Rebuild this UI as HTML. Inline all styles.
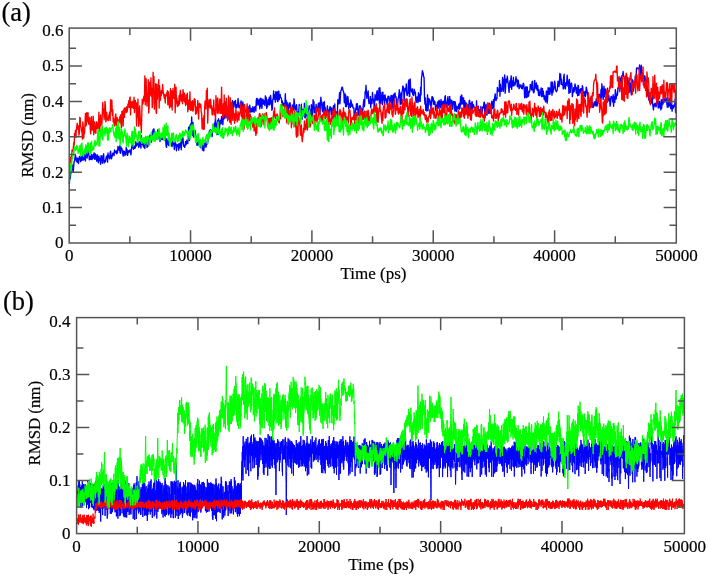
<!DOCTYPE html>
<html><head><meta charset="utf-8"><style>
html,body{margin:0;padding:0;background:#fff;}
svg{display:block;}
#t{position:absolute;left:0;top:0;will-change:transform;}
text{font-family:"Liberation Serif", serif;fill:#000;stroke:#000;stroke-width:0.2px;}
</style></head><body>
<svg id="t" width="708" height="576" viewBox="0 0 708 576">
<defs><filter id="bl" x="-5%" y="-5%" width="110%" height="110%"><feGaussianBlur stdDeviation="0.45"/></filter></defs>
<g fill="none" stroke-linejoin="round" filter="url(#bl)">
<path transform="translate(69.40 0) scale(0.433595 1)" vector-effect="non-scaling-stroke" stroke="#0000ff" stroke-width="1.35" d="M0 184l1-10.5 1 5.1 1-5.1 1-.6 1-.9 1-6.3 1 3.3 1-4.1 1 6.8 1-6.4 1-3.7 1-1 1-3.3 1-2.2 1 2.1 1 3.9 1-2.7 1 3.9 1-4.2 1 .6 1 4.8 1-3.5 1-3.5 1 .5 1 1.6 1 3.1 1-4.8 1 .4 1 3.1 1-5.4 1 1.7 1 3.3 1-1.6 1-1 1 2.1 1-6.6 1 8.1 1-8.3 1-2.1 1 6 1 1.4 1-5.1 1-2.5 1 4.3 1-.2 1 5.4 1-1.9 1-1.5 1 2.8 1-3.1 1-1.9 1 5.3 1-.8 1-2.1 1-2.2 1 3.5 1-5.2 1 6.5 1-.3 1-5.2 1 5.2 1-2.5 1 4.6 1-6.4 1 1.6 1 4.6 1 1.8 1-6.5 1 2.7 1 1.7 1-2.2 1 5.9 1-8.5 1 4 1-4.1 1 7.5 1-3.8 1-1.2 1-4.4 1 9.2 1-1.8 1-.7 1 1.4 1-2.5 1-2.6 1-.6 1-.7 1 6.6 1-9.1 1 2.8 1 .3 1 2.1 1 .7 1-5.9 1-1.8 1 4.4 1 3.3 1-1.7 1-1.6 1-2.3 1 1 1-1.3 1 2.7 1-5.7 1 2.9 1-.9 1 0 1-1.4 1 3.1 1-.5 1-.8 1-6 1 2 1-.6 1 2.7 1-4.8 1 7.1 1 .5 1-6.4 1 1.5 1 .1 1 2.3 1 2.7 1 2.6 1-5.1 1 2.6 1-2.2 1 4.1 1-2.5 1 1.7 1-7.4 1 3.1 1-1.1 1 6.1 1-2 1-2 1-.8 1 1.5 1-1.7 1-.5 1 2.5 1 2.4 1-5.8 1-2.3 1-2.6 1-2.3 1 7 1 .4 1-3.4 1 2.5 1-.1 1-.5 1-5.9 1 2.9 1 1.4 1-3 1 1.6 1-2 1 1.2 1 3.4 1-5.6 1 .3 1 4 1-1.3 1 3.4 1-12.4 1 8.6 1-5 1 3.4 1 3.1 1 1.2 1 0 1-3.7 1 5.2 1-8.4 1-.2 1 4.5 1-5 1 8 1-2 1 1 1-7.2 1-2.4 1 1.1 1 2.5 1-5.5 1 3.7 1-2.2 1 5.7 1-9.6 1 6.6 1-7.1 1-2.4 1 1.1 1-1.9 1 6.3 1 4 1-4.1 1 1.1 1 3 1-4.6 1 1.3 1-.3 1-5.9 1 8.7 1-7.7 1 7.8 1-1.4 1 4.5 1-3.5 1-1.7 1 3.2 1-2.7 1 1.4 1 1.3 1-.7 1 0 1-1.2 1 2.3 1-3.4 1 4.2 1-2.6 1 7.8 1 1.5 1-8.4 1 5.3 1-.9 1-2.9 1 5 1-3.1 1-3.3 1 3.9 1 .4 1 .7 1-4 1 5.9 1 .5 1-5.5 1 1.7 1 2 1-1.3 1 6.1 1-4.4 1-3.5 1 1.3 1 2.7 1 5.2 1-5.9 1-.1 1 1.4 1-1.8 1 5.7 1-6.7 1 4.4 1-2.5 1 .1 1-6.8 1 11.1 1-7.5 1 .6 1-5.2 1 .3 1 6.6 1 1.9 1-.9 1 1.8 1-2.3 1-3.5 1 3.4 1-1.5 1-3.4 1 2.4 1 1.2 1-9.4 1-7.1 1 7.2 1 6.2 1-14.7 1-.9 1-1.1 1 10.2 1-17.1 1 13.1 1 5.1 1-12.6 1 14.6 1-3.4 1-1.9 1 3.2 1-4.3 1 3.9 1 7.4 1-5.5 1 8.6 1-4.1 1 4.2 1-2.1 1-4 1 3.9 1 3.2 1-3.3 1-.5 1 5.4 1-2.7 1-2.9 1 2.7 1 5.2 1-4.7 1 4.4 1 1.1 1-4.6 1-3.9 1-.6 1 3.2 1 2.3 1-2.7 1 0 1-3.9 1 2.1 1-4.3 1-.3 1-4.5 1-3 1 3.1 1-4.1 1-.1 1 5.2 1-4.2 1 6 1-4.1 1-7 1 5.7 1-3 1-4.7 1 8 1-9.1 1-3.9 1 13 1-7.4 1 10.5 1-11.8 1-2.3 1 14 1-15.7 1 5 1 6.3 1-6.8 1-3 1-.1 1 3.6 1-7.4 1 4.9 1-1 1 4.4 1-9.1 1-3.1 1 6.3 1-6 1 2.8 1-.7 1 3.1 1-7.8 1 2.9 1-6.3 1 3 1 9.4 1-8.8 1-1.6 1-1.8 1 6.7 1-3.2 1-8 1 7.8 1-3 1 1.3 1-7.9 1 11.4 1-5.8 1-3.9 1-1 1 .6 1 4.9 1-6.4 1 7.6 1-3.5 1 3.3 1-1.4 1-2.5 1-5.5 1 7 1 2.2 1-1.8 1 1.9 1-4.9 1 .6 1-2.7 1 8.7 1-2.7 1-1.5 1-3.3 1 3.7 1 5.9 1-3 1-2.9 1 6.1 1 .1 1-1 1-.8 1 .5 1-1.4 1 .6 1-3.3 1 5 1-2.5 1 3 1-6.9 1 5.4 1 1.5 1-3.8 1 2.2 1 1.5 1-.4 1-4.7 1 .9 1 4.3 1 .2 1-5.4 1 .7 1-.7 1 4.2 1-10.8 1-1.7 1 6.5 1-6.2 1 1.1 1 3.4 1 1.8 1-5.2 1 8.8 1-10.5 1 8.5 1-8.3 1 1.7 1 8.3 1-5.6 1-3.7 1 1 1 4 1-3.5 1 1.4 1 3.6 1-9.8 1 1.8 1 .1 1 10.7 1-2.5 1 .9 1-6.9 1-.5 1 5.1 1-7.3 1 7.8 1-1.6 1-8 1 4.7 1 1.2 1 8.9 1-1.3 1-9.3 1-.3 1-8.3 1 8.1 1 .1 1-4.6 1 7.5 1-10.5 1 5 1 2.6 1-7.2 1 9.4 1 .2 1-10.4 1-.1 1 8.5 1-2.4 1-2.8 1 3.1 1 .1 1 .5 1 4.8 1-2 1 4 1 .8 1-2.6 1 2.4 1 .9 1-2.3 1-10.4 1 11 1-4.2 1 9.8 1-8 1 2.6 1 .5 1 7.8 1-7.7 1-2.5 1 4.9 1-5 1 4.8 1 1.4 1 2.4 1 7.3 1-13.9 1 3.3 1-2.5 1 4.3 1-11.2 1 3.4 1 4.8 1 3.1 1-1.5 1-2.7 1-1.2 1 8.5 1 5.5 1-5.2 1-1.5 1-.4 1-7.1 1 3.5 1 .4 1 3.6 1-1.4 1-6.4 1 12.7 1 2.1 1-9.7 1 3.4 1-.8 1 2.5 1-11.1 1 14.5 1-8.8 1 8.7 1-5.4 1-2.2 1 1.3 1 5.2 1-7.4 1 1.7 1-.8 1-4.4 1 11.6 1-3.5 1-4.2 1 6.9 1-11.9 1 4.1 1 7.3 1-3.2 1-13.1 1 1.3 1 1.1 1 10.7 1-5.4 1 1.1 1 4.3 1-8.3 1 3.1 1 4.3 1-2.1 1-1.9 1-4.4 1 5.3 1-6 1 9.9 1 1.7 1-12.8 1-4.4 1 4.9 1 3.2 1 4.8 1 1.6 1-9.4 1 .6 1 10.5 1-11.8 1 10.4 1-4.6 1 4.5 1 .2 1 .5 1-.7 1-6.1 1 5.5 1-1.5 1 1.8 1 3.8 1-6.3 1-2.5 1 .8 1 2.4 1 4.6 1-6.5 1 10.7 1-5.1 1-1.9 1-5.9 1 9.6 1 .7 1-12.1 1 14 1 1.7 1-7.7 1 0 1 5.5 1-3.6 1-14.1 1 4.4 1-2.1 1-1.1 1-8.2 1 11 1-7.8 1-5 1-.9 1-2.2 1-.8 1 .9 1 2.6 1 1 1 1.5 1 9.8 1-4.6 1-4.2 1 12.5 1-10.5 1 10.5 1-7.5 1 5.4 1-8 1 2.6 1 9.8 1-3.8 1-.3 1-1.6 1 4.4 1-7.5 1 1.8 1 4.5 1-2.4 1 1 1 3.1 1 .1 1-.2 1 8.1 1-2.1 1 .4 1-4.3 1-1.8 1-4.4 1 6 1-6.1 1 3.8 1 4.7 1 2.9 1-2 1-7.3 1 4.7 1-4.6 1 4.8 1-2.4 1 3 1 1.2 1-3.6 1 1 1-6.4 1-3.9 1 7.1 1-2.1 1-12.8 1 1.7 1-8.2 1 7.1 1 6 1-4.2 1-1.1 1-2.1 1 9.5 1 3.1 1-.3 1-.7 1-6.2 1 11.4 1-7.6 1-1.1 1 4.4 1-11.1 1 6.9 1-.4 1 3.1 1 4.6 1-3.9 1-8.2 1 3.3 1 2.3 1-.1 1-8.4 1-.9 1 9.5 1-1.1 1-3.4 1-7.5 1 16 1-16.6 1 4.9 1 11.2 1-7.7 1 2.6 1-6.1 1 12.2 1-12.6 1 7.9 1-.3 1-3.9 1 9 1-10 1 3.7 1 1.9 1-1.6 1 4.2 1 1.5 1-6.1 1-2.2 1 .2 1 0 1 7.4 1-4.9 1 2.8 1-4.1 1-2.1 1 9.9 1-9.8 1 5.4 1 7.3 1-13.3 1 5.9 1-6.9 1 3.9 1-4.9 1 3.3 1 .1 1 3.3 1 7 1-5.3 1 1 1-3.7 1-1.2 1-3.4 1-4.3 1 7.7 1 7.2 1-6 1-5.8 1 10.9 1-11.7 1-1.8 1-4.3 1 .9 1 4.1 1 9.9 1-8.7 1-4.1 1 2.1 1 .8 1-7.1 1 9.8 1 1.9 1-3.1 1 .9 1-11.8 1-1.6 1 16.5 1-.2 1-17.3 1 11.4 1-1.3 1 2.9 1 0 1-3.2 1 5.9 1 .4 1 .4 1-6.3 1 1.1 1 3.3 1-1.4 1 8.4 1 1.8 1-2.3 1-3.3 1 1.7 1 4.1 1-9.9 1 8.4 1-2 1-4.6 1 6.9 1-14.3 1 7.8 1-16.9 1-2.6 1-4.8 1 1.4 1 1.5 1 3.4 1 .3 1 20.3 1 6.6 1-6.1 1 12.4 1-5.7 1 6.2 1-7.9 1-8.2 1 16 1-6.9 1-5.5 1 2 1-.8 1 5.4 1-3.7 1 9.7 1-4 1-10.1 1-.3 1 4.3 1-3.1 1 6.3 1 .3 1-3.4 1 .8 1 4.5 1 4.1 1 .6 1-6.1 1 3.8 1-6.6 1 5.1 1-6 1 7.1 1-8 1 1.7 1 3.6 1 2.1 1-8.2 1 2.9 1 3.5 1 .3 1-4.7 1 2.2 1-2.5 1 7 1-3.6 1-7.9 1-1 1 7.3 1 4.4 1-4.9 1 3.5 1-6 1-3.3 1 8.4 1-2.8 1 2.9 1-8.8 1 7.1 1-3.8 1 7.5 1-6.8 1 .1 1 1.4 1 7.4 1-4.5 1-3.3 1 .6 1-.5 1 9.5 1-9.1 1 3.5 1 5.3 1 .8 1-5.3 1 2.5 1-1.6 1 1 1-4 1 5.3 1-6.2 1 4.9 1-11.4 1 8 1-9.9 1 .4 1 8.6 1-6.1 1 6 1-5.9 1 11.2 1-4 1-4.4 1 5 1 3.2 1-6.1 1 5.6 1 5.2 1-2 1-4.4 1-2.3 1 5.3 1-9.3 1-.7 1 4.6 1-1.5 1 9.8 1-6.1 1-4.8 1-.5 1 6.9 1-4.3 1 .6 1 1.6 1 1.4 1-.7 1 .3 1 5.3 1 .9 1-12.9 1 13.6 1-5.1 1 4.9 1-8.1 1 4.1 1-.1 1-.4 1 4.9 1-.7 1-7.4 1 3.6 1 3.5 1-1.4 1-5.2 1 1.2 1-.9 1-4.8 1-.3 1 13.2 1-9.7 1 3.1 1-4.7 1 10.4 1 .7 1-8.9 1 3.6 1-6.1 1 9.6 1-1.3 1-8.9 1 10.1 1-4.9 1-1.5 1-1.1 1-4.5 1 1.1 1 6.2 1-3.6 1-5.3 1 8.1 1-8.3 1-2.4 1-3.3 1 5.9 1 .9 1-2.7 1 .8 1-11.2 1 4.2 1-2.4 1 .9 1 .9 1-10.7 1 15.8 1-11.9 1 5.5 1 1.1 1 .4 1-3.3 1-10.5 1 3.8 1 9.9 1-9.9 1-2.5 1-3.8 1 18.3 1-5.1 1-9.2 1 3.4 1-.3 1-5.9 1 4.3 1 2.8 1 4.7 1 4.4 1-8 1-3.6 1 6.4 1-8.1 1-3.3 1 13.5 1-8.4 1 3.2 1 1.7 1-8.5 1 8.6 1-.9 1-2.4 1 2.2 1-4.3 1-3.8 1 5.1 1-2.6 1 7.6 1-3.3 1-3.3 1 2.7 1 5.8 1-.7 1-3.1 1 2 1-2 1 .6 1 2.9 1-1.4 1 1.8 1-4.5 1-1 1 1.4 1 4.6 1 8.6 1-1.5 1-8.8 1-.9 1 10.9 1-2.7 1-7.9 1 9.9 1-4.5 1 3.7 1-5 1 1.3 1-2.3 1-5.7 1 3.1 1-2.3 1 4.7 1-8 1-.6 1 8.5 1 2.3 1 .8 1-1.9 1-10.6 1 4.3 1 1.3 1 2.7 1-5.8 1 5.4 1 2 1-4.8 1 4.7 1 5.1 1-5.6 1 6 1-.5 1-3.8 1 .4 1-3.9 1 8.8 1-7.2 1-1 1 7.9 1-5.3 1 4.8 1 3.6 1-3.7 1 1.4 1 4.7 1-.9 1-10 1 .9 1 11.2 1-4.9 1-10.4 1 .3 1 6 1-6.3 1 6.6 1-3.1 1 .5 1-9.9 1 8.5 1 4.9 1-13.2 1 10.6 1-2.4 1-1.2 1-3.3 1-4.7 1 1.8 1 7 1 .7 1 1.3 1-1.2 1-.2 1-5.1 1-4.3 1 5.3 1 .2 1-2.7 1-10.4 1 4.9 1-4.2 1 10.2 1-5.3 1 4.6 1 1.2 1-.5 1 4.6 1-11.8 1-3.1 1 12.3 1 2.3 1 .1 1-6.1 1 2.8 1-3 1-7.4 1 5.4 1 5.7 1-4.8 1 12 1-14 1 6.2 1 6.8 1-7.1 1-1.9 1-.3 1 3.1 1 10.4 1-4.3 1 .3 1-5 1 4.1 1-2.2 1-5.6 1 1.7 1 2.1 1 5.3 1-5.2 1 3 1 5 1-10.5 1 .4 1 9.6 1-3.1 1-2.5 1 1.9 1-2.8 1 4.7 1-4.7 1 6 1-9.1 1 1.8 1 5.8 1-1.1 1 3.8 1-3.2 1-1.3 1 5 1-2.2 1-7.2 1 1.9 1 2.1 1 2.9 1 2.5 1 4.7 1-.7 1 5.1 1-1.5 1-6.2 1 8.8 1-1.5 1-7.1 1 3.9 1 5.2 1-4.7 1 4.9 1-1.8 1 .4 1-4 1 2.8 1-3.3 1 4.2 1-7 1 5.2 1 2.3 1-2.5 1-3.2 1 .8 1-5.4 1-1.8 1 1.3 1 .9 1 5.1 1-12 1 8.7 1-14.3 1 4.3 1 4.7 1 6.6 1-8.8 1-4.5 1 10.7 1-1.3 1-6.5 1 2 1 1 1 3.9 1 1.4 1-9.2 1 12.8 1-5.3 1-.3 1 5.4 1-2.3 1 7.8 1-2.3 1-7.3 1-.2 1 .8 1 1 1 3.7 1-7.2 1 11.6 1-7.9 1-1.7 1 5.6 1-12.6 1 2.3 1 7 1-3.5 1-1.5 1 1.2 1-7.3 1 .3 1-6.8 1-3 1 13.3 1-13.3 1-.1 1 10.6 1-12.5 1-.4 1-.4 1-.6 1-3.5 1 4.8 1 .4 1 3.1 1 3.3 1-.2 1 4.6 1 1 1-14 1 13 1-8.6 1-1.3 1 10.4 1-6.7 1 3 1 8 1-9.5 1 .4 1 6.3 1 5.4 1-3.2 1-12.2 1 3.3 1 .8 1 7.5 1-4.2 1-2.4 1 .4 1-8.8 1 1.8 1-1.1 1-8.8 1 .8 1-.7 1-.1 1 .6 1 .4 1 .6 1-4.6 1 4.4 1 7.9 1-4.4 1-7.8 1 6.6 1 7.2 1-5.4 1 3.8 1 7.9 1-7 1 2.2 1-4.8 1 2.5 1 12.3 1-7 1-3.6 1 3.9 1 7.1 1 5.3 1-6.4 1 10.2 1-6.8 1 8 1 1.8 1 .6 1-4.6 1 1.6 1 2.6 1-8 1 8.6 1 2.8 1 3.4 1-5 1-.9 1 2 1-2.8 1 1.9 1 1.7 1-2 1-4.5 1 1.9 1-4.8 1 10.6 1-3.6 1 3.2 1-6.3 1 4.1 1 2.1 1 2.4 1-10.2 1 8.6 1-6.2 1-2.6 1 4.5 1-2.4 1-1.3 1-1.6 1 3.4 1-1.4 1 .5 1-3.2 1 1.7 1 4.4 1 3.1 1-5.8 1 5.7 1-4.5 1-4.5 1 7.7 1-5.7 1 5.7 1 2.9 1-6.8 1 1.7 1 7.6 1-5.6 1 1.4 1 1.2 1-3 1-.5 1 1.7 1-7.6 1 13.7 1-11.3"/>
<path transform="translate(69.40 0) scale(0.433595 1)" vector-effect="non-scaling-stroke" stroke="#ff0000" stroke-width="1.35" d="M0 173.3l1-1.2 1-3.6 1-11.5 1 6.9 1-6.2 1-7.8 1 1.6 1-.3 1-3.1 1-5.6 1 2.8 1-11.9 1 1.5 1-4.8 1 7.3 1-7.3 1-3.2 1-3.8 1 5.4 1 .9 1-3.6 1 9.3 1-1.8 1-16 1 1 1 8.4 1 .6 1 4 1 .9 1 6.9 1-17.1 1 4.6 1 11.5 1-4.3 1-1.4 1-8.5 1-10.5 1 12.7 1-1.1 1-12.4 1 3.9 1 5 1-8.7 1 10.3 1 1.2 1-1 1-6 1 11.5 1 5.1 1-5.7 1-11.5 1 13.2 1-7.9 1 8.1 1-13.8 1 18.4 1-5.3 1-7.6 1 7.3 1 3.9 1 .3 1-10.2 1-1.5 1 7 1-5.3 1 1.6 1 4.2 1-16.9 1 12.5 1 6.8 1-10.2 1-6.5 1 10.8 1-6 1 4.7 1-12.1 1-9.7 1 10.8 1-4.3 1 10.8 1-4.6 1-13.8 1 3.5 1 16.9 1-1.4 1-8.3 1 5.4 1 2.3 1-.9 1 1.6 1-5.4 1-.7 1-2.5 1 8.5 1-20.7 1 10.8 1 1.1 1-11.3 1 14.9 1-5.6 1 12.3 1-3.7 1 5.4 1 2.3 1-4.2 1-5.4 1-2.3 1 12.2 1-6.4 1-2.4 1 3.6 1-1.4 1 4.7 1-3.6 1 0 1-3.7 1 5.6 1-7.6 1 8.3 1 4.3 1-15.9 1-.7 1 10.3 1 4.8 1-14.9 1-2.3 1 8.5 1-9.7 1 .6 1 1 1 3.3 1-5.8 1 5 1-2.2 1-5.7 1 2.6 1-5.8 1 6.7 1-9.3 1-1.1 1 17.9 1-12.8 1 1.7 1 3.5 1-6.1 1 1.6 1 5.6 1-.2 1-11 1 15.3 1-9.6 1-2.5 1 3.4 1 6.2 1 15.9 1-23.3 1 14.2 1-17.6 1 17.2 1 10.1 1-12.2 1-8.4 1 8.4 1 10.5 1-.4 1 7.9 1-18.8 1-14.2 1 4.8 1-.7 1-5.5 1-1.9 1 5 1-25 1 28.9 1-15.5 1-10.8 1 20.8 1 6.7 1-10.5 1-2.4 1-13.4 1 33.2 1-6.4 1-24.3 1 2.5 1 10.3 1-17.3 1 18.5 1-8.2 1 19.6 1-3.5 1-31.9 1 16.7 1-12.5 1 32.7 1-12.8 1 4.1 1-16.9 1 28.6 1 1.2 1-29.1 1 14.9 1-10.4 1 6.4 1-15.6 1 28.5 1-22.5 1 8.2 1 6.4 1-8.9 1 4.3 1-5.4 1 3.1 1-8.9 1 6.3 1 3 1 2.5 1 2.2 1-3.8 1 8.4 1-7.5 1-.2 1-2 1 2.6 1-5.3 1 14.1 1-13 1 4.6 1 7.7 1 4 1-8.5 1-10.8 1 18 1-.9 1-15 1 19.3 1-17.2 1-4.4 1 9.5 1-3.1 1 3.9 1-14.5 1 28.5 1-19.1 1-6.5 1 16.5 1-5.5 1 8.4 1-5.3 1 2.2 1 2 1-9.9 1 8.3 1-10 1-3.6 1 6.6 1 4.2 1-3.5 1-3.2 1 9.3 1-14.1 1 3.9 1 7.2 1-7.7 1 9 1-.3 1 3.8 1-10.7 1 1.8 1 7.5 1-10.9 1 18.6 1-11.6 1-.1 1 9.4 1-6.2 1-11.5 1 15.3 1 3.3 1-8.8 1 2 1 6.5 1-9.5 1 10.6 1-1.7 1-5.9 1-5 1 6.4 1-5.5 1 14.7 1-7.6 1 6.8 1-4.3 1 .9 1-9.6 1 10.7 1 7.9 1-13.7 1-2.2 1 4.2 1-2 1-1.2 1 7.9 1 1.5 1 15.3 1-10.4 1 4.2 1 6.8 1-13.4 1 13.1 1-22.1 1-6.1 1 4.4 1 3.5 1-18.2 1 14.2 1-16.6 1 34.8 1-13.9 1-4.9 1-4.4 1 4.5 1 3.5 1-8.7 1 1.1 1 8.4 1-2.9 1 8.6 1 .6 1-7 1 2.8 1-10.7 1 14.8 1-5.7 1 2.9 1 7.5 1-23.9 1 13.9 1-10.2 1 13.9 1-15.3 1 5.2 1 8.3 1 2.1 1-5.5 1-9.1 1 1.7 1 12.9 1-8.6 1-17.8 1 26.1 1-3.3 1 7.5 1-13.5 1 12.8 1-21.8 1 19.4 1-12.5 1 10.1 1 5.6 1-19.4 1 11.3 1 1.9 1 9.6 1-7.7 1-17.2 1 15.4 1 4.2 1 6.8 1-24.6 1 9 1 17.6 1-22 1 1.3 1 12.2 1 4.6 1-12.2 1 6.7 1-1.4 1 9.7 1-9.4 1 6.4 1-11.4 1 4.7 1 .8 1 7.5 1-3 1-7.3 1 8.3 1 .1 1-5.9 1-1.8 1 .6 1-9.3 1 11.7 1 1.3 1-6.6 1 10.6 1-14.6 1 6 1 2.5 1 14.5 1-24.5 1 15.7 1 2.6 1-5.2 1 5.1 1-14.3 1-4.6 1 17.6 1-11.2 1 6.2 1-7.8 1 15.5 1-.4 1-9.5 1 9 1-3.6 1-2.6 1 3.5 1 0 1 6.6 1-1.4 1-5.2 1 10.5 1-9.5 1 5.7 1 1.5 1 6.7 1-14.5 1 12.6 1-9.9 1-2.8 1-3.2 1 7.2 1-3.9 1-7 1-.5 1 3.2 1-1.3 1 11 1-.7 1-3 1-4.3 1-4.5 1 1.4 1 6 1 3.9 1-5.2 1-6.3 1 .9 1-.7 1-1.1 1 2.6 1 2.6 1 8.2 1-7.4 1 8.3 1 1.8 1-10.5 1 10.4 1-3.3 1-7.3 1 4.4 1-1.9 1-3.2 1 .1 1 .6 1 1.7 1-8.3 1 4.3 1-8 1 8.7 1 2.1 1-3.7 1 2.4 1 3.2 1-6.6 1 2.1 1 3.6 1 2.3 1-3.8 1 4.9 1-9.4 1 4.8 1 .5 1-7.4 1-3.8 1-3.3 1 7.4 1 4.8 1-4.3 1-1.2 1-1.2 1 7.3 1-12.5 1 10.6 1-.4 1-8.6 1 16.5 1-15 1 2.5 1-.1 1 13.8 1-13.7 1 10.8 1 .1 1-2.1 1-11.9 1 4.6 1 16 1-20.5 1 .7 1 8.6 1 7.4 1-5 1 5.5 1-13.6 1 15.9 1-2 1-12.6 1 22.7 1 2.3 1-15.5 1 5.5 1 8.9 1-19 1 1.1 1 2.4 1 3.7 1 2 1 8.8 1-2.9 1-7.3 1 11.7 1 5.2 1-4 1-3.5 1-6.1 1 3.9 1-11.2 1 8.4 1-4.7 1 5.2 1-4.5 1-6.4 1 5.3 1 5.8 1-12.8 1 2.5 1-2.4 1-3.6 1 11.5 1 1.8 1-2 1-3 1-1.7 1 .2 1-4.6 1 7.4 1 .3 1-1.5 1-6.9 1 2.1 1-1.8 1 7.7 1-5.3 1-10.2 1 9.2 1 5.2 1-3.6 1 .8 1-3.1 1-7.9 1 .1 1 .5 1 7 1 2.7 1 2.2 1-4.8 1 5.7 1-6.3 1-.6 1 7 1-7.9 1-3.4 1 2.4 1 5.4 1-6.4 1 6.4 1-.6 1-6.6 1-.5 1 4.5 1-.1 1 10 1-4.3 1-9.4 1 3.1 1 7.3 1 2.5 1-5.3 1 0 1 4.4 1-6.9 1-1.8 1-4.3 1 3.6 1 5.6 1-10.8 1 6.1 1-5.3 1 6.6 1 2.4 1-5 1 4.9 1-.3 1-1.6 1 5.7 1-4.2 1-5.7 1-1.6 1-1.3 1 5.7 1-4.1 1 10.5 1 1.5 1-8.9 1-1.3 1 10.7 1-15.7 1 6.2 1 7.4 1-9.3 1 2.2 1-.9 1 7.3 1-3.8 1 1.6 1 1.3 1-2.8 1 6.2 1-10.7 1-2.6 1-.1 1 .5 1 6.4 1 9 1-3.2 1-3.4 1-2 1 1.7 1 .7 1-.8 1-3.7 1 3.4 1 5.4 1-10.4 1 6 1-6.8 1 7.6 1-4.4 1-3.9 1 7.3 1 5.8 1-6.8 1 4.3 1-6.8 1-6.9 1 8.8 1-4.8 1-4.9 1 11.1 1-2.8 1-4 1 7.8 1-7.9 1 7.1 1-8.2 1 9 1-8.7 1 12.8 1-7 1 5.8 1-11.7 1 3.8 1 5.8 1-10.6 1 2.6 1 9.8 1-2.8 1 .8 1-4.7 1 3.3 1-6.4 1-3.4 1-.5 1 4.6 1 0 1-.9 1-5.2 1-.6 1 3.7 1 1.8 1-5 1-2.6 1-.9 1 18.1 1-14.1 1 13.8 1 .6 1-8.1 1-5.9 1 3 1-7.8 1 8 1-1 1 5 1 3.4 1 4.5 1-11 1 8.1 1-12 1-2.5 1 .9 1-2.6 1 13.8 1-2.1 1 1.4 1-7.7 1 1.5 1-4.5 1-3.4 1 9.4 1-1.1 1-7.8 1 9.9 1-11.9 1 7.9 1-2.3 1 .8 1-4.3 1 10.8 1-2.2 1 4.5 1-5.7 1-8.9 1 3.7 1-6.4 1 11.1 1 3.6 1-4.9 1-4.5 1 .5 1 4.7 1-10.7 1 13.3 1 1.3 1-5.5 1 1.4 1 2.9 1-6.4 1 .5 1 11.1 1-3.6 1 7.1 1-18.7 1-3.6 1 14.3 1-.5 1-7.8 1-3.2 1 7.6 1-10.2 1 5.3 1-6 1 8 1-7.5 1 7.2 1 10.2 1-9.3 1 3.9 1-8.3 1-1.2 1-2.9 1 16.2 1-8.6 1 10 1-19.4 1 7.4 1 3 1 9.6 1 .6 1-14.1 1-.3 1-1.2 1 18.8 1-7.5 1-4.3 1 4.7 1-6.5 1-.4 1 10.8 1-2 1-1.2 1-5.2 1 5.4 1 5.6 1-13.9 1 5.9 1-1.8 1 3.6 1-1.3 1-.5 1-2.8 1 5.5 1-2.7 1 3 1 1.1 1 3.3 1-4.8 1 .7 1 6.7 1-4.6 1 .5 1 4.3 1-4.1 1-2.2 1 .3 1-6.6 1 5.4 1 3.3 1-3.7 1-9.1 1 7.2 1-4.6 1 3.9 1 2.1 1-6.4 1 10.2 1-6.1 1 3.9 1-.6 1 3.1 1-1 1-10.1 1 7.4 1-5.7 1 4.1 1 5.1 1-.3 1 .8 1-10 1 4.2 1-1.9 1 5.8 1 2.3 1-13.1 1 13.9 1-13 1-2.6 1 7.1 1 1.1 1-1.2 1-6.9 1 16.7 1-7.8 1 9.5 1-1.8 1-16.5 1 1.6 1 1.2 1 4.1 1-.3 1-.3 1-4.8 1 8.1 1 4.3 1-14.2 1 6.9 1 3.8 1-1 1 1 1 7 1-.3 1-1 1-6.8 1 9.9 1-5.1 1-4 1 1 1-.7 1 8.8 1-5.8 1-.6 1-6.8 1 9.5 1-7.5 1-.4 1 6.2 1-6.1 1 5 1-.3 1-9 1 4.9 1-4.6 1 5.2 1 3.2 1-7.9 1 9.5 1-6.6 1-3.9 1 3.7 1 3.4 1-9.9 1 5.6 1-6.4 1 14.2 1-6.2 1-2.8 1 6.3 1-10.6 1 4.4 1 10.2 1-7.4 1 8 1-7.2 1-3.7 1 1.9 1 2 1-2.1 1-1.2 1 .4 1-3.1 1 7.7 1 0 1 1.4 1-10.2 1 10.2 1-3.5 1-5.8 1 6.5 1 3.1 1-1.9 1 1.2 1 1.5 1-.4 1-3.8 1-5.6 1 4.5 1 4.4 1-2.5 1 3.9 1 .2 1-2.9 1 5.9 1-9.3 1 5.8 1-5.7 1-2.2 1 3.6 1-6.4 1 6.6 1-10.8 1 6 1-4.7 1 3.8 1 .7 1-4.4 1 9.4 1-7.9 1 1.1 1 10.9 1 .4 1-.7 1-1.9 1 5.6 1-12.2 1 1.9 1-1.8 1 9.2 1-3.7 1 4 1-.2 1-4.7 1-3.2 1 .2 1 10.3 1-2.5 1-1.5 1-3.6 1 .7 1-1.2 1 .2 1-4.2 1 3.8 1-3.1 1 2.4 1-.4 1 3.7 1-3.8 1 3.2 1-12.6 1 1.9 1 13.4 1-15.6 1 5.1 1 6.4 1-7.9 1 7.2 1-10.1 1-1.3 1 .5 1-.5 1 6.7 1-.2 1 3.1 1-6.5 1 11.2 1-6.2 1-.2 1 1.1 1-3.6 1-2.3 1 2.1 1 3.3 1-1.2 1 2.1 1-6.7 1-.2 1 10.9 1-6.2 1 2.8 1 .9 1 3.3 1-11.6 1 4 1 1.3 1 .1 1-5 1 5.4 1-6.1 1 7.5 1 .7 1 .5 1-7.6 1 9.8 1-6.8 1-2.4 1 2.1 1-.8 1 5 1 3.7 1-10.4 1 4.1 1 5.8 1-2.3 1-.5 1-9.6 1 11.6 1-12.5 1 8.9 1 7.3 1 1.8 1-5.3 1 1.1 1-6.7 1 1 1 7.4 1-7.2 1-1.1 1-5.1 1 8.4 1 3.4 1-7.6 1 .7 1 9.8 1-6 1-1.4 1-4.7 1 2.1 1 1.7 1 6.8 1-8.4 1 8.2 1-8.9 1 2.8 1 4.2 1-3.4 1-2.2 1 3.7 1 2.5 1-8.9 1 5.2 1 1.2 1-.3 1 5.4 1-4.9 1 1.8 1 1.9 1 3.6 1-4 1 7.3 1-11 1 9 1-11.4 1 1.6 1 3.5 1 5.5 1-4 1-5.4 1 9.3 1-8.4 1-2.6 1 6.2 1-1.8 1 5 1-7.5 1 4.7 1 1.2 1-1.7 1-1.4 1-3 1 7.3 1-3.4 1 .7 1-3.7 1 3.1 1-5.9 1 6.9 1 2.9 1-5.4 1 5.8 1-4.3 1 7.1 1-9.1 1-7.7 1 10.5 1-4 1-6 1 9 1-3 1-1.6 1-4.2 1 3.3 1-.5 1 9.7 1-17.7 1 6.1 1 3 1-11.3 1 1.2 1 23.8 1-18.4 1 14 1-11 1 .1 1-5 1 5.5 1 14.6 1-18.8 1 17 1-3.9 1 8.1 1-16.9 1 10.8 1-4.7 1-7.9 1-8.3 1 22.6 1-21.2 1 7.8 1 9.3 1 1.3 1-14.3 1 3.1 1-3.1 1 9.8 1 2.1 1-24.8 1 20.1 1-20.6 1 10.5 1-7.7 1 19.2 1-9.5 1-5.6 1 2.1 1 .4 1 6.3 1-1 1 5.1 1 6.4 1-7.1 1-13.7 1-3.8 1 5.9 1 13.8 1-8 1-1.6 1 5.1 1-11.7 1 1.4 1 9.5 1-12.5 1-2 1 3.3 1-11.8 1-2.7 1-1.2 1-.3 1-.8 1-4.8 1 6.6 1 .5 1 20.2 1-18.5 1 13.9 1-2.5 1 9 1 .2 1 8.7 1-5.7 1-7.9 1 .6 1 9.4 1 1.4 1 11.9 1 1.1 1-20.9 1 13.4 1-12.3 1-3.3 1 14.3 1-2.9 1-14.8 1 16.5 1-21.1 1-2.5 1 12.7 1-6.6 1-5 1 1.3 1-.4 1-4.7 1 1.8 1-12.1 1-.9 1 11.5 1-11.5 1 7.1 1 4.9 1-15.9 1 .9 1-.5 1-.6 1-.5 1 .3 1 1 1 .3 1-6.3 1-.4 1 15.1 1-.7 1-2.9 1 10.2 1-11.1 1 14.6 1-7.3 1-1.6 1 2.7 1-.7 1 15.2 1-23.2 1 15 1 9.1 1-4.2 1-8.5 1 13.6 1-25 1-.1 1 18.2 1-21.2 1 2.5 1 22.2 1 0 1 .4 1-12.6 1 7.1 1-14 1 2.3 1-3.4 1-2.6 1-2.5 1 9.3 1 1.9 1 10.9 1-5.1 1-5.9 1-2.6 1 6.6 1-1.7 1-1.1 1-5.7 1 14.2 1-19.2 1 6.3 1-5.5 1 10.7 1 5.3 1-4 1-3.4 1-15.5 1 22.6 1-8.1 1-5.8 1-.5 1-2.4 1 8 1-1 1-5 1-8.9 1 15.8 1 3.1 1 2.1 1-6.2 1 3.2 1 4.9 1-10.2 1 17.5 1-25.2 1 6 1 4.3 1-4.4 1 4.1 1 18.4 1-.4 1-7.3 1 12.2 1-9.9 1-6.8 1 3.9 1-2.1 1 6.1 1-19.4 1 22.3 1-13.9 1 13.2 1-23.1 1 12.4 1 3.3 1 8.3 1-16 1 21.1 1-10.1 1-6.8 1 13.8 1-9 1 5.5 1 1.2 1-4.5 1-7.5 1 0 1 7 1-1.5 1-7.6 1 2.3 1 10 1 4.4 1-21.3 1 17.1 1-5.2 1 4.9 1 1.5 1-6.5 1-8.7 1-.8 1 .9 1 18.7 1-9 1-3.5 1 1.3 1-6.9 1 10.7 1 7.5 1-2.4 1-15.3 1 19.2 1-13.2 1-5.8 1 .1 1 1.9 1 5.5 1-5.2 1-2.8 1 7.3 1 10.1 1-11.8"/>
<path transform="translate(69.40 0) scale(0.433595 1)" vector-effect="non-scaling-stroke" stroke="#00ff00" stroke-width="1.35" d="M0 181.4l1-6.4 1-3.6 1-8.3 1 8.4 1-4.6 1-9.3 1 1.1 1-4.6 1-2.4 1 3.3 1-6.3 1-.5 1-1.9 1 4 1-2.6 1 1.9 1-4.2 1 3.6 1-2.6 1 7 1-2.7 1-1 1 1.8 1-5.8 1 6.2 1 3.6 1-11.4 1-.1 1-.8 1 11.6 1-2.9 1 3.9 1-1.1 1-4.4 1 .1 1-2.3 1 6 1-9.3 1 2.2 1 1.4 1 4.8 1-9.7 1-1 1 1.9 1 7.7 1-4.7 1 6.2 1-10.5 1 10.2 1-1.3 1-10.6 1 5.9 1 3 1-3.6 1 2.5 1 .3 1-5.1 1-1.6 1-2.5 1 5.6 1-3.7 1 .7 1-.5 1 2.6 1-10.4 1-5.4 1 .2 1 16.4 1-8.9 1 9.2 1-10.2 1-5.8 1 6.8 1-3 1-8.9 1 1.4 1 13.6 1-7.1 1-.2 1-3.3 1-1.3 1 7.9 1-4.9 1-3.7 1 5.3 1-5.4 1 6.2 1 6.2 1-10.9 1 11.5 1-11.3 1 4.5 1-5.9 1 3.1 1 1.2 1-2.8 1-1 1-.3 1-.4 1-2.7 1 6.1 1 2 1 2.8 1-2.8 1 4.6 1-5 1-4.1 1 13.2 1-15.4 1 12.1 1-13.3 1 9.6 1-13 1 17.5 1-6.8 1-5 1 18.3 1-5.6 1-4.9 1-6.1 1 2.4 1 .6 1 9.1 1 1.9 1-8 1 .9 1-.6 1-6.3 1 5.5 1 3.2 1 4.2 1 4.1 1-12.8 1 8.1 1-5.6 1 11.2 1-7.3 1 2.9 1-6.3 1 1.3 1 5.1 1-2.2 1 3.1 1-11.8 1 12.4 1-12.7 1 15.1 1-10.6 1 7.5 1-16.4 1 11.1 1-8.9 1 4.3 1 2.9 1-1.7 1 3.9 1 3.6 1 .6 1-4.8 1-6.6 1 2.9 1 2.8 1-5.7 1 9.5 1-3 1 .5 1 5.2 1-1.7 1-1.3 1-2.7 1 4.2 1-.7 1-3.7 1 6.5 1-1.3 1-6.6 1 5.3 1-4.7 1 7.7 1-.7 1-7.8 1 .4 1 2.2 1-.3 1 6.9 1-2.9 1-5.6 1 2.5 1-7.1 1 7 1 1.6 1-3.6 1-1.7 1 3.2 1 2.7 1-4.4 1-4.3 1 8.5 1-9.6 1 6.2 1-3.4 1 4.6 1-6.6 1 7.4 1-3.6 1-7 1-.4 1 4.6 1 6.6 1-4.4 1 0 1-2.6 1 4.9 1-3.1 1-.1 1-6.8 1 10.8 1 1.8 1-15.4 1 14.9 1-4.1 1-7.1 1-5.5 1 11.9 1 .2 1-6.3 1-3.2 1 14.4 1-7.2 1 .5 1 11.5 1 1.1 1-2.3 1-6.3 1 4.6 1-8.7 1 7.5 1-4.2 1-3.5 1-.3 1 7.8 1-1.3 1 .6 1 1.7 1-5.4 1-1.1 1-.5 1 4.2 1 3 1-3.5 1 2.9 1-5.5 1 1.7 1-2.3 1-2.1 1 8.6 1-2 1-5.4 1 .1 1 1.7 1-4.9 1 6.5 1-6.2 1 3.2 1-1.9 1 2.6 1-4 1-1.4 1 1.1 1 .1 1 1.8 1 1.1 1 5.5 1-3.2 1-4.8 1 3.9 1-5.7 1 9.3 1-3.9 1-9.4 1 9.2 1-.2 1-10.4 1 3.8 1 1.6 1-4 1 2.8 1 1.6 1 6.7 1-1.5 1 6.5 1-6.8 1 7.4 1-3 1 2.2 1-6.4 1-1.8 1 4.1 1 6.1 1 3.1 1-2.8 1 .1 1-5 1 8.3 1-1.1 1-5.9 1 1.1 1-4.1 1 7.3 1-3.5 1-1.2 1 2.4 1-.1 1-2.6 1-3.2 1-.9 1-1.1 1 5.9 1 3.4 1-10.2 1 5.2 1-.2 1-6.1 1 2.9 1-5.2 1 6.4 1-5.7 1 .9 1 .9 1-3.9 1-4.9 1 3.4 1 4.6 1-2.2 1 1.8 1-4.3 1 4.6 1 1.1 1-4.4 1 5.8 1-5.7 1-3.2 1-3.6 1 11.6 1-4.4 1 4.3 1-2 1 4.7 1-.3 1-6.5 1 5.6 1 2.4 1-9.5 1 10.4 1 .3 1-1.1 1-4.4 1 1.8 1-6.5 1 4 1-3.2 1 1.9 1-1.8 1 3.5 1 3.4 1-7.8 1 6.4 1-7.3 1-.5 1 4.6 1 .8 1 1.2 1-6.4 1 4.3 1 1 1 3.3 1-5 1 1.8 1-5 1 3.1 1-1.1 1 2.6 1-5.8 1 .7 1 5.1 1 3.1 1-4.5 1-.4 1-2.2 1 5.7 1-1.3 1 3.9 1-5.2 1-5.7 1 0 1-3 1-2.7 1 9.9 1-1.4 1-9.1 1 12.3 1-6.3 1-5.1 1 5 1-.9 1-3.1 1-3.5 1 6.8 1 2.9 1-7.5 1 9.4 1-.9 1-5.2 1 2.8 1-3.1 1-1.5 1 1.8 1 6.9 1-12.5 1 6.6 1-.9 1-3.1 1 1.2 1-3.6 1 1.4 1 2.4 1 1.9 1-6.7 1 10 1-8.2 1 4 1-2.5 1-.7 1 7.5 1-7.4 1 7.3 1 0 1-9.4 1 8.9 1-8.4 1 9.5 1-8.3 1-2.4 1-1.9 1 .9 1 3.4 1-1.5 1-.9 1 2.7 1 2 1 6.8 1-13.2 1 6 1-1.4 1-2.4 1 1.9 1 1.5 1 7.6 1-3.4 1-.6 1 6.6 1-3 1-2.3 1 3.5 1-6.3 1 6.4 1-2.1 1-4.7 1-4.9 1 12.4 1-6.9 1 7.6 1-10.3 1 7.5 1-6.9 1 3.3 1 1.6 1-8.8 1 1.8 1-.4 1-1.2 1 .9 1 2.6 1-2.1 1-5 1-4 1-4.6 1 .9 1 2.5 1 6.1 1-5.8 1-2.5 1 10.5 1-6.7 1 1 1 3.8 1 4 1-10.8 1 3.6 1 6.8 1-2.7 1-1.7 1 1.4 1 8.6 1-8.4 1 7 1 .7 1-7 1 5 1-2.1 1-1.8 1-3.9 1 8.6 1-5.3 1 0 1-2 1 12.4 1-3.3 1-4.2 1-2.9 1-4.6 1 9 1 .5 1-8.9 1 12.9 1-1.6 1-10.8 1 1.5 1 .3 1 .8 1-2.2 1-6.9 1 16.7 1-7.8 1 4 1-1.3 1-7.8 1 3.6 1 1.6 1 .9 1-5.1 1-2.6 1 3.9 1-5.4 1 .7 1-7.2 1 13 1-8.1 1 3.1 1 6.8 1 5 1 6.9 1-7.9 1-9.7 1 8.4 1-3.1 1 7.9 1-4.7 1 .8 1 1.3 1-.7 1-4 1 5.9 1 2.9 1 5.9 1-6.7 1-2.1 1 5.2 1-.2 1 3.1 1-3.4 1-3 1 6.5 1 1.8 1-9.7 1 1.7 1-7.2 1 3.9 1-1.7 1 3 1-.5 1-.2 1 .5 1 2.8 1-1.9 1-2 1-4 1 13.4 1 .8 1-8 1 8.1 1-11.2 1 .2 1 9.6 1 10.9 1-15.5 1 1.9 1 15.1 1-19.1 1 13.2 1-1.6 1-4.8 1 1.7 1 7.3 1-16 1 4.1 1-.2 1-3 1-3.8 1 15.4 1-7.6 1-9.6 1 4.4 1 5.1 1-1 1-11.2 1 7.4 1 2.9 1 .6 1 .6 1-10.7 1 16.1 1-6.5 1 6.1 1 .5 1-8.3 1-5.6 1 11.2 1-4.7 1-1 1-2.6 1 14.2 1-11.3 1-6.3 1 5 1-3.4 1 7.2 1-2 1-3.1 1 10 1-6.6 1 6.6 1 3.9 1-8.3 1-2.5 1 4.1 1 5.8 1-7.9 1 1.9 1-.9 1 1.8 1 1.3 1-7.7 1 3.6 1 2.1 1-4.3 1 4.8 1 1.9 1-3.7 1-3.7 1-2.5 1 12.1 1-4.6 1-11.7 1 2.3 1 11.2 1-.3 1-6.8 1 5.3 1-12.1 1 4.6 1 3.6 1-8.9 1 3.9 1 8.2 1 1.9 1-7.8 1 3.4 1 5.8 1-8.4 1-4.5 1 3.6 1-1.7 1 6 1-4.6 1-4.1 1 10.5 1-7.5 1 3.5 1 1.7 1-.9 1-2.8 1 2.5 1-1.7 1-6.4 1 5.2 1 .4 1 .1 1 .9 1-4.9 1 9.1 1 1.9 1-16.3 1 10.2 1-2.3 1-5.8 1 10.5 1-3.2 1 3 1 0 1 6.6 1 .5 1-2.7 1 1.8 1-3 1 1.6 1-1.9 1 2.5 1-2.3 1 4.2 1 1.2 1-2.3 1 3.7 1 .7 1-11.2 1 5.5 1-1.5 1-.4 1-2.8 1 6 1-1.9 1-2.5 1 1.4 1-2.3 1-5 1 12 1-5.5 1-2 1 4 1-5.8 1-4.4 1 10.7 1-9.5 1 4.4 1 2.6 1 5 1-1.4 1-4.1 1-3.3 1 1.5 1 6.4 1 1.5 1-5 1-5.3 1 6.7 1-6.4 1-.6 1 1.1 1 2.3 1-.4 1 2 1 .4 1-3.3 1-8.2 1-.4 1 6.6 1 .2 1 6.7 1-8.3 1-1.2 1 5.6 1 .1 1-5.5 1 3.1 1-7.4 1 .4 1 7.9 1-11.1 1 11.2 1-1.6 1 1.4 1 1.6 1 .1 1-10.2 1 2.1 1 3.1 1 7.5 1-9.5 1 3.6 1 1.2 1 8.8 1-15.2 1-.3 1 9.9 1-10.7 1 9 1-3.7 1-5.1 1 5.2 1-2.5 1 5.1 1 .8 1 5.4 1-4.9 1 .4 1-2.6 1 2.2 1 3.9 1-12.1 1 9.5 1-5 1 2.6 1 2.8 1 2 1-2.1 1-2.8 1 4.1 1-1.4 1 .7 1 1.5 1 3.4 1-2.4 1-.2 1-5.5 1 4.8 1-6.8 1 9 1-6.9 1 10.8 1 .4 1-8 1 6.5 1-3.8 1-5.2 1-1.8 1 6.1 1 3.1 1-4.7 1-7.3 1 1.5 1 2.5 1 5.4 1-5.1 1 .9 1 3.4 1-6.5 1 .7 1-.1 1-5.6 1 7.9 1-1.1 1 1.1 1-9.5 1 1.6 1 8.2 1-2.2 1 4.1 1-8.7 1 3.5 1-4.4 1 3.7 1-3.3 1 4.3 1 2.3 1-1.7 1-8.8 1 9.9 1-2.1 1-6.3 1 .9 1 4.5 1 2.3 1-4.4 1-4.8 1 8.3 1-1.3 1 4.7 1-12.2 1 11.8 1-.2 1-4.4 1 5.3 1-4.9 1 2.2 1-7.2 1 3.8 1-3.7 1-2.8 1 5.8 1-1.4 1 5.5 1 2.1 1-7.1 1 1.9 1 1.3 1-7 1 8.5 1 0 1-1.1 1-3.6 1-.5 1 6.3 1 2.7 1 4.6 1-1.9 1 1 1-3.6 1 4.5 1-5.5 1 3.2 1 1.4 1 3.6 1-4.6 1-6 1 11.6 1-8.7 1 3.5 1-.6 1-2.1 1 9.9 1-2.7 1-5.6 1 1.7 1-2.5 1 3.5 1-3.7 1-1.4 1 1.1 1 1.5 1 2.3 1-4.4 1 1.4 1 1.8 1 3.6 1-2.8 1-8.5 1 2.7 1 .8 1 2.7 1 5 1-4.2 1-7.6 1 6.3 1-2 1 1.1 1 3.3 1-8.9 1 8.2 1-11.2 1 6.8 1 1.8 1 3.2 1-8.5 1-3.3 1 7.4 1-3.5 1 7.4 1-6.9 1-.2 1 7.5 1-3.4 1 3.7 1-8.9 1 12.1 1-8.9 1 6 1-7.7 1-3.5 1 5.4 1 2 1 6.4 1-5.7 1 2.3 1 0 1 4.5 1-11.7 1 8.5 1-6.3 1 2.2 1-3.6 1 6 1-9.3 1-.3 1 3.8 1-2.8 1 5.3 1 .4 1-5.4 1 4.4 1-4.7 1 2.2 1-.2 1 4.4 1-5.2 1-2.9 1-.5 1 6.6 1-7.7 1 2.7 1-.2 1-4.1 1 3.6 1 4.7 1-1.7 1-3.4 1 4.5 1-.4 1 2.6 1-7 1 1.3 1 2.8 1-.4 1 .6 1-1.2 1-1.7 1-5.1 1 3.4 1-3.1 1 2.1 1 2.5 1 5.5 1 1.3 1-7.8 1 5.7 1 1.4 1-3.3 1-6.5 1 .4 1 8.5 1 .8 1-2.9 1-6 1 10.4 1-1.5 1-4.8 1-.1 1-5.3 1 9.9 1-10 1 8.7 1-1.4 1-3.5 1 6.9 1-8 1 2.8 1 .5 1-2.1 1-3.6 1 7.7 1-4.8 1-2.6 1 0 1 .6 1 5.7 1-6 1-2.6 1-2.3 1 1.1 1-.3 1 9 1-1.2 1-3.8 1-.9 1 5.5 1 .9 1-2.4 1 6.8 1-.4 1-.6 1 2.6 1-5.9 1 8.4 1-10.3 1 5.1 1 1.2 1-3.7 1 2.1 1-7.1 1-1.1 1 5 1-3.1 1 5.9 1-3.3 1 2.3 1-2.4 1-.7 1 .4 1-2.2 1-.6 1 10.5 1-16.8 1 6.7 1 8.8 1-3 1 4.5 1-2.9 1-7.5 1 4.9 1-5.2 1 11.6 1 3.8 1-7.4 1 4.3 1-2.6 1-5.1 1 3.3 1-4.1 1 4.1 1 4.3 1 .5 1 2.5 1-8.5 1 2.8 1 .1 1 .2 1-9.3 1 3.7 1 7.9 1-8.5 1 5.3 1 1.8 1-9.6 1 4.5 1 4.4 1-1.7 1-6.1 1 8 1-3.9 1 5.6 1-.9 1-3.5 1 3.6 1-3.9 1 2.2 1-1.2 1 3.3 1 4 1-1.5 1-.6 1-1.5 1 1.4 1 4.6 1-7.1 1 10.4 1-5.7 1 6.2 1-2.2 1-6.3 1 3.7 1-.7 1 .9 1 1 1-4.7 1 .3 1-.5 1-2.6 1 2.4 1 .9 1-.8 1-.5 1-1.5 1 2.7 1-6.6 1 3.4 1 1.5 1 3.6 1 0 1 1.2 1-1.5 1 1.7 1-6.9 1 3 1-4.1 1 8.5 1-.1 1-7.1 1-1.4 1-2.4 1 .2 1 5.4 1-.9 1-4.7 1 2.7 1 0 1 4.1 1 1 1-2.1 1 .2 1-1 1-2.9 1 5.2 1-1.1 1 2.2 1-8.2 1 7.3 1-5.1 1 2.8 1 2.9 1-7.7 1 .2 1 7.5 1-6.7 1 .9 1 4.1 1-.7 1 2.8 1-.7 1-1.8 1 4.6 1 2.8 1-4.2 1 3.7 1-1.1 1-4 1 .4 1-4 1 .3 1 3.1 1-.2 1 4.2 1-8 1 3.1 1-1.2 1 1.6 1 3.8 1-7 1 6 1-4.7 1 .4 1 4 1-4.6 1 2.7 1-2.3 1-.9 1-.7 1-3.3 1 1.2 1 2.8 1-.2 1-4.9 1 7.5 1-2.1 1-6 1 .2 1 5.5 1-8.6 1 2.8 1 3.1 1-1.1 1 .7 1 1.5 1-3.9 1 1.6 1 7.5 1-12.3 1 2.4 1 2.1 1-2.2 1 7.2 1-4.2 1 2.1 1-7.1 1 7.9 1 .1 1-5.2 1 6.9 1-2.8 1 1.8 1 2.4 1-5.2 1-2.8 1 4.5 1-4.9 1 2 1 .2 1-.7 1 7.8 1-3.8 1-6.7 1 8.4 1-10.7 1 3.1 1 1.1 1 4.4 1-2.3 1-.4 1 3.4 1-3.4 1 2.4 1-9.1 1-2.4 1 4.5 1 4.7 1-1.7 1 1.6 1 .9 1-.2 1 2.1 1-4.5 1 5.6 1-6.5 1 3 1-4.8 1 6.4 1-5.7 1 11.1 1-10.8 1 6.5 1-2.3 1-1.9 1 7.9 1-6.2 1 8.1 1-10.5 1 .4 1-2.9 1 8.3 1 1.2 1-2.2 1 .7 1-3.5 1 11.6 1-3.7 1-10.2 1 5.8 1-5 1 13.1 1-.1 1-.9 1-7.6 1-2.9 1-2.4 1 5.9 1-5.3 1 2.5 1-.9 1 1.6 1 4.4 1 3.3 1-6.4 1-.8 1-5 1-.7 1-1.4 1 8 1-3 1 2.2 1-2.7 1-3.6 1-4.5 1 5.2 1-4.1 1 15.3 1-5.6 1-2.4 1 7.2 1-7.4 1 3.3 1-2.4 1 3.1 1-2.6 1 2.8 1 3.3 1-10.9 1-.1 1 12.9 1-5.2 1 2.6 1-4.4 1 7.6 1 .4 1-12.3 1 6.3 1-6.6 1-3.5 1 5 1 3.9 1-8.8 1-.3 1 10.8 1-5.5 1 .2 1-7 1 3.5 1 2.8 1 .9 1-.2 1 6.3 1-6.2 1-6.8 1 2.8 1 2.7 1 4.9 1-6.7 1 1.9 1 1.4 1-1.9 1-1 1 1"/>
</g>
<g fill="none" stroke-linejoin="miter" filter="url(#bl)">
<path transform="translate(77.30 0) scale(0.121364 1)" vector-effect="non-scaling-stroke" stroke="#0000ff" stroke-width="1.0" d="M0 491.1l1 8.9 1 2.9 1-7.1 1 1.6 1-9 1-2.7 1-.3 1 .3 1 12.2 1 2.3 1 1.5 1-12.4 1-8.6 1 17.6 1-3.5 1-11.2 1 16.2 1-18.8 1 7.7 1 7.9 1-12.3 1 16.7 1-9.8 1 2.1 1-5.3 1 1.8 1-2.6 1 .3 1 8 1 12.4 1-12 1-8.7 1 8.3 1-1.9 1-8.2 1 12.8 1-.3 1-5.1 1-3.1 1 7.5 1-15.8 1 4.9 1 12.3 1-2.5 1 9.9 1-17 1 11.1 1-1 1-1.7 1-13.4 1 12.3 1 1.7 1 3.4 1-10.9 1 2.4 1 8 1-5.9 1 4.6 1 3.1 1-17.7 1 1 1 11.9 1 1.2 1-15 1 6.8 1-2.2 1 13.5 1-9 1 4.7 1-5.6 1-.6 1-4.2 1-1.6 1 13.5 1-10.5 1 19.2 1-12.6 1-6.9 1 13.9 1-15 1 8.2 1 7.9 1 1.1 1-6.4 1-17.6 1 .8 1 16.9 1-14.9 1 3.4 1 .5 1 12.3 1-13.3 1 22.8 1-11.3 1 5.7 1 .9 1-.4 1 1.4 1-8.7 1 2.4 1 8.5 1-11.3 1 6.2 1-14.3 1-4.6 1 17.6 1-11.4 1-4.6 1-2.4 1 4.5 1 15.4 1-15.7 1 10.8 1-11.9 1 9.8 1 11.5 1-10.8 1 3.6 1-16.2 1 20.2 1-19.8 1 22.2 1-19 1 10.4 1 10 1-6.2 1-12.9 1 15.9 1-5.4 1-11.4 1-2.8 1 17 1 7.1 1-15.3 1 4 1-6.6 1 15.4 1-22.7 1 26.2 1-22.6 1 5.1 1 12.8 1 0 1-13 1 5 1-9.4 1-2.4 1 18.3 1-4.5 1 10.4 1-16.8 1 17.5 1-2.7 1-27.1 1 6 1 6.6 1 1.4 1 15.5 1-7.3 1 8 1-21.7 1-3.8 1 9.4 1 1.6 1-13.3 1 26.9 1-4.5 1-2.5 1-1.6 1 1.6 1-12.3 1-6.2 1 2.8 1 11.4 1 7 1 5 1-31.5 1 16.3 1 6.2 1-11.8 1 23 1-16.8 1 12.7 1-12.8 1 14.5 1-28 1 16.5 1 6.9 1-24.3 1 17.5 1 16.6 1-9.6 1 15.4 1-31.1 1-2.6 1 2.9 1 3.1 1-4.8 1 10.7 1-9.6 1 3.6 1 6.2 1 6 1-17.1 1 16.7 1-5.3 1-11.5 1 7.3 1 19 1-15.1 1 2.5 1 .9 1-18.5 1 .2 1 3.8 1-5.9 1 20.9 1-1.6 1-7.8 1-10.3 1 21.1 1-21.1 1 23.3 1-11.3 1 11.3 1-5.6 1-7.8 1 11 1 10.8 1-21.7 1 1.8 1 12.6 1-24.5 1 13.1 1-10 1-.1 1 22.7 1-23.4 1 11 1-1 1 8.1 1-15 1 4.9 1 10.9 1-23.1 1 31.6 1 4.8 1-14.9 1-13.8 1 25.5 1-13.8 1-11.8 1 16.3 1-22.2 1 4.9 1 3.4 1 2.2 1 1.5 1 7.1 1-5 1-.8 1-7.7 1 4.5 1 9.2 1-12.7 1 18 1-15.6 1-7.9 1 1 1 8.6 1 1.3 1 17.9 1-21.4 1 15 1-21.6 1 9.9 1-7.4 1 21.4 1-6.9 1-7.5 1-3.5 1 21.8 1-30.4 1 9.6 1 6 1-9.4 1 13.1 1-5.8 1 3.9 1 11.6 1-10.8 1-7.4 1 4.2 1 10.7 1-.3 1-26.6 1 3.2 1 11.4 1-7.2 1-3.4 1 7.4 1 9.3 1-12.2 1 13.8 1-20.5 1 23.1 1-12.2 1-2.6 1-.6 1-1 1 21.8 1-8.8 1-13.6 1 11.4 1-3.2 1 12.7 1-22.8 1 23.5 1-5.1 1-13.7 1-.1 1 23.8 1-29 1 27.9 1-25.6 1 1.4 1 5.9 1 12.1 1-8.6 1 15.4 1-2.3 1-8.2 1 5.2 1-7.6 1 15.7 1-38.9 1 26.2 1-18.8 1 16.5 1-17.3 1 7.4 1-6.5 1 20 1-14.3 1 14.2 1-13.3 1 17.1 1-.8 1-19.7 1 25.6 1-11.5 1-3 1-15.4 1 10.2 1 9.6 1 9.3 1-15.5 1-4.3 1-.2 1-12.7 1 19.6 1-7.9 1 .7 1-.7 1-10.2 1 9.9 1-10.6 1 9.2 1 20.8 1-16.4 1-5.2 1-1.9 1 17.6 1-6 1-11.7 1 7.4 1-4.5 1 12 1-4.8 1 15.9 1-25.8 1-1 1 10.2 1 15.9 1-20.2 1 22.4 1-21.8 1 12.7 1-10 1-.4 1-9.3 1 5.1 1-9.5 1 .4 1 32.5 1-27 1 27.2 1-17.5 1-4.4 1-14.8 1 .7 1 35.2 1-21.3 1-6.9 1 22.6 1-19.9 1 26.7 1-13.6 1-1.2 1-13.2 1 20.8 1 1 1 .3 1-30 1 30.2 1-14.7 1 12.9 1 1.5 1-.9 1-14.4 1-7.7 1 .2 1-4.3 1 3 1 21.3 1-25.6 1 31.8 1-10.6 1-17.1 1 12.6 1 8.5 1 1.5 1 2.3 1 1.1 1-21.9 1 0 1 1.8 1 18 1-18.9 1-3.4 1 .6 1 25 1-3.8 1-.7 1-4.7 1 2.5 1-17 1-1.3 1 7.7 1-1.2 1 2.2 1 6 1-3.4 1-5.2 1 0 1-2.2 1 8.9 1 2.9 1-17 1 27.2 1 3.5 1-24.5 1-6.1 1 2.1 1-1 1-4.4 1 26.1 1-27.7 1 25.1 1-14.4 1 12.4 1 1.3 1 12.2 1-6.8 1-21.6 1 18.2 1-1.9 1-.1 1-8.6 1-4.4 1 3.4 1-3.8 1 4.3 1 7.4 1-23.6 1 36.5 1-31.4 1-.1 1 22.7 1-23.2 1 2.9 1-13.7 1 20.2 1 6.5 1-11.8 1-2.4 1 20.1 1-4.4 1-11.4 1-5.5 1-1.9 1 23.9 1 2 1-8 1 3.8 1 6.2 1-32.2 1 1.4 1 29 1-7.7 1 2.6 1-4.8 1-17 1 10.6 1 14.3 1-11.4 1-9.1 1 11.5 1 10.8 1-4.1 1 7.5 1-4.4 1-12.2 1 16.4 1-3 1-24.6 1 11 1-8.1 1-1.1 1 12.6 1 6.3 1-5.1 1-5 1 4.3 1-1.9 1-16 1 8.5 1 18.2 1-5.3 1 11.5 1-21.5 1-13.8 1 26.7 1-23.5 1-2.4 1 14.6 1-10.8 1 12.7 1-13.9 1 25 1-5.2 1-4 1 14.7 1-32.9 1 27.8 1-26.9 1 21.6 1 9.9 1-28.1 1 .6 1 26.9 1-17.8 1 10.8 1 1.6 1 2.5 1-19.3 1-6.3 1 29.7 1-23.5 1 11.7 1 8.2 1-16.1 1 8.1 1 .9 1-11.9 1 16.9 1 10.8 1-28.3 1 8.7 1-12.6 1 5.5 1 20.8 1-28.8 1-1.6 1 9.7 1-6.3 1 14.8 1-2.3 1 11.3 1-9.9 1-20.3 1 6.5 1 7.2 1 10.9 1-8.2 1-8.2 1-5 1 12.4 1 14.4 1-14.5 1 17.4 1-4.9 1-28.2 1 1.3 1 25.1 1-18.7 1-2.1 1-7.5 1 8.9 1 16.8 1-11.4 1-3.4 1 7.5 1-.7 1 14.9 1-12.8 1 8.2 1 10.5 1-29.3 1 2.8 1 12.4 1-8.7 1 10.5 1-5.4 1-10.3 1-1.2 1-3.4 1 15.4 1-17.8 1 13.7 1-7.7 1-1 1 28.5 1-.5 1-3.1 1-34.6 1 18.2 1 12 1 6.8 1-.8 1-12.3 1-2 1-2.2 1-7.8 1 19.9 1-16.2 1-1.5 1-2.3 1 21.1 1-33.9 1 13.7 1-7 1 5.4 1 4.6 1 24.6 1-23.4 1-2.7 1 11.2 1 3.1 1-22.2 1-1.6 1 10.1 1-11.7 1 30.6 1-24.4 1 3.6 1 .1 1 6.6 1-1.3 1-17.6 1 9.2 1 21.1 1-23.4 1 19.8 1-7.6 1 9.9 1-16.6 1 9 1-18.2 1-.6 1 10.9 1-9.8 1 24.5 1-14.1 1 2.5 1 12.1 1-24.2 1 21.4 1 .6 1 3.5 1-12.5 1 .6 1 3.6 1-15.6 1 10.9 1 14.9 1 3.4 1-18 1-13.2 1 16.6 1 3.9 1 3.4 1-4.6 1 7.5 1 2 1-17.7 1 23.4 1-27.1 1 15 1 2.2 1-1.9 1-18 1-2.3 1 27.7 1-17.6 1 16.3 1-2.3 1 6.2 1-4.7 1-23.4 1 14.3 1-19 1-4.9 1 23.7 1 14.9 1-35.6 1 29.1 1-12.7 1-7.2 1 18.1 1-19.5 1 2.4 1-6.8 1 30.6 1-16.5 1 4.1 1-12.6 1-4.6 1 8 1 6.9 1 3.4 1-4 1-7.8 1 13.7 1-3.4 1-7.5 1-9.3 1 28.2 1-8.6 1-6 1 16.3 1-5.4 1-2.4 1-13.7 1-1.4 1-6 1 27.9 1-.9 1-25.5 1 2.8 1 21.3 1-6.5 1 4.7 1-1.3 1-14.5 1 1.7 1 2.7 1 11.9 1 1.4 1-13 1 18.6 1-34.4 1-2 1 32.1 1-17.2 1-14.6 1 32.6 1-28.8 1 28.7 1-27.9 1 12.3 1-11.8 1-2 1 19.4 1-21.8 1 6 1 14.2 1-21.1 1 17 1 19.6 1-21.1 1 5.4 1 15.9 1-23.8 1-3.5 1-7.3 1 7.5 1 3.8 1-9 1 1.5 1-.7 1-5.9 1 12 1 2.9 1 1.7 1 11.2 1-13 1 22.2 1-35.8 1 22.6 1-19.5 1 22.8 1 3.4 1-25.4 1-12 1-2.8 1-9.1 1 9 1 11 1 5.5 1 28.4 1-14.3 1-12.5 1 11.5 1-1.7 1-12.2 1 3.5 1 2.3 1 19.7 1-31.9 1 22.4 1 16.3 1-21.1 1 10.1 1-19.4 1 .9 1 7.6 1 18.8 1-16 1-4.9 1-3 1-8.4 1 4.3 1 19.7 1-8.7 1 1.4 1-6.5 1-11.9 1 32.5 1-30.3 1 25.4 1-1.5 1-20.1 1 7.7 1 4.5 1 1.6 1 .9 1 7.6 1-16.2 1 19.1 1-6.8 1-2.6 1-14.9 1-2.1 1 23.1 1 7.9 1-27.1 1-3.2 1 4.1 1 22.9 1-24.6 1 17.9 1-6.7 1-14.1 1-4.9 1 15.2 1-5.3 1-8.4 1 23.6 1-5.5 1 11.2 1-6.7 1-21 1 18.9 1 9 1-4.5 1-14.6 1 12.4 1-21 1 10.9 1-8.7 1-7.4 1 14.2 1-5.9 1 14.6 1-4.4 1-3.1 1 4.8 1 .4 1-7.1 1 6.2 1 1.1 1 13.5 1-27.9 1 17 1-10.6 1 20.3 1-2.5 1-8 1 12.9 1-33.1 1 3.8 1-3.8 1 25.2 1-23.6 1 1.1 1 27.1 1 .5 1-16.6 1 9.7 1 5 1-6.6 1-6.5 1 18 1-3.1 1-20.4 1 4.8 1-14.9 1 21.8 1-15.3 1 27.9 1-5.1 1-24.9 1 25.4 1-8.9 1 9.3 1-29.5 1 15.6 1-10.3 1-.4 1-3.4 1-.2 1 20.7 1-4.2 1 3.9 1 3.9 1 3.9 1-17.8 1-5.6 1-4.6 1 35.9 1-10 1-15.5 1 7.8 1 12.2 1-25 1 21.9 1-25.9 1 13.5 1 18.5 1-20.2 1-12.9 1 25.1 1 2.4 1-18.7 1-.3 1 23.4 1-27.5 1-3.8 1 32.9 1-2.5 1-28.4 1 2.7 1 24.6 1-25.2 1 8.2 1-4.7 1 19.6 1-22 1 13.1 1 7.7 1-20.7 1 19.6 1-17 1 25.3 1-4.2 1-17.4 1-13.8 1 .2 1 16.6 1-4.3 1 2.2 1-18.8 1 32.7 1 .5 1-.4 1-18.4 1 5.8 1 2.4 1 9.6 1-2.3 1-24.9 1 9.9 1 5.8 1 8.2 1-20.7 1-6.6 1 16.6 1 3.6 1 5.1 1-21.8 1 8.9 1-8 1 1.7 1 13 1 11.5 1-2.4 1 3.8 1-3.1 1-8 1 7.8 1-24.1 1 20.1 1-15.9 1 9.4 1-8 1-8.5 1 17.7 1-7.1 1 4.7 1-1.4 1-6.3 1-7.9 1 12.4 1 1.7 1 5.5 1-5.9 1 10.5 1-11.8 1-12.5 1 5 1 5 1-4.8 1 12.9 1 4.6 1-21.4 1 16.1 1 6.7 1-7.7 1-3 1-8.8 1 1.5 1 1.3 1 10.6 1 11.2 1-.6 1-18.4 1 17.7 1-2 1 2.8 1-23.4 1 18.7 1 1.6 1 5.1 1-17.9 1-6.5 1 13.2 1-7.7 1 12.2 1-17.7 1-.5 1-8.5 1 32.8 1-21 1 6 1 12.2 1-20.6 1 12.2 1-5 1 2.5 1-5.8 1-9.8 1 15.1 1-2.6 1 16.4 1-25.6 1 22 1-14.5 1-2 1-4.7 1 19.5 1-23.3 1 25.6 1-14.9 1 6.8 1-1.7 1-7.4 1 6.5 1-15.5 1 11.8 1 4.6 1 4.4 1-20.3 1 16 1-14.3 1 26 1-26.3 1 25.7 1-1 1-2.6 1-12.4 1-.5 1 22.9 1-32.1 1 33.8 1-16.3 1 18.1 1-36.2 1 10.4 1-1.5 1 7.2 1-11.9 1 22.3 1-14.8 1-2.9 1 22.5 1-30.2 1 5 1 10 1 10.6 1-13.7 1 18.6 1-19.4 1 5.2 1-16.1 1-.7 1 .9 1 21.8 1-12.6 1 24.5 1-30.2 1-3.7 1-6.5 1 20.3 1-2.8 1-12.9 1 38.1 1-27.2 1 14.3 1-23.4 1 2.3 1 9.2 1 11.1 1-19.6 1 7.2 1 17.2 1-7.3 1-17.9 1 7.2 1-7.7 1 25.1 1-16.8 1-.4 1-.5 1-10.4 1 9.1 1 1.9 1 4.9 1-10.8 1 10 1-7.8 1 3.3 1 17.5 1-14.5 1-5 1 8.7 1 12.1 1-18.2 1-11 1 21.6 1-.3 1-14.8 1 .4 1 16.6 1-10.5 1-20 1 24.2 1-14.4 1-5.8 1 16.2 1 11.8 1-23.1 1 15.8 1 17.9 1-17.8 1 7.9 1-15.5 1 17.3 1-11.8 1 15.9 1-28.9 1 15.6 1 6.2 1-7.8 1 13.2 1 3.9 1-2.1 1-19.1 1-3.7 1 2.4 1 3.3 1 9.8 1-13 1 16 1-19.2 1 23.6 1-13.7 1-10.2 1 .2 1-6.4 1-4.3 1 29.4 1-22.4 1-4.5 1 22.2 1-16.2 1-8.1 1 24.9 1-4.7 1 4.5 1-19.7 1 7 1 12.8 1-14.5 1 7.2 1-3.4 1 3.9 1 8.2 1-16.9 1 1.8 1 2.2 1-9.9 1 31 1-23.9 1 13.6 1-3.7 1-1.7 1 1.4 1 9.5 1-16.5 1-3.5 1 .6 1-10.3 1 11.5 1-2.1 1-.5 1-5.6 1 19.8 1 7 1 1.9 1-31.5 1 19.6 1-19.8 1 19.4 1 3.3 1-11.7 1-13.7 1 24 1-22.1 1 15 1 11.3 1 6 1-18.1 1 15.1 1-24.1 1 14.1 1 5.2 1-4.5 1-3.8 1-1.3 1-4.5 1 16.9 1-3.9 1-15.8 1 19.1 1 6.7 1-.2 1-24 1 1.3 1 12.2 1 1.7 1 .1 1-8.1 1-20.3 1 29.1 1 .2 1 2.4 1-18.6 1-5.2 1 6.7 1-11.2 1 31.4 1-16.6 1 15.2 1-18.8 1 20.5 1-21.9 1 18.6 1-14 1 6.2 1-14.2 1 15.2 1 6 1-12.6 1-9.8 1 21 1 7.5 1-17.8 1-11.3 1-1.6 1 33.1 1-19.9 1-10 1 26.9 1-19.1 1-.4 1 19.9 1-31 1 4.7 1-1.1 1 16.1 1-17.8 1 .7 1-.6 1 4.8 1 26.4 1-26.6 1-4.1 1 3.5 1 16.7 1-22.2 1 27.8 1 1.7 1 .8 1-30.3 1 18.3 1-17.1 1 21.6 1-18.1 1-1.8 1 14 1-7.1 1-23 1 2.8 1 6.9 1-13 1-5.9 1 14.1 1-23.3 1 5.9 1 16 1-23.9 1-3.7 1 2.8 1 31.5 1-34.9 1-9.4 1 16.3 1 1.5 1 4.6 1-8.9 1 3.6 1-7.7 1 15.9 1-13.1 1 7.1 1-11.6 1 23.3 1-15.3 1-6.1 1 3.4 1-7.6 1 3.1 1 14.9 1-2.9 1 3.1 1-1.7 1-11.3 1 3.2 1 23.8 1-25.9 1-9.1 1 9.6 1-2.5 1 1.9 1 .9 1-6.8 1 12 1-6.5 1 8.7 1-12.1 1-1.9 1 3.5 1 24.5 1-33.2 1 25.7 1-14.6 1 15.3 1-17.5 1 7.3 1-.3 1 23.3 1-28.6 1 3.5 1-7.6 1 8.4 1-8.3 1 4 1 5.4 1 2.3 1-12.7 1 .1 1 20.7 1-18.4 1 5.3 1-3.7 1-8.2 1 9.3 1-.1 1 23.8 1-35 1 8.6 1 11.1 1-11.1 1-10.2 1 21.4 1-6 1-7.1 1-1 1 2 1 6.4 1-3.3 1-3 1 8.2 1 9.3 1-17.1 1 23.9 1-20 1 7.3 1-2.4 1 1 1-3.5 1-16.7 1 8.1 1 17 1-17.6 1 7.4 1-10.6 1 5.9 1 23.4 1-17 1-8 1 1.4 1-6.6 1 15.9 1-6.9 1 10.4 1 .7 1-11.5 1-4.1 1-1.6 1 5 1 2.6 1 17 1-23.1 1 11 1-11.5 1 2.9 1 12.7 1-3.4 1-9.1 1-.7 1 17.5 1-14.6 1-.8 1-4.6 1 38.4 1-8.7 1-17.2 1 22.4 1-22.6 1-7.7 1 8.5 1 11.6 1-24.8 1 22.6 1-.6 1 4.2 1-13.2 1 8.3 1-24.8 1 10.4 1 13.5 1-6.2 1-3.6 1-11 1 6.7 1-9.7 1 9.3 1 5.6 1-7.3 1 9.3 1-6 1 11.4 1-13.6 1-7.8 1 2.1 1 3.1 1 4.8 1 1.1 1-5.7 1 5.9 1-5.4 1 12.4 1-16.5 1 23.4 1-11.4 1-6.1 1-4.2 1 14 1-11 1 12.4 1 15.5 1-21.6 1 1 1 4 1-10.6 1 29.1 1-27 1 10.9 1-4.5 1-8.5 1 22.1 1-12.7 1-9.7 1 .1 1-7.9 1 5.4 1 18.5 1 .2 1-17.8 1 15 1 4.7 1-2.6 1 6.2 1-29.2 1 15.6 1-9.7 1 15.9 1-14.6 1 7.1 1 10 1-22.2 1 5.6 1-.3 1 4.9 1-10.3 1 20.7 1 14.8 1-27.7 1 9.2 1-23.1 1 8.1 1 16.6 1-4.8 1 4.7 1 8.6 1-16.1 1-3.3 1-1.4 1 4.7 1-14.9 1 32.6 1-33 1 3.6 1 10.9 1 11.2 1-5.1 1 12.2 1-22.2 1-1.3 1 11.1 1-14.1 1 9.6 1 3.9 1-2.8 1-16.2 1 10.9 1-11 1 23.3 1-13.6 1 15.3 1 4 1-24.7 1 19.5 1-6.5 1 13.8 1-26.3 1 0 1 2.9 1-6.3 1 12.5 1-5.8 1 6.6 1 1.8 1 6.1 1-18.1 1 16.7 1-.1 1-14.6 1 2.2 1-4.9 1 23.2 1 1.4 1-21.1 1 4.3 1 5.3 1 3.6 1-8.7 1 20.1 1-25.1 1 15.5 1-9.2 1 15.1 1 11.3 1 8.9 1 10 1-12.9 1-8.8 1-8.9 1-16.6 1 .8 1-5.5 1 5 1 5.3 1-2.4 1 8.2 1 3.1 1-13.8 1-4.2 1-5.2 1 21 1-7.6 1 7.6 1-15.9 1 5.7 1-5.6 1-.5 1-3 1 6.7 1 6.4 1 3.4 1-6.1 1-4 1 23.9 1-5.3 1-5.9 1-9.8 1 12.6 1-18.1 1-2.7 1 13.6 1-5.1 1 9.8 1-15.7 1 7.2 1-8.5 1 3.7 1 6.8 1-5.4 1-4.6 1-2.7 1 5.6 1-2.8 1-2.8 1 8.4 1-5.6 1 18.9 1 8.9 1-10.6 1 14.7 1-33.5 1-2.6 1 8.3 1-8.6 1 10.8 1 8.3 1-1.2 1 2.2 1-11.8 1 .8 1 2.9 1-2.9 1 10.5 1-12.3 1 1.9 1-3.5 1 14.3 1-9.4 1 .1 1-3.9 1-6.8 1 7 1-9.1 1 11.1 1-6.2 1 20.6 1-17.4 1 30.6 1 7.8 1 15.7 1 15.6 1-18.4 1-12.8 1-12.1 1-10.8 1-19.1 1 3.6 1 3.1 1-.7 1 13.6 1-13.1 1-2.3 1 2 1 17.5 1-8.4 1-18.8 1 9.3 1-3.8 1 4.9 1 6.7 1-6.7 1 6.5 1 12 1-27.8 1 9 1 .7 1 4.4 1-3.9 1 9.2 1-10.2 1 4.8 1-12.9 1 10.2 1-8.4 1 12.7 1 13.2 1-19.8 1 5.1 1 3.4 1 7.1 1-6.5 1 5 1-16.5 1 2.5 1-7.4 1 32.4 1-30.9 1 16.5 1-8.4 1-.4 1-7.6 1 6 1 1.2 1 3.6 1-6.4 1 4.6 1-7.9 1 18.6 1-16.9 1 30.2 1-28.4 1-1.8 1 5.6 1-2.8 1 13 1 1.5 1-17.1 1-.2 1-.4 1 9.5 1 5.7 1-3.5 1-8.4 1 1.5 1 7 1 6.5 1-14.3 1 13.5 1-15.2 1 4.4 1 10.3 1-17.5 1-4.5 1 3.2 1 5.1 1-4.7 1 4.8 1 16.2 1-17.4 1 16.9 1-5.1 1-15.6 1 16.7 1-1.1 1 1.2 1-8.5 1 .7 1-6.3 1-1.7 1 4.4 1 8.5 1-11.4 1 21.7 1-20.8 1 6.4 1-11.2 1 24.9 1-9.1 1 6.4 1-21.3 1 23 1-10.7 1-9.1 1 1.1 1-5.8 1 7 1 11.6 1-15.2 1 9.5 1-11.3 1-7 1 12.4 1 18 1-3.1 1-17.6 1 18.3 1-2.5 1-7.5 1-6.7 1 13.4 1-12 1-1.6 1 14.2 1-15.8 1 11.6 1 9 1-20.6 1 5.9 1 3.9 1-15.6 1 6.7 1-.3 1 0 1-1.8 1 19.2 1-19.4 1 4.2 1 7.4 1 10.8 1-26.1 1 1.5 1 1.3 1 4 1 12.1 1-11.2 1 2.5 1 15.4 1-18.9 1 3.7 1 20.3 1-13.4 1-12.1 1-.2 1 16.1 1-18.7 1 1.4 1 13.9 1 5.9 1 3.8 1-24.1 1 11.2 1-18.9 1 8.4 1 31.2 1-8.9 1-9.4 1-13.2 1-1.7 1 19.4 1-13.6 1-3.4 1 12.8 1-.5 1-11.7 1 1.4 1 27.5 1-30.4 1 17 1-15.5 1-.8 1-1 1 4.9 1 .8 1 8.5 1-12.6 1 8.9 1-8 1-.9 1 11.4 1-2 1-13.6 1 10.2 1-11.9 1 4.1 1 24.1 1-3.4 1-16.1 1 8 1 7.4 1 5.1 1-.1 1-23.6 1 3.9 1 1.6 1-14.3 1 8.8 1 8.6 1-5.7 1-2.1 1-3.1 1 3.2 1 2.9 1-1.5 1 14.4 1-3.6 1-16 1 17.3 1-10.1 1 8.2 1-12 1 13.5 1-13.8 1 15.2 1-11.6 1-1.2 1-5.7 1-1.5 1 18.2 1-15.6 1-.3 1 10.7 1-4.2 1 6.3 1-13.5 1-4.3 1 6.4 1 16 1-11.3 1 5 1 1 1-4 1 0 1-3 1 3.6 1 1.2 1-7.1 1 10.1 1-6.7 1-.4 1-.4 1 10.7 1-10.6 1 14.1 1-18.7 1 11.8 1-14.6 1 8.7 1-3.2 1 .2 1-3.1 1 5.4 1 6.2 1-15.8 1 9.1 1 2.7 1 4.7 1-2.8 1-9.7 1 16.8 1-15.7 1 10.1 1-3.4 1-5.2 1-1.7 1 3.7 1 17.1 1-8.9 1-10.1 1 11.1 1 10.4 1 5.6 1-33.2 1 17.2 1 1.2 1-13.5 1-5.6 1 23.9 1-16.5 1-6.1 1 2.9 1 13.8 1 16.2 1-14 1-14.9 1 18.7 1-24.1 1 21.1 1-.8 1 9.7 1-9.1 1 1.8 1-11.4 1-3.1 1 2.2 1 21.2 1-24.6 1 2.8 1-2.2 1 10.1 1-2.1 1 17.4 1 1.5 1-11.6 1-2.6 1-10.9 1-7.2 1 9.9 1-1.3 1-6.7 1 8.6 1 8.5 1-15.8 1 14.8 1-5.3 1-7.7 1 4.4 1 7.2 1-9.6 1 .6 1 15.3 1-8.5 1-.3 1-8.9 1 10.8 1 8.9 1-22 1-3.8 1 4.5 1 3.6 1-4.7 1-3.6 1 27.7 1-20.9 1-2.2 1-8.5 1 23.2 1-18.6 1 23.2 1-8.4 1-3.9 1-3.8 1 12.1 1-14 1 7.4 1-7 1 1 1 19.5 1-5.1 1-17.7 1 .3 1 5.2 1-1.2 1 6.4 1-7.8 1-3.5 1 15 1-10.6 1 9 1-12.7 1 22 1-13.9 1-.2 1 1.4 1-12.9 1 16.5 1-10.8 1-3.3 1 10.5 1 15.2 1-23.4 1 21.4 1-29.6 1 15.5 1-6.8 1 6.2 1 21.4 1-16.6 1-15.8 1 24.7 1-22.4 1 2.7 1-1.8 1 6.4 1-2.2 1 19.3 1-14.6 1 4 1-8.9 1 13.8 1-18.6 1-2.1 1 18 1-1.5 1-8 1 25.1 1-30.6 1 21.2 1 1.2 1-24.3 1 13.3 1 2.6 1-9.9 1 .1 1 .4 1-4.4 1-2.8 1 16.6 1-6.3 1-2.2 1 5.6 1-10.6 1 17.2 1 5.5 1 9.7 1 2.9 1-7.6 1-3.3 1-10.4 1-12.7 1-4.7 1 4 1 9.8 1-8.9 1 27.8 1-27.3 1-7.3 1 4.8 1 28.7 1-28.6 1 4.4 1-4.1 1-1.5 1 19.3 1-19.7 1-3.3 1 5.7 1 .4 1 8.7 1-3.6 1 12.7 1-15.3 1 6.2 1 .7 1 6 1-18.4 1 4.8 1-11.1 1 8.6 1-2.2 1 1.8 1 22.4 1-5.9 1-19.9 1 28.6 1-5.9 1-12.4 1-2.7 1-.2 1 .5 1 7.7 1-9 1 12.8 1-13.1 1-1.9 1 2.9 1 4.5 1 1.1 1-4.9 1-8.1 1 .9 1-1.9 1 7.7 1 9.1 1-7.3 1-.6 1-2.3 1 .7 1-1.7 1 15.6 1-18.7 1 2 1 10.2 1-7.4 1 9.4 1-10 1 7.4 1-2.3 1-9.4 1 13.2 1 7.9 1-17.8 1 2.9 1 7.9 1 10.2 1-13.3 1 22.2 1-28.4 1 23.9 1-25.7 1 3.9 1-4.8 1 16.1 1-3.9 1-16.6 1-3.6 1 37.3 1-25.9 1-7.4 1 4.1 1 2.3 1 20.4 1-12.8 1-4.4 1-5.7 1 12.6 1-16.9 1 22.1 1-1.7 1-13.6 1-5.5 1 4.7 1 2.7 1 23.3 1-3.5 1-22.6 1-.6 1-3.2 1 11.6 1-7.2 1 10.8 1-7.1 1-3.7 1-2.5 1-3.1 1 15.1 1-13.7 1 15.1 1-16.9 1-4 1 13.1 1-3.4 1 13.5 1-10.2 1-.5 1 10.2 1-13.3 1 10.8 1 19.5 1-24.1 1-7.5 1 4.7 1-4.1 1 2.5 1 20.6 1-24 1-1.3 1 12.5 1-8.1 1 1.3 1-2.5 1 6.3 1 13.7 1-9.3 1-9.5 1 .3 1-2.9 1 .1 1 15.5 1-4.5 1-.8 1 .4 1-9.2 1 3.5 1 6 1 12.1 1-15 1-2.1 1-5.2 1 16 1-13.2 1 4.5 1 1.6 1-8.8 1 7.7 1 9.3 1-17.6 1 2 1-1.6 1 5.8 1 22.2 1-19.7 1 10.3 1-11.2 1-5.3 1 2.8 1 2.5 1-4 1 .6 1 1.7 1-4.6 1 20.6 1-12.1 1-5.8 1-2.4 1 7.5 1-8.6 1-2.5 1 4.7 1 16.1 1-15.2 1 3.3 1-7.4 1 11.2 1-9 1-.1 1-1.1 1 3.4 1-4.8 1 3.4 1 1.1 1-4.1 1-5.2 1 15.4 1-11.7 1-3.7 1 10.6 1-.6 1 12.9 1 1.9 1-26.1 1 8.6 1 6.2 1-10.3 1 20 1-8.8 1-7.6 1 .7 1 6.6 1 19.9 1-2.1 1-29.1 1 14.5 1-14.7 1 7.1 1-4.6 1 3.7 1-.8 1 6.6 1-8.2 1 11.9 1-8.6 1-4.2 1 21.2 1-12.4 1-5 1 2.3 1 6.8 1-8.7 1-2.5 1 2.4 1-2.1 1 .1 1 20.9 1-9.2 1 6.1 1-17.6 1-6.6 1 7.2 1 8 1-8.6 1 4.9 1-7.3 1 10.8 1-8 1 2.5 1 7.4 1-11.5 1-1.8 1 1.4 1 10.9 1-8.4 1 13.7 1-5.9 1 6.4 1-10.2 1 11.3 1-5.2 1-18.5 1 26.2 1-6.2 1-11.9 1-4.2 1-3.4 1 11.6 1-6.3 1-1.6 1 .9 1-3.4 1 19.3 1-15.3 1 4.6 1 2 1 2.4 1-5.2 1 10.2 1-12.6 1 27.1 1-32.3 1 16.4 1 16.6 1-29.6 1 21.1 1 6.9 1-25.3 1 19.7 1-20.3 1 6.6 1-4.8 1-4 1-.6 1 2.8 1-4.9 1 10.2 1-.6 1 10.9 1-7.7 1-5.7 1-.9 1 28.4 1-34.9 1 1.2 1 32.4 1-13.1 1-9.8 1 3.9 1 5.2 1-19.3 1 6.2 1 10 1-.6 1 5 1-9.6 1-5 1-1.3 1 10.6 1-7.1 1 5.5 1 10.4 1-1.8 1-21 1 20.2 1-18.6 1-3.5 1 32.8 1-20.4 1-6.8 1 .9 1 13 1 12.4 1-7.7 1-16.6 1-4.9 1 5.5 1 12.7 1-5.7 1-13.3 1 9.1 1 5.4 1-12.4 1 15.5 1 6.5 1-6.1 1-15.5 1 3.1 1 1.4 1-1.8 1 12.2 1-8.6 1-1 1 3.6 1-6.7 1-4.7 1 9 1-3.7 1 9.9 1-4.9 1-4.6 1 14.1 1-12.3 1-7.2 1 24.7 1-4.4 1-13.2 1-8.7 1 3 1 16.8 1-11.7 1-1.6 1 7.5 1-8.7 1 .4 1 16.7 1-7.6 1 2.7 1-1.9 1 5.1 1-2.4 1-14.1 1 3.2 1 20 1-16.3 1 17.3 1-21.5 1-5.7 1 9 1-4.4 1-.9 1-.3 1-6.8 1 17.4 1-7.5 1-4.1 1-3.7 1 16.5 1-7 1 7.2 1-3.3 1 4.1 1-8.7 1-7.9 1 10.1 1 8 1-17.9 1 5.1 1 18.9 1-23.1 1 21.9 1-20.3 1-3.7 1 5.8 1 16.1 1 5.5 1 7.9 1 7.3 1-9.7 1-4.1 1-8.7 1-14.9 1 2.9 1-1.4 1 13.1 1-15.2 1 3.6 1 9 1-3.7 1-5.4 1 8.9 1-4.2 1 .3 1-4 1 10.1 1 1.1 1-15 1 9.6 1 9.7 1 7.1 1 16.6 1 2.3 1-8.8 1-11.7 1-6.9 1-3.1 1-10.5 1 1.7 1 .2 1-4.5 1 .6 1 8.8 1 9.9 1-14.8 1 2.7 1 7.6 1 7.3 1 15.4 1 1.1 1-3.7 1-11.9 1-7.6 1-18 1 10.6 1-8.3 1 19.3 1-28.6 1 1.9 1 2.7 1 7.2 1-1.6 1-3.3 1-8.7 1 14.8 1-10.5 1 24 1-13.9 1-5.5 1 2.5 1 19.1 1-19.5 1-4.2 1-6.8 1 11.9 1-3.1 1 16.6 1-11 1 10.3 1-14.1 1-2.2 1 14.9 1-11.3 1-3 1 3.3 1 11.7 1-14.5 1 25 1-16 1-11.9 1 .5 1 5.5 1-1.5 1-.2 1 1.3 1 3.6 1-4.2 1-1.5 1-7.1 1 28 1-16.7 1 4.9 1-4.3 1 12.1 1-13.7 1 13.4 1-16.7 1 1.7 1 7.2 1 .6 1 6.7 1-16.2 1 8.2 1-7.9 1-4.7 1 18.2 1-11.2 1-4.8 1 1.2 1 9.7 1-5.7 1-.6 1 7.8 1-7.4 1-9.2 1 18.5 1-11.6 1 .5 1-10.6 1 0 1 12.9 1-2.8 1 2.4 1 3 1 6.7 1 4.8 1-1.2 1-18.4 1 1.1 1 5.4 1 14.2 1-3.2 1-14.9 1-3.5 1 9.3 1-4.1 1 8.4 1 1.4 1-5.2 1-8.2 1-1.6 1 4.8 1 6.8 1-5.7 1 8.1 1-9.8 1 14.1 1-8.1 1-5.5 1-2.1 1 3 1 1.8 1 16.3 1-16.2 1 6.3 1-18 1 21.5 1-11.3 1-4.3 1-7 1 7.3 1 22.2 1-8.6 1-.4 1-11.3 1 9.3 1 0 1-3 1-8.6 1 1.7 1 1.5 1 27.9 1-36.5 1 28.2 1-2.8 1-12.7 1 6.5 1-4.9 1 2.1 1-9.2 1-7.1 1 36.3 1-7.1 1-26.3 1 19.6 1-14.5 1 7.2 1-10.4 1-.2 1 25.9 1-22.7 1 1.9 1 8.1 1 8.5 1-18.7 1 9.3 1 1.6 1-11.4 1 .1 1 9.7 1-7.3 1 17.7 1-26.4 1 15 1-6.5 1-6.4 1 6.6 1-6.8 1 5.7 1 13.6 1-15.5 1 10.2 1-3.3 1-5.8 1 1.1 1 3.8 1 1.2 1-6.2 1 1.8 1 9.3 1-13.6 1-.9 1 9.5 1 1.7 1-17 1 13.1 1 13.8 1-6 1-10.9 1 6.1 1-12.6 1 15.3 1-3.6 1 6.1 1-10.2 1 8.1 1-9.5 1 14 1-6.7 1-14.2 1 .7 1 14.3 1 4.8 1 3.2 1-16.4 1 5 1-4 1-1.7 1 2.1 1 14.7 1-15.7 1 21.7 1-26.1 1 5 1 7.6 1-.1 1-4.1 1-10.2 1 7.2 1 16.8 1-8.1 1-1.4 1-1 1-5.4 1 .4 1-2.9 1 17.9 1-9.9 1-.6 1-2.4 1-3.3 1-6.1 1 7.4 1-3.5 1 .6 1 5.2 1 11.9 1-19.4 1 5.5 1 17 1-23.6 1 12.2 1-8.2 1 10.5 1 8.9 1-17.4 1 11.1 1-7.1 1 17 1-33.1 1 7.9 1 4 1 2 1 16.8 1-5.8 1-14.3 1-5.3 1 20 1-9.5 1-4.6 1 10.9 1 9.9 1-15.3 1 11.5 1-24.7 1 18.7 1 15.7 1-11.8 1-16.4 1-2.7 1 10.2 1-8.8 1 1.6 1-6.2 1 3.8 1 11.4 1-10.3 1-.3 1-2.6 1 6 1 4.6 1-2.6 1-13.6 1 12.4 1 16 1 11.9 1 8.4 1 11.7 1-7.7 1-18.5 1-3.3 1-16 1-4 1-8.9 1 7 1 1 1 19 1-21.5 1 5.7 1 6 1-6.1 1-.8 1 11.4 1-15.7 1 4.8 1 2.1 1 14.6 1-2.4 1-8.5 1 3 1-19.8 1 13.9 1-6 1-5 1 14.8 1-9.2 1-1.4 1-5.3 1 10.5 1 11.2 1-11.3 1 6 1 2.7 1-10.5 1-1.8 1-1.2 1 1.6 1-1.3 1 3.4 1-3.1 1 14 1-16 1 21.3 1-19.2 1 0 1 9.3 1-10.6 1-5.7 1 18.1 1 6.2 1-24.6 1 15.1 1-8.2 1 1.7 1 17.5 1-23.2 1 4.2 1 15.6 1-10.6 1 2.3 1-8 1-.7 1 .1 1 6.1 1-4.4 1 6.6 1 20.8 1-34 1 11.4 1-3.1 1-4.8 1 7.1 1-6.3 1-2.3 1 6.8 1 16.2 1-17.3 1 5.2 1-7.5 1-.4 1-3.5 1 7.1 1 4.8 1-13.3 1-.9 1 14.5 1-8.5 1-4.5 1 14.3 1-7.5 1-1 1 2 1-3.2 1 28.7 1-36.1 1 8.1 1 8 1-1.8 1-9.6 1 4.3 1 1.2 1 14.3 1 2.8 1 .3 1-15.1 1 12.5 1-8.2 1-7 1-.3 1 8.8 1-3.8 1-6.1 1-1.9 1-.1 1 19.3 1-15.8 1 2.5 1 14.2 1 .7 1-6.9 1-4.5 1-7 1 3 1 2 1 4.6 1-10.3 1 11.5 1 2.3 1-6.9 1-10.7 1-2.4 1 16.4 1-15.8 1 10.7 1 22.8 1-25.6 1-6 1 15.9 1-11.5 1 1.8 1-8 1 5.2 1 17.4 1-15.5 1-2.2 1 3.3 1 2.1 1 7.9 1-3 1 2.9 1-16.1 1 4.6 1-7.8 1 25.1 1-18.6 1 1.1 1 20.4 1-9.6 1-10.4 1 .3 1-.8 1 10.7 1 16.4 1-31.9 1 21.8 1-2.1 1-15.1 1 5.5 1-.5 1-6.2 1 .5 1 18 1-10.2 1-6.6 1-2.4 1 3.9 1 1.1 1 8.1 1 7.5 1-15.6 1-5 1 8.5 1-2.2 1-4.6 1 10.4 1-8.1 1 4.2 1-3.5 1 4.8 1 1.3 1-11.1 1 14.4 1-9.1 1-8.7 1 6.6 1 14.6 1 2.1 1-4.2 1 10.4 1 7.2 1 3.6 1-4 1-9.8 1-7.1 1-5.8 1-8.5 1 8.5 1 11 1-17.1 1 7.1 1-10.3 1-2.5 1 25 1-16.8 1-4.8 1-5.4 1 14.9 1 2.9 1 5.2 1-15.6 1 10.7 1-9 1-5.1 1 4.2 1-2.6 1-1.5 1 1.2 1 12.3 1-8.4 1-4.4 1 2.9 1 0 1 .1 1 2.7 1-5.7 1 18.4 1-20.3 1 2.7 1-3.9 1 4.8 1-.6 1 5 1-9.6 1 9.7 1-10.7 1 21.4 1-15.8 1 15.5 1 3.2 1-21.7 1 26.8 1-2.5 1 5.4 1 3.4 1-8.2 1-1 1-9.9 1-20.4 1 11.5 1-2.1 1-2.3 1 4.7 1 18.6 1-18.8 1 9.8 1-13.1 1-3 1 4.3 1 21.5 1-5.1 1-5.9 1-9.8 1 5.4 1 2.7 1-14 1 6.1 1 21.6 1-26.9 1 9.2 1-4.9 1 .7 1 11.9 1-14.2 1 12.1 1-8.3 1 11.7 1-15.7 1 16.6 1-12.5 1-2.6 1-1 1-6.3 1 20.1 1-14 1 16.4 1 11.7 1-32.3 1 10.9 1-6.5 1 4.5 1 3.6 1-10.8 1 16.9 1-11.6 1 17.9 1-16.8 1 1.8 1-1.7 1 24.4 1-27 1-9.2 1 21.6 1-9.1 1 8.1 1 3.4 1 3.5 1-13.3 1 2.3 1 6.9 1 2.9 1-21.4 1 26.6 1-25.3 1 7.9 1 9.8 1-14.7 1 0 1 18.4 1-.3 1-22.6 1 6.8 1 4.4 1 11 1-10.7 1 5.4 1-5 1 3.7 1 15.9 1-17.3 1-1.7 1-12.7 1 2.2 1-1.7 1 6.6 1-1.4 1-2 1 10.8 1-14.8 1 9.6 1-2.9 1-3.2 1-.4 1 2 1 10.6 1 1.4 1-17 1 8.1 1-4 1 13.2 1 2.9 1-3.6 1-3.5 1 1.5 1-15.7 1 13.4 1-1.6 1-4 1-2.8 1-2.3 1 1.9 1 1 1-8.7 1 11.2 1 2.7 1 14.3 1 .4 1-11.7 1-4.2 1-.4 1 8.8 1 1.7 1-18.6 1 15.8 1-10.5 1 2.4 1-1.8 1 5.7 1-8.9 1 5.5 1-7.8 1 17.8 1-1.7 1-10.7 1 1.3 1-2.5 1 10.4 1-1.5 1-7.9 1 1.2 1 3.7 1-6.5 1 6.8 1 2.4 1 18.7 1-20.3 1-7.1 1 16.5 1-9.4 1-5.8 1 11 1-11.6 1 17.7 1-6.8 1-9.7 1 1.7 1 21.4 1-22.9 1-.5 1 9.5 1-5.2 1-3.2 1 8.1 1-17 1 11.2 1 13.4 1-.7 1-17.9 1 4.2 1 8.1 1-9.9 1 6.9 1-.3 1-13.9 1 16.5 1-7.1 1-1.5 1-.8 1-9.1 1 9.9 1 10.7 1 3.7 1-11.8 1-2.8 1-1.1 1 15.3 1 8.2 1-20.8 1-12.7 1 14.8 1 13.2 1-22.6 1 2.6 1-3.6 1 9.9 1 21.3 1-13 1-18.5 1 1.3 1 12.1 1-7.1 1-6.8 1 11.6 1-7.6 1 8.9 1 1.1 1-2.7 1-8.3 1 1 1 3.2 1-2 1 13.4 1 1.2 1-9.7 1 7.1 1 6.2 1-19.9 1 2.7 1 21.4 1-20.3 1-1.8 1 3.1 1 4.4 1-12 1 7.4 1 9.6 1-11.9 1-.3 1 11.9 1-13.5 1-2.2 1 5.2 1 7.8 1-8.5 1-9.9 1 7.7 1 7.4 1 13.2 1-17.4 1 24.7 1-29.1 1 2.2 1 3.5 1 7 1-9.3 1 8 1-7.9 1 6.2 1 .8 1-3.9 1 .4 1-3.2 1-2.2 1 27.5 1-28.3 1 18.4 1-3.3 1-10.3 1-.6 1-3.4 1 5.9 1-7.7 1 5.7 1 20.2 1-8.2 1-18.8 1 8.4 1-3.7 1-4.7 1 18.2 1-20.2 1 13.7 1 13.9 1-2.7 1-22.1 1 4.7 1 .3 1 .6 1 10 1-2.7 1 11.5 1-21.3 1 7.7 1 8.3 1-7.3 1-14.5 1 10.7 1 .9 1-1.6 1-5.6 1 12.4 1-6.6 1-5.3 1 9.4 1-6 1-2.1 1-.7 1-1.9 1 5.8 1-3.5 1 13.7 1-11.5 1 8.2 1-11.6 1 1.5 1 3 1 6.7 1 1.8 1-7.8 1 1.1 1 3.4 1 2.1 1 2.5 1-18.5 1 16.8 1-9.2 1 1.5 1-4.7 1 11.5 1 4.4 1-.2 1-15 1-4.4 1 20.5 1-15.2 1-6.1 1 17.9 1-19.9 1 20.4 1-12.7 1 21.3 1-18.2 1-3.6 1 4.1 1-5.2 1 1.2 1 7.1 1-3.8 1-6.3 1 3.8 1 20.1 1-24.5 1 12.2 1 17.9 1-27.5 1 11.6 1-7.2 1-5.2 1 12.7 1-1.1 1-7.2 1-3.5 1 13.5 1-3.8 1-7.4 1-2.8 1 2.7 1-.9 1-.4 1 15.2 1-13 1 14.9 1-2.6 1-1.9 1-4.6 1-5.6 1 0 1 20.4 1-8.8 1-12.9 1 8.9 1-9.7 1 2.4 1-4.5 1 .1 1-.5 1 8.6 1 7.9 1-11.4 1 3.7 1-5.1 1-1.2 1 5.4 1-8.5 1 16.2 1-2.8 1-4.1 1-3.6 1-2.7 1 18.6 1-17 1-1.8 1-2 1 1.4 1 2.4 1-.7 1 8.3 1-8.7 1-1.8 1 9.2 1-8.9 1 21.5 1-24 1 5.4 1-3.1 1 7 1 10.2 1-15.6 1-5.3 1 10.5 1-2.2 1 5.7 1-10.4 1 .8 1-.5 1 1 1 2.1 1 14.1 1-9.1 1-6.3 1-5 1 21.1 1-7.7 1 7.3 1-25.2 1 34.9 1-28.2 1-.6 1 1.8 1 .8 1 16.2 1-24.5 1 16.8 1 7.1 1-1.7 1-4.5 1 2.8 1-11.4 1-1.6 1 .3 1-5.3 1 18.1 1-9.9 1 3.8 1 11.3 1-1.1 1-8.1 1-9.5 1-4.5 1 17.1 1-16.7 1 6.5 1 .8 1-3 1 4.7 1 8 1 5.3 1-16.5 1-4.4 1 5.4 1-4 1 .4 1 7 1 8.4 1-9.3 1 1.1 1 8.7 1-5.1 1-11.6 1 2.7 1 .8 1 16.1 1-20.4 1 5.3 1-10.2 1 8.6 1-1.9 1-.4 1 10.7 1-10.1 1 17.1 1-11.8 1-2.5 1-3.8 1 21.7 1-15.7 1 16.4 1 6.5 1-23.6 1 7.3 1 6.3 1-13.2 1-8 1 17.8 1-12.6 1-3 1 2.6 1 16.8 1-18.6 1 2 1-2.4 1 17.2 1-4.9 1 9.2 1-6.4 1-4.3 1 9.6 1-4.1 1-7.6 1 4.5 1 12.4 1-12.8 1-15.2 1-2.2 1 5.6 1 15.5 1-5.7 1 2.7 1-8.5 1-.4 1-1.7 1 1.6 1 .2 1-.4 1-4.6 1-1.3 1 19.2 1-11.4 1 2.6 1-6.7 1 2.8 1 4.4 1-6.2 1-2.5 1 9.1 1 .5 1-11.5 1 1.3 1 16.2 1-15.9 1-.1 1 .1 1 5.4 1-1.9 1 7.8 1-12.4 1 2.2 1 3.1 1-.3 1-4.4 1 2.9 1-2 1 2.7 1-4.5 1 15.3 1-10.8 1-.6 1-8.8 1 7.1 1 6.3 1 5.3 1-13.7 1 22.7 1 4.4 1-25.1 1 14.1 1-14.9 1 7.9 1 0 1 6.1 1-6.3 1-4.2 1 2.3 1 5.5 1-8.7 1 9 1-9.9 1 5.6 1 7.1 1-12.3 1 6 1-14.4 1 8.6 1 23.2 1-25.4 1-.4 1 13.2 1-10.2 1-1.2 1 .7 1 11.8 1-11.1 1-6.8 1 20.4 1 .2 1-5.9 1-7 1-4.7 1 23.7 1-28.2 1 21.8 1-1.7 1-3.2 1-1.8 1 4.5 1-8.9 1 8.8 1-2 1-6.3 1 .3 1-.6 1 13.9 1-19.5 1 3.7 1 14.8 1-17.4 1 7 1-3.4 1-7.3 1 8.9 1 7.1 1-9.5 1 10.4 1-4.4 1-1.8 1-11 1 13.3 1-2.4 1 3.9 1-.9 1-10.5 1 1.6 1-3.2 1 8.4 1-6.3 1 16.9 1-3.9 1-15 1 11.5 1-8.6 1-6.8 1 14.6 1-11.3 1 4.1 1 8.3 1-.5 1 18.1 1-18.4 1-6 1-3.4 1-6.2 1 7.6 1 2 1 18.8 1-20 1-6 1 9.8 1-1.9 1 5.9 1-5.6 1-4.6 1-3.4 1 5.5 1 .7 1 2.5 1 11.5 1-14.3 1-1.8 1-7.8 1 17.5 1-12.9 1 4.2 1-2.5 1 4.9 1-2.1 1 0 1-2.3 1 10.7 1-12.6 1 3.5 1 13.9 1-17 1 26.5 1-22.8 1 15.2 1 4.9 1-18.7 1 4 1 10.8 1-8.4 1 18.2 1-14.8 1-9.9 1 12.6 1-10.2 1 17.8 1-26.2 1 24.3 1 4 1-4.6 1-15.9 1-10.9 1 5.9 1 4.1 1 14.9 1-12.8 1-5 1 6.4 1 10.9 1-16.3 1 3 1 1.8 1 2.3 1 4 1 3.3 1-20 1 13.1 1-6.1 1-3.8 1 6.8 1-2 1-1.7 1 6.7 1-6.9 1 4.4 1-1.9 1-.6 1-.8 1-1.5 1 14.5 1-6.4 1-2.9 1 4.9 1-11.5 1 17.8 1-22.6 1 6.2 1-6.5 1 5.4 1 6.1 1-3.1 1 19.7 1-17.8 1 2.1 1-4.7 1-4.6 1 12.7 1 6.4 1-19.9 1-3.6 1 .9 1 6.8 1 4.2 1 4 1-17.6 1 3.3 1 8.8 1 3 1-6.1 1-1 1 7.5 1-7.9 1-4.9 1 21.9 1-4.6 1-10.8 1 1.2 1-3.5 1 20.4 1-11.5 1 5.2 1-11.1 1-4 1 27.8 1-18.5 1 6.4 1 3.5 1 5.4 1-13.9 1-12.8 1 13.1 1-8.4 1 1.4 1 12.1 1-7.9 1-4.4 1 .8 1 5.7 1 9.2 1-1 1-20 1 12.3 1-2 1 4 1 0 1-1 1 3.9 1-7.9 1 9.8 1 7.7 1-21.8 1-3.8 1 4.1 1 1.6 1-1.5 1-2.9 1 1.2 1 10.6 1 2.1 1-13.9 1 3.3 1-5.9 1 3.3 1 5.1 1-3.7 1 1.5 1-6.2 1 5.6 1-7 1 8 1-.3 1-4 1 3.2 1 3.5 1 2.1 1 16.6 1-4.7 1-18.3 1 20.8 1-16.7 1 21.9 1-19.7 1-6.7 1 8.4 1-5.1 1 14 1-16.2 1-.6 1-9.3 1 9.9 1-1.9 1 .1 1 14.5 1-3 1-7.7 1-1.5 1-3.2 1-1.1 1 10.8 1-2.9 1-8.1 1 4.8 1-1.2 1 1.3 1 16.8 1-20.2 1 17.5 1-3.4 1-9.8 1 8.8 1-4.8 1-5.8 1-7.6 1 2.3 1 1.6 1 2.9 1 1.5 1 14.4 1-13.1 1 17.5 1-5.5 1-1 1-11.8 1 1.8 1 6.2 1-9.1 1 3.1 1-9.7 1 15 1-2.2 1-6.8 1 17.4 1 2.1 1-11.7 1-8.9 1 9 1-1.9 1 6.2 1-12 1 8.4 1 1.6 1-2 1-1.1 1-4.2 1-3.2 1-3 1-5.2 1 .3 1 6.3 1 1.1 1 15.7 1-7.1 1-9.9 1 1.6 1-1.3 1-.5 1 24.1 1-23.9 1 7.8 1-5.6 1-4.3 1 4.7 1-6.9 1 6.8 1 9.6 1-13.6 1 15.7 1-14.3 1 .9 1 2.1 1 12.3 1-16.2 1 8.8 1-9.4 1 12.8 1 14.5 1-31.2 1 7.4 1-1.9 1 .6 1-5.8 1 8.5 1-4.3 1 1.2 1 6.6 1-5.4 1-1.5 1 21.9 1-17.1 1-2.9 1 1.2 1 .2 1-.9 1 6.2 1-9.6 1 18 1-12.8 1 10.7 1-13.1 1 19.6 1-12.3 1-4.2 1 15.8 1-15.6 1 7.4 1-10.3 1 25.8 1-23.8 1-2.7 1 5.6 1 7.9 1-15.3 1 14.7 1-12.7 1-1.2 1-1.5 1 18.9 1-20.8 1 2.5 1 .3 1 2.6 1 3.1 1-5.7 1-.2 1-8.1 1 23.4 1-8 1 6.4 1-5.5 1-12.6 1 16.9 1 6.5 1-23 1 18.5 1-14.6 1 1 1-3.7 1 1.7 1 4.9 1 5.1 1-.2 1 .9 1-8 1 7.1 1 1.6 1 3.5 1-5.1 1 10.8 1-15.8 1-11.3 1 18.3 1-2.4 1 4.7 1-14.9 1 15.1 1-5.7 1-9 1-1 1 15.6 1 12.9 1-15.1 1-11.4 1 7.9 1-8.5 1 3 1 4.7 1-4.5 1 13.3 1-20 1 9.2 1 9.7 1-9.6 1 9 1-12.1 1 9.3 1-13 1 5.7 1-1.2 1 7.6 1-9.5 1 3.6 1-12.5 1 9.6 1 8.6 1 6.1 1-8.2 1-4.2 1 19.5 1-19.7 1-1.2 1 3.8 1-3.1 1-4.8 1-3.2 1 3.1 1 8 1 3.1 1-1.2 1-7.5 1 .4 1 11 1-12.2 1 1.2 1 17.1 1-13.9 1-3.6 1-.6 1 15.5 1-12.2 1 1.5 1 .1 1-11.4 1 5.4 1 6.3 1-2.3 1 4.1 1-8.1 1 .1 1 8.5 1 13 1-21.9 1 4.5 1-4.3 1-3.3 1 7.4 1-.9 1-10.4 1 8.5 1-.5 1-4.2 1 3.3 1 21.5 1-28.6 1 4.1 1 16.9 1-8.3 1 2.9 1-4.1 1 0 1-3.2 1 14.6 1-21.4 1 12.5 1-13.3 1-.8 1 10.1 1 17.1 1-11.2 1-4.9 1 17.6 1-17.9 1-3.3 1 9.7 1-13 1 29.3 1-19.6 1-3.3 1-2.5 1 10.1 1 10.4 1-21.5 1 4 1 .4 1-5.8 1 15.7 1-9.3 1-4.2 1 9.5 1-11.4 1 6.4 1-1 1-5.6 1 1.7 1 4.1 1-10.5 1 9.5 1 2.7 1-2 1-.6 1-6.7 1 5.7 1 .9 1 6.5 1-4.9 1 9.2 1-10 1 2.5 1 4.2 1-6.8 1 13.9 1-22.6 1 1.8 1 17.9 1-19.3 1 4.7 1 .3 1 6.3 1-6.9 1 0 1 27.5 1-24.6 1 2.7 1 7.3 1-5.4 1-5.4 1-2.9 1 2.5 1 7.5 1-.7 1 5 1 .1 1 15.7 1-8.6 1-13.9 1 1.3 1-.8 1-2.5 1 1.8 1 .9 1-5.9 1-2.2 1 1.7 1 10.3 1 6.1 1-9.5 1-3.8 1 8.4 1-8.4 1 3.5 1 8.6 1-20.8 1 3.8 1 30.5 1-25.6 1-3.2 1-2 1 3.6 1-3.8 1 3 1 .7 1 15.7 1-16.6 1 10.4 1-12.2 1 31.5 1-33.6 1 5.5 1 2.3 1-2.1 1 10.1 1-1.2 1-5.8 1 18.7 1-2.6 1 5.7 1 7.1 1-3.4 1-11.3 1-6.4 1-12.4 1-.6 1 1.4 1-3.2 1 1.3 1-3 1-5.8 1 19.1 1-12 1 15.7 1-15.9 1 9.6 1-11 1 20.8 1-18.8 1-3.8 1 5.9 1-3.2 1 33.8 1-5.5 1 5.4 1 7.3 1-4.5 1-9.8 1-9.8 1-17.2 1 12 1-10.7 1 6 1 3.9 1 1.9 1-8.4 1 17.2 1 0 1-19.6 1 8.3 1 7.1 1 14.3 1-29.9 1 13.8 1-7.1 1-7.5 1 17.8 1 7.7 1 3.1 1 5.4 1-2.7 1-10.9 1-4.3 1-12.9 1-4.5 1-5.1 1 3.6 1 33 1-29.1 1 5.5 1 11.5 1-20.6 1 12.3 1-12 1 6 1-6.9 1 29.9 1-18.2 1 13.6 1-23.3 1 10 1-9.7 1 35 1-31.8 1 5.9 1 7 1-13.5 1 12 1-10.3 1 2.7 1-6.2 1 14.9 1 7 1-26.2 1 10.3 1-3.5 1 5.1 1 7.5 1 3.3 1 8.7 1 6.4 1 4.5 1-6.7 1-10.4 1-5.4 1-6.7 1 10.6 1 8.1 1-19.9 1-2.4 1-7.7 1 1.3 1 9.9 1-5.2 1 8.2 1-21.7 1 10.8 1 5.5 1-3.4 1-.8 1-3.5 1 3.4 1-1.2 1-.2 1 4.2 1 8.2 1-9.2 1-6.1 1 24.6 1-22.8 1 5.4 1 3.7 1-4.5 1-8.1 1 4.6 1-5.8 1 28.6 1-24.9 1 27.6 1-12.7 1 .7 1-9.6 1-6.6 1 4.1 1 1.3 1 29.8 1-23.8 1-11.8 1 5.5 1 22.5 1-16 1 .4 1-7.5 1-5.8 1 30.5 1-5.3 1-26.8 1 9.3 1-1.7 1 20.5 1-19 1-7.5 1 32.2 1-22 1 3.7 1-.7 1 .6 1-14 1 24.4 1 8.1 1 7.9 1 6.2 1-9.3 1-8.1 1-7.4 1 4.1 1-5.6 1-10.7 1-16.4 1 37.5 1-26.4 1 15.4 1-15.5 1 29.1 1-19.2 1-11.8 1-6.9 1 25.9 1-22.8 1 11.3 1 11.2 1-20.8 1 20.4 1-8 1-7.9 1 3 1 8.3 1-10.4 1 13.9 1-13 1 2.8 1 7.3 1 5.4 1-10.7 1 4.7 1 23.9 1-24.6 1-18.6 1 31.6 1-19 1 12.4 1-12.7 1 3.3 1 12.5 1-10.4 1-11.1 1 22.1 1-22.7 1 17.6 1-2.8 1-9.9 1 .8 1-9.2 1 5 1 35.6 1-45 1 27.3 1-20.3 1 3.5 1-10.4 1 5.4 1 6.2 1 8.8 1 8.3 1 3.3 1-19.2 1-5.3 1 20.5 1-12.2 1-10.7 1 34.2 1-12.7 1 4.3 1-17.1 1-5 1 14.4 1-12.5 1 23.9 1-23.9 1 .1 1 20 1 .6 1-12.9 1 10 1-9.6 1-10.1 1 20.3 1-23.3 1 7.2 1-1.9 1-1.8 1-1.4 1 5 1-3 1 1.8 1-1.8 1-2 1 2.4 1 9.4 1-7.5 1-6.1 1 4.2 1-5.2 1 5.4 1 4.7 1-4.7 1 1.7 1 15.4 1-17.5 1 7.8 1-10 1 24.6 1-20.6 1 1.2 1-5.5 1 14.7 1 2.1 1 6.8 1-21.4 1 10.5 1-19 1 2.8 1 24.8 1 .4 1-15.9 1 1.3 1 29.8 1-21.8 1 5.3 1-6.8 1-8.1 1-7.4 1 13.6 1-5.2 1 .3 1 5.6 1-6.8 1 20 1-27.6 1 14.9 1-13.2 1 4.1 1-6 1 7.3 1 13.9 1-6.3 1-8.1 1 23 1-28.1 1 28.6 1-24.3 1 18.5 1-15.6 1-3.5 1 24.2 1-26.3 1 10.4 1 4.5 1 4.5 1-21.2 1 19.8 1-21.5 1 11.2 1 5.6 1-.8 1-5.8 1-1.3 1 4.6 1-9.3 1 20.5 1-2.1 1-15.1 1 11.7 1-13 1 8.6 1 5 1 4.9 1 4.8 1 5 1-4.4 1-1.7 1-8.6 1-2.3 1 3.2 1-10.1 1 7.8 1-3.5 1-14.8 1 2 1-4.1 1 3.9 1 1.8 1-1 1-9.5 1 13.2 1-5.5 1-2.4 1 12 1 10.8 1 2.4 1-7.6 1 2.9 1 19.9 1-37.2 1 19 1-16.5 1 11.2 1-8.1 1 3.5 1-4 1-1.7 1-2.5 1 19.9 1-3 1-1.5 1-10.7 1-8.4 1 8.4 1 14.8 1-23.4 1 23.6 1-5.8 1-8.2 1-6.3 1 22.3 1-25.6 1 7 1-2.3 1 5.3 1 3.5 1-2.5 1-7.4 1 1.2 1 6.6 1 2.9 1 23.3 1-7.5 1-20.8 1 4.2 1 8.7 1-2.5 1-10.3 1 12.4 1-9.2 1-9.9 1-8.3 1 3.1 1 5.2 1 2.4 1 1.9 1 15.1 1-21.3 1-2 1 13.2 1-4.3 1-2.7 1 .6 1 13.3 1 7.6 1 6.9 1 3.4 1-5.5 1-7.5 1-4.2 1-19 1 6 1 12.8 1 6.4 1 14 1 0 1-15.8 1-15.1 1-2.9 1 .7 1-10.2 1 17.1 1-6.8 1-2.9 1 4.5 1-.9 1-5 1 14.2 1-2.7 1-3.4 1 17.9 1-3.3 1-14.7 1-7.5 1-2.2 1 14.1 1-6.3 1 17.9 1-20 1 10.9 1-11 1 1.3 1 21.2 1-21.4 1-.9 1 6.7 1 26.3 1-37.2 1 15 1-18.7 1 8.5 1 6.8 1 1.7 1 11.2 1-25.8 1 1.4 1 5.6 1 2.4 1-2.9 1-.9 1-2.2 1 8.7 1-6.9 1-.7 1 19 1-1.4 1-6.9 1 .1 1 3.4 1 16.6 1-23.4 1-5.4 1 .9 1 5 1-9.9 1 4.7 1-6 1 4.4 1 5.7 1-3.1 1-9.1 1 1 1 3.5 1 5.4 1-9.8 1-4.4 1 11.2 1 9.7 1 7.2 1-7.5 1-2.5 1-2.3 1 10.4 1-14.9 1 12.9 1 9.4 1 5.4 1 3.9 1-6.1 1-6.1 1-6.8 1-16.5 1 12.7 1-9.3 1 23.2 1-24.5 1 3.8 1 4 1 4.3 1 8.3 1-14.7 1 28.2 1-33 1 1.2 1 26.7 1-26.2 1-.7 1 8.5 1-12.9 1 20.1 1-19.6 1-3.8 1 3.5 1 9.1 1 9.1 1-3.5 1 4.6 1-15.1 1-2 1 15.8 1-21.8 1 11.5 1-3.8 1 4.5 1-16.3 1 7.2 1 5.6 1 1.2 1-14.1 1 20.1 1-1.2 1-5.7 1-3.9 1 .8 1 29.8 1-27.1 1 2.1 1 18 1-13 1-5.7 1-10.7 1 18.5 1-16.2 1 2.8 1 13.7 1-10 1-3.3 1 10.5 1 11.6 1-9 1-5.6 1-4.9 1 9.9 1 2.1 1-17.8 1 21.8 1-26.4 1 23.5 1-15.1 1 .4 1 18.2 1-3.5 1-9.6 1-4.8 1 1 1 17 1-20.2 1-3.3 1 8.4 1 2.5 1-3.6 1-9.2 1 20.6 1-16.4 1 2.2 1 15.7 1-11.1 1-7.3 1 13.5 1-7.1 1 11.6 1-1.8 1 19.8 1-19.9 1 7 1-16.6 1 .3 1-3.7 1 3.7 1 .6 1 5.5 1-20.6 1 19.9 1-10.2 1 22.5"/>
<path transform="translate(77.30 0) scale(0.121364 1)" vector-effect="non-scaling-stroke" stroke="#ff0000" stroke-width="1.0" d="M0 520.1l1 4 1-.4 1-5.2 1 .6 1-.7 1 3.3 1-1.9 1 2.4 1-7.7 1 10.2 1-5 1 2.3 1-2.4 1-.7 1 2.5 1 1.1 1-3.1 1 .1 1 2.6 1-4.7 1-1.9 1 5.7 1-3.2 1-3.8 1 3.4 1 1 1-2.2 1-.9 1 4.6 1 2.6 1-3.4 1-1.5 1 3.4 1 .9 1-3 1 2.5 1 1.5 1-3.7 1-1.8 1 3.4 1-.3 1 2.6 1-7.2 1 1.9 1-.5 1-2.7 1 5.6 1 1.2 1-3.8 1 6.4 1-1.7 1-.6 1-.7 1 1.7 1-6.9 1 5.8 1 0 1-7.1 1 6.3 1-1.8 1 3.1 1-3.6 1 1.2 1 1.1 1-3.6 1 4.4 1-2.1 1 1.8 1-3.1 1 4.9 1-1.5 1-2.3 1 2.4 1 1.9 1 1.6 1-10.1 1 7.3 1-1.2 1-1.7 1-2.7 1 6.8 1-7.6 1 5.5 1 2.2 1-8.7 1 3.9 1-3 1 4.6 1 3.8 1 1.6 1-11.4 1 3.6 1 3.8 1 2.6 1-3.4 1-3.5 1 3.1 1-.9 1-.6 1-1.6 1 3.4 1-.3 1-1.2 1-.4 1-3.2 1 2.4 1 5.1 1-4.2 1-3.7 1 8.3 1-2.4 1 4.7 1-6.1 1-1.6 1-2.9 1 8.3 1 2.6 1-9.1 1 .6 1 3.7 1-4.3 1 1.7 1-.2 1 1.6 1 2.7 1-3.2 1 2.7 1-4.1 1 2.3 1-7.4 1 2.1 1 6.7 1-4.2 1 3.5 1-.1 1 2.4 1-1.6 1 .6 1-3.3 1-1.8 1-.1 1 .7 1-1.9 1 1.8 1 .1 1-.5 1-3.2 1-5.7 1 3.4 1-.7 1 .5 1-2.8 1-4.3 1-1.7 1 5.9 1-2.8 1 2.4 1 .6 1-6.4 1 2.6 1 .2 1 .2 1 0 1-.8 1 0 1-3.7 1 2.9 1-1.2 1 1.9 1-1.3 1 2.3 1 .5 1-1.1 1 0 1-.5 1-1.2 1 .6 1-.7 1 1.9 1-.8 1 1.3 1-4.2 1 4.8 1-3.6 1 .1 1 1.2 1-.8 1 1.8 1-1.9 1-1 1 .4 1 4.7 1-2.7 1-2.7 1 2.6 1-3.4 1 7.3 1-7.2 1 4.3 1 .2 1-4.4 1 3.8 1 1.6 1-1.2 1-.4 1 1.5 1-1.8 1 .4 1-1 1 1.7 1-3.5 1 3.8 1-2.8 1-1.3 1 3.2 1 2.9 1-1.6 1-3.2 1 2.6 1-2.5 1 .7 1 .5 1-5 1 5.2 1-2.7 1 .8 1-1.7 1-.1 1 1.2 1 3.9 1 1.8 1-3.7 1 2.5 1-3 1-3.6 1 4.5 1 .6 1-1.9 1 1.6 1 .6 1-3.1 1-1.4 1 2.8 1 0 1-.3 1 2.9 1 1.6 1-4.6 1 2.4 1 .5 1-.5 1 .8 1-3.2 1 2.5 1 2.8 1-2.7 1-3.1 1 2.7 1 1.4 1-1.9 1-2.1 1 4.6 1-6.1 1 3.9 1-1.2 1-2.5 1 5.2 1-1.9 1-3.3 1 3.9 1-2.3 1-3.2 1 2.7 1 2 1 .9 1-1.1 1-.2 1 .9 1-1.5 1 3 1-2.2 1 .3 1 .5 1-3.5 1 .8 1 4.9 1-2.6 1-1.4 1 1.4 1-1.8 1 1.7 1-2.1 1 2.1 1-4.1 1 6.4 1-4.1 1-2.3 1 3 1-.4 1 1.2 1-2.9 1 3.4 1 4 1-7.7 1 3.6 1-1.4 1 1.1 1-4.4 1 1.4 1 3.6 1-1.1 1 3.6 1-5.1 1 1.9 1 4.5 1-6.5 1-.3 1 1.9 1 0 1 1.9 1-1.6 1-1.9 1 2.1 1 4.4 1-2.1 1-7.6 1 4.5 1-1.6 1 3.3 1-1.7 1 4.6 1-2.2 1-.1 1-1.5 1-.5 1 .8 1 2.1 1-1.7 1-1.9 1 3.6 1-2.4 1-.6 1-1.6 1 .5 1-.2 1-3.4 1 7.1 1-1 1-1.7 1 2.7 1-1.3 1-.1 1-5.7 1 4.3 1 1.7 1 2.4 1 .5 1-.9 1-5.7 1-2.3 1 6.1 1-1.2 1 2.1 1-2.4 1 .7 1-3.8 1 4.3 1-1.9 1 1.7 1 .3 1-1.3 1 .9 1-.7 1 1.7 1-.6 1-2.3 1-.1 1 5.2 1-4.1 1 2.4 1-1.3 1-2.1 1-.4 1 1.9 1 .3 1 .8 1-4.2 1 1.5 1 1.1 1 3.8 1-8.4 1 5.8 1-2.2 1 2.2 1-2.1 1 1.9 1 2.7 1-2.7 1 .2 1-.1 1-2.5 1 2.8 1-1.6 1-1.4 1 1.7 1-.4 1 2.2 1-1.8 1-1 1 4.3 1-1 1 .6 1-1.4 1-1.6 1-.7 1 .3 1 2.7 1-1.8 1-3.6 1 3.2 1-3 1 3.5 1-3 1-.2 1 3.1 1-.5 1-3.5 1 5.4 1 3.1 1-8.1 1 7.4 1-5.6 1 .4 1 .7 1-2.8 1 6.1 1-1.8 1-2.8 1 1.1 1-2.8 1 2.6 1 2.9 1-5.9 1 2.8 1 1.3 1 2 1 .7 1-4 1-.6 1 2.6 1-1.8 1 .1 1 3.1 1 1.4 1-3.2 1-1 1 1.7 1-5.5 1 4.2 1-2.3 1 7.2 1-3.3 1-1.3 1-.7 1-4.5 1 6.5 1 2 1-5.2 1 3.1 1 .1 1-5 1 5.5 1 .9 1-2.5 1-.6 1 1.9 1-5.2 1 3.6 1 2.1 1-5.1 1 5 1-3.1 1-3.7 1 4.4 1-2 1 2.9 1-3.3 1 4.9 1-3.9 1 2.4 1-2.1 1 .6 1 3.4 1-2.2 1-1.4 1-1.9 1 5.4 1-1 1-2.3 1 1.2 1-2.8 1 0 1 .5 1 2.6 1-.1 1-2.4 1 3.3 1 .1 1-1.3 1 1.9 1-2.9 1 .3 1 1.3 1-1.1 1 1.9 1-4.6 1 6 1-5 1 1.4 1-2.7 1 4.4 1 1.5 1-.4 1-.5 1-5.4 1 1.7 1 .8 1-1.1 1 4.6 1-2.1 1-.5 1 1.2 1-3.2 1 .1 1 0 1 3.1 1-.4 1 .6 1 1.1 1-5.4 1 1.7 1 1.6 1-3.3 1 1.8 1 3.5 1 .1 1 0 1-2.3 1-.6 1 2.9 1-3.3 1 1.6 1 2.2 1-3.7 1-.6 1 1.4 1 1.3 1-.2 1-.8 1 .9 1-4.8 1 1.7 1 2.2 1-2.4 1-.9 1 .3 1 .6 1 1.7 1-1.9 1 2.8 1 3.3 1-4.2 1 3.2 1-2.2 1-3.1 1 1.9 1-1.6 1 3.9 1-4.3 1 5.5 1-1.6 1-5.9 1 6.3 1 1.8 1-5.3 1 4 1-6.3 1 4.6 1-4.3 1 4.9 1-5.1 1-1 1 5.9 1 4 1-6.3 1 3.2 1-1.6 1-1 1 2.1 1 2.4 1-6.5 1 4 1-.5 1-3.9 1 6.8 1 .7 1-6.5 1 6.1 1-3.8 1-.5 1 3.7 1-2.8 1 .2 1 2.7 1-.5 1-.9 1-5.2 1-.4 1 6.1 1-4.6 1 2.4 1-2.8 1 2 1-2.4 1 6.5 1-5.9 1 2 1-.2 1 3.2 1-5.9 1 3.1 1-.4 1 1.7 1-.2 1-2.1 1 1.6 1-1.4 1 1.9 1-1.3 1-1.2 1 1.4 1 .9 1 4.1 1-6.1 1 1.8 1 2.6 1-7.9 1 .7 1 1.3 1 2.4 1 5.2 1-4.1 1 1.9 1-3.2 1-4.5 1 0 1 7.2 1-1.8 1-3.4 1 5.5 1-6 1 6 1 .7 1-5 1-.8 1 4.5 1-4.4 1 4.4 1-4.7 1 4.6 1-1.6 1-1.2 1-1.1 1 2.6 1-4.8 1 3.6 1-.3 1 2.5 1-4.4 1 6.7 1-4.6 1-1.8 1 5.7 1 .6 1-4.2 1-1.6 1 2.1 1-1.6 1 .8 1 4.3 1-2.7 1-.5 1 .4 1-.9 1 2 1 .1 1-2.8 1 1.1 1 4.7 1-4 1-1.4 1 5.1 1-4.6 1-2.5 1 4 1-3.6 1 .9 1 1.9 1-1.1 1-1.4 1 .5 1-.1 1 4 1-4.3 1 .3 1 5.9 1-5.8 1 4.6 1-.4 1-3.3 1-2.9 1 4.3 1 .5 1 .6 1-2 1 2.6 1 .4 1-5.6 1 5.7 1-2.9 1-1.7 1 .6 1 5 1-2 1-6.3 1 4.2 1-.5 1-.1 1-.7 1-2.2 1 5.3 1-4.1 1 1.3 1-.5 1-.3 1 3.3 1-.8 1-2.4 1-.6 1 1.1 1 3.2 1-1.9 1 .3 1-1.3 1 .1 1 1.1 1-4.7 1 7.9 1-5.5 1 .5 1 4.4 1-2.6 1-.4 1-1.4 1-2.2 1 3.9 1 2.3 1-4.7 1 5.1 1-5.6 1 .8 1 2.9 1-1.2 1 1.6 1-3.3 1-.6 1-1.9 1 1.5 1 .3 1-.8 1 3.9 1-2.2 1-3 1 9.5 1-6.9 1-.9 1 5.6 1-.1 1-5.3 1-.7 1 1 1 4.9 1-3.3 1-1.1 1 1.7 1 2.9 1-6 1 2.3 1-2.2 1 8.1 1-.8 1-2 1-2.5 1 1.8 1-6.3 1 5.4 1-3.6 1 0 1 1.4 1 .8 1 2.1 1 .3 1-1 1-2.7 1 3.6 1-1.8 1 3 1-4.8 1-2.9 1 3.9 1 6 1-3.8 1-1.5 1 2.4 1-.9 1 0 1-2.3 1 1.4 1 .3 1-2 1-1.1 1 2.9 1 1.9 1-.7 1-.4 1 0 1 3.9 1-4.4 1 1.8 1 2.1 1-4.4 1 .5 1 1.8 1 1.5 1-3.2 1 .1 1-.6 1-3 1 5.3 1-3.1 1-3.3 1 3.6 1-3.7 1 1.7 1 2.3 1-2.1 1 4.6 1-5.9 1 4 1 .7 1 2 1-1.2 1-1.6 1-.3 1-.3 1 2.7 1-4.1 1 2.7 1-1.4 1 .8 1-1.2 1 5.5 1-6.4 1 2.1 1 0 1 .8 1-.4 1 0 1 1.3 1-5.7 1 3.4 1-2.8 1 3.3 1-3.2 1 .5 1 2.1 1 3.3 1-1.9 1-.6 1 2.5 1-5.4 1-2.6 1 3.8 1 .4 1 3.4 1 2.1 1-7.9 1 8 1-1.4 1-1.7 1-1 1 4.1 1-4.8 1-1.3 1 1.4 1-3.4 1 4.2 1-1.3 1 1 1 0 1-3.2 1 5.4 1-5.3 1 4.3 1-5.7 1 4.6 1-2.8 1 2 1-1.6 1-3.5 1 2.4 1 2.8 1 1.2 1-4.8 1-1.5 1 2.9 1 1.5 1-1 1-.4 1 3.9 1 .2 1-.5 1-3.9 1 2.4 1-.6 1-2.9 1 5.3 1-1.8 1-1.3 1 4.4 1-1.5 1 .2 1 .8 1-1.1 1-4.6 1 2 1 3.2 1-4.1 1 1.9 1 .8 1 2.4 1-.3 1-.9 1-2.5 1 2.5 1-.9 1-1.6 1 3.5 1-2 1-2.9 1 4.7 1-3.5 1 2 1-4.9 1 3.4 1-2.1 1-.1 1-2.1 1 9.3 1-5.3 1 .9 1 2 1-2.8 1 1.5 1-4.4 1 3.6 1-1.4 1 2.1 1-.7 1-3.6 1-1.1 1 1.9 1 4.1 1-.7 1-.1 1-5.6 1-.4 1 3.6 1 .7 1-.6 1 2.2 1-1.2 1-2.4 1 .7 1 2.4 1-.2 1-.3 1 5.2 1-5.6 1 .8 1-2.5 1 1.4 1 2.1 1 .1 1-1.7 1 1.3 1-.8 1-4.5 1-.7 1 10.1 1-3.1 1-2.1 1-3.9 1 1.1 1 6.1 1-8.2 1 4.3 1 2.8 1-1.7 1 1.4 1-2.1 1 5.4 1-7.4 1-.8 1 3.8 1 2.7 1-3.5 1 2.6 1-3.7 1-1.5 1 6 1 .4 1-.1 1-4.6 1-1.6 1-.1 1 2.2 1 1.9 1-.2 1-4.5 1 3.8 1-.4 1 .1 1-.2 1-.4 1 1.8 1-1.1 1 .3 1-2.2 1 2.6 1-1.2 1-4.7 1 6.1 1-1.8 1 2.8 1-2.5 1 .1 1 .7 1-.5 1-1 1-3.1 1 8.4 1-7.9 1 2.8 1 2.3 1-.6 1 .4 1 .5 1 1.2 1-2.3 1 4.4 1-7.4 1 2.9 1-1.4 1-.4 1 1.9 1 2.7 1-5 1 0 1 3.3 1-.4 1 3.3 1-2.2 1-1.8 1-1.3 1 1.2 1-.9 1-2.8 1 3.2 1-.4 1-.1 1-.5 1 5 1-2.4 1 .6 1-3.6 1-1 1 1.8 1 1.2 1-1.4 1 .4 1 2.7 1-1.6 1-3 1 1.3 1-.5 1 1.9 1-3.1 1 2.3 1 2 1-1.5 1-2.2 1 .7 1 1.7 1 .8 1 .9 1-2.3 1-2.8 1 6.4 1-2.6 1 .3 1-.3 1-3.1 1 1.7 1 1.3 1 1.8 1-2.2 1-5.3 1 4.5 1 1.4 1 2.2 1-1.3 1 3.4 1-1.8 1-.1 1-1 1-5.4 1 5.2 1-.6 1-2.6 1 2.6 1-.4 1-2.1 1 .8 1-.3 1 1.1 1-1.5 1 2.3 1-5.8 1 3.8 1-3.2 1 2.8 1 2.3 1-1.1 1-.4 1 .5 1 3.5 1-6.3 1 4.7 1-5.6 1 2.4 1 1.5 1-2.4 1 2.5 1 1.2 1-4.5 1 2.6 1-.7 1-3.6 1 4.1 1-1.5 1 5 1-5.2 1 6.1 1-5.3 1 5.8 1-3.2 1-.2 1 .8 1 .2 1 1.2 1 .7 1-4.8 1-2.1 1-2.3 1 4.3 1 2.7 1-.9 1-.6 1-1.1 1-.7 1 .8 1 1.6 1-5 1 5.8 1-5.1 1 3 1-1.1 1 .6 1-1.6 1-.2 1 2.1 1-2 1 7.7 1-6.1 1-.6 1 .3 1-1.2 1-2.7 1 4.6 1 1.3 1-4.3 1 3.6 1-2.9 1 2.8 1 .9 1 .3 1-.1 1-2.7 1 3.7 1-3.1 1 1.9 1 .8 1-2.4 1-2.3 1 4.5 1-4.1 1 .6 1-.5 1 4.5 1-2.3 1-4.8 1 6.9 1 3.1 1-.6 1-5.6 1 1.5 1 1.1 1 .9 1-2.1 1-2.6 1 4.3 1-.3 1-4.6 1 2.3 1 1.5 1-.7 1 1.3 1 .6 1-.6 1-1.5 1-2.9 1 4.6 1 1.8 1 1.4 1-4.7 1 0 1 3.4 1 0 1-2.6 1 .9 1-3.5 1 3.2 1-3.3 1 1.6 1 0 1-.8 1-3.8 1 3 1 2.7 1-.9 1-.8 1 1.9 1 .7 1 .3 1-3.9 1 2 1-.9 1-1.2 1-1.5 1 3.3 1-1.8 1 7.1 1-5.3 1-.3 1-.4 1 5.3 1-6.6 1 1.8 1-1.4 1 1.5 1 .2 1 2.7 1-5.9 1 3.3 1 3.8 1-5 1 .8 1-1.7 1-3 1 4.9 1 3 1-3.9 1-3.2 1 4.9 1-.4 1 2.2 1-.2 1-2.8 1 1.6 1-5.2 1 6.8 1-2.1 1 2.1 1-.1 1-3.2 1 .4 1-1.8 1-2.8 1 4.6 1 .7 1-3 1 4.3 1-1.5 1 .9 1-2.9 1-2.4 1 6.1 1-.4 1-1.7 1-.8 1 .4 1 .3 1-.9 1-3.5 1 6.6 1-5.4 1 2.7 1 .1 1 1.3 1-4.4 1 6.7 1-1.3 1 .2 1 1.2 1-4.9 1-3.3 1 6 1 2.3 1-.3 1-4 1 1 1 .9 1-5 1 2.7 1 .1 1 5.3 1-5.3 1 5.3 1-3.7 1-4 1 9.2 1-7.6 1 3.8 1 2.6 1-5.3 1-1.7 1 5.4 1-2.3 1-3.1 1 .4 1 1.6 1 3.2 1-2.9 1 2.2 1 2.4 1-1 1 .4 1-.4 1-6.8 1 6.7 1-2.1 1-1.1 1-2.2 1-1.2 1 1.1 1 2.6 1-2.8 1 .9 1 .5 1 3 1-2.3 1 .4 1 3.5 1-3.9 1 2.2 1-4 1 3.3 1-.5 1 .1 1-1.5 1-1.3 1 1.7 1-.4 1 3.6 1-.3 1-5 1 4.3 1-2.6 1 2.2 1-2.2 1-2.4 1 5.9 1-1.3 1-4 1-1.6 1 3.3 1-1.6 1 2 1 2.3 1 2 1-4.3 1 4.1 1-.5 1-3.8 1-2.9 1 6 1-.6 1 3.8 1-1.9 1-1.5 1 2.1 1-6.5 1 3 1-1.1 1 4.8 1-2.8 1-6.6 1 8.5 1-5.4 1 4 1-3 1 1.7 1 1 1-1.1 1-2.7 1 5.6 1-2.4 1-1 1 1.7 1-2.9 1 5.7 1-3.9 1 .3 1 0 1-3 1-.6 1 3.3 1 .3 1 2.4 1-2.2 1-3.6 1 3.8 1 .7 1 .5 1-1.6 1-3.8 1 5.7 1-4.5 1 3.1 1-5.1 1 5.6 1-3.7 1 4.4 1 1.7 1-1.5 1-5.5 1 .5 1 .2 1 3.6 1-.7 1-.5 1 .4 1 .6 1 .2 1 2.5 1-4.2 1 .6 1-4.9 1 1.3 1 1.5 1-1.2 1 3.4 1 1.9 1-3.5 1-.1 1-.1 1 1.5 1-1.6 1 2.3 1-.3 1 .1 1 1 1-1.7 1 .3 1 3.8 1-4.3 1 2 1-1.8 1-1.2 1 0 1-.9 1 2 1-1.5 1 .5 1 3.9 1-3.2 1 3 1-2.1 1 1.5 1-3.6 1 1.8 1 5 1-3.3 1 .4 1-1.9 1 1.5 1-4.8 1 .7 1 3.1 1 .9 1-2.9 1 .5 1-.4 1 .4 1-2.4 1-.6 1 3.3 1-4 1 1.8 1 .8 1-1 1 3.1 1-1.6 1 .9 1-2.3 1 .7 1 3 1-.4 1-2 1 2 1-.4 1-.1 1 3.5 1-4.8 1 1.9 1 0 1-1.5 1-2.3 1 4.5 1-1.1 1-.5 1 0 1-.1 1-2.2 1 2.9 1-5 1 4.2 1-3.5 1 2.7 1 2.6 1-2.4 1-.5 1 2.4 1-1.9 1-.3 1 0 1 4.6 1-2 1-.5 1-4 1 4.3 1-4.6 1 4.3 1-3.8 1 7.3 1-8.7 1 7 1-1 1-6.2 1 3.6 1 4.1 1-.7 1-6.8 1 2.8 1-1.6 1 .4 1 .9 1 6 1-4.2 1-.8 1-.3 1 2.4 1 .1 1-3.9 1 5.7 1-6.1 1 1.9 1 1.8 1 3 1-4.9 1 1.5 1 2.4 1-1.6 1 1.2 1-.2 1-1.9 1 .9 1 .7 1-2.3 1 4 1-8.7 1 2.6 1 5.7 1-2.5 1-2.5 1 2.4 1 1.7 1-3.9 1 3.2 1-2.2 1 0 1 .1 1 2.9 1-5.4 1 1.8 1 2.5 1-4.5 1-.9 1 5.2 1-1.4 1-.4 1 .7 1-2.6 1 7.8 1-7.9 1 1.4 1-2.4 1 2.4 1 4.7 1-3.7 1 1.4 1-2.6 1 5.6 1-4 1-3.4 1 4.9 1-2.8 1 2.4 1-1.2 1 .3 1-.3 1-2.5 1-1.4 1 6 1-2.7 1 1 1-1.8 1-3.8 1 1.8 1 6.5 1-5.3 1 1 1-2.7 1 2.3 1 .4 1 .4 1 .3 1-1.3 1 .1 1 1.4 1 .8 1-1.2 1 4.6 1-3.7 1-.1 1-2 1 4.1 1-5 1-1.4 1 1.5 1 3.9 1-4.3 1 5.9 1-3.2 1-3.6 1 3.1 1 4.9 1-6.4 1-1.1 1 4.4 1 1.9 1-.7 1-3.2 1 1.2 1 .4 1 2 1 2.4 1-5.5 1 3.4 1-4 1 2.3 1-3.7 1 .4 1 2.9 1-3.2 1 4.3 1-3.5 1 1.5 1-.3 1-.6 1 1.1 1 2.3 1 2.9 1-8.4 1 3.6 1-1.2 1-1.8 1 3 1-2.9 1 2 1 3.2 1-8 1 5.6 1 .4 1-3.4 1 3.6 1-.4 1-1.7 1 3.8 1-6.1 1 4.7 1-2.1 1-2 1 2.1 1-.4 1 2.8 1-5.6 1 3.2 1-.7 1 5 1-6.6 1 5.3 1-6.8 1 5.1 1-1.2 1 1.3 1-2.7 1-3 1 1 1 6.9 1-2.7 1-2.6 1 4.3 1-4 1 0 1-1.1 1 5.8 1 1.9 1-7.1 1 3 1 1.7 1 2.8 1-10.3 1 5.4 1 1.3 1-5.2 1 4.6 1-.5 1 1.3 1-3.2 1 2.4 1-2.5 1 3 1-1.1 1-1.3 1-2.6 1 7.5 1-1.3 1-.6 1-3.7 1 .7 1 5 1-2.3 1-3.9 1 2.2 1 .2 1-.8 1-1.8 1 5.3 1-1.6 1-1.9 1-3.4 1 2.5 1 1.4 1 2.1 1-3 1 3.6 1-2.4 1-2.1 1-3.4 1 2.3 1-.7 1 3.2 1 1.2 1 2.6 1-3.4 1-2.8 1 8.4 1-4.8 1-1.4 1 0 1-2.7 1 4.9 1-.7 1 3 1-1.2 1-.5 1 .9 1-3.8 1-.4 1 1 1-2.9 1 2.7 1-.5 1 2.5 1-1.7 1-4.6 1 4.7 1 3.4 1-7.9 1 2.6 1 1.9 1-3.3 1 1.9 1 1.5 1-3.4 1 4 1 .3 1-4.1 1 3.1 1 2.6 1-3.1 1 1.5 1 .6 1-2.2 1 3 1-1.5 1-3.3 1 3.7 1 .8 1-.1 1-3.6 1 2.7 1 2.3 1-2.8 1 2.3 1 .3 1-3.3 1 1.7 1-2.3 1 3.3 1-2.8 1-1.1 1 1.3 1-.1 1 1.1 1 .2 1-4 1 1.2 1 2.5 1 .3 1-.9 1 5.2 1-2.7 1-2.9 1 1.9 1 1.5 1-2.3 1-5.2 1 4.5 1-.1 1 5.1 1-9.7 1 8.3 1-4.2 1 2.7 1-3 1 1.1 1 2.4 1-2.6 1 2.4 1-2.8 1-.8 1 .5 1-.7 1 .9 1 3.7 1-6.3 1-1.2 1 4.1 1 4.2 1-1.6 1 .7 1-.2 1-4.9 1 2.1 1-5.7 1 3.9 1 3 1-5.3 1-1.2 1 1.9 1 3.7 1 2.3 1 2.5 1-1.8 1-7.3 1-1.7 1 5.8 1 2.3 1-6.6 1 2.7 1 .2 1 1.2 1-.5 1 1.7 1 1.3 1-2.4 1 1.7 1 3 1-7.4 1 0 1 3.8 1 3.3 1-4.1 1 2.2 1-3.4 1 3 1-3.8 1 3.2 1-.7 1 0 1 2.5 1-.8 1-4.1 1 3.7 1-6.4 1 6.6 1 2.8 1-3.9 1 0 1-1.1 1 1.9 1-3.2 1 2.8 1-2.3 1-.4 1 1.4 1-.5 1-4.1 1 9.4 1-4.8 1-4.5 1 6.8 1-2.7 1 .6 1 1.2 1-3.9 1-3.5 1 5.5 1 .8 1 1.9 1-4.4 1 1.2 1 1.7 1-1.8 1 .2 1 1.2 1-3 1 6.3 1-6.2 1 2.4 1-.9 1-.9 1 3 1 1.2 1 1.1 1-2.2 1-2.5 1 3.2 1-5.7 1 3.7 1 1.2 1 .1 1-4.3 1-.8 1 7.7 1-5.3 1-2.8 1 1 1 3.1 1 2.8 1-2.9 1 3 1-2.4 1 .6 1 1.2 1-3.3 1 1.6 1-1.6 1-.7 1 3.2 1-3.6 1 2.2 1-2.1 1 1.7 1-1.1 1 4 1-2.5 1 0 1 3.8 1-9.6 1 2.8 1-2.8 1 5.5 1 1.1 1 .5 1-.9 1-2.8 1 6.4 1-3.5 1-1.4 1-2.2 1 3.8 1-2.2 1 .1 1 1.6 1 0 1-2.5 1 5 1-5.5 1-.3 1 3.5 1-.4 1-.2 1-1.2 1 1.1 1-1.4 1-2.7 1 5.8 1-4.3 1 2 1 2.3 1-1.7 1 5.3 1-8.8 1 1.6 1 2 1 3.2 1-4 1-2.9 1 6.3 1-5 1 1.7 1 2.7 1-3.8 1 .5 1 2.3 1-1.7 1 1.2 1-3 1 2 1-2.4 1-1.1 1 8.1 1-3.2 1 1.2 1-4.7 1 2.3 1-.4 1-3 1 4.8 1-3.1 1 1.3 1-3.2 1 6.1 1-.5 1-.9 1-3.2 1 .9 1 4.3 1-3.7 1 1.3 1-.3 1-3.1 1 6.5 1-8.6 1 5.4 1-.7 1-3.8 1 4.8 1 .5 1-1.2 1-2.1 1 3.1 1 1.6 1-2.2 1 3.7 1-2.1 1-.2 1 1.5 1-5 1 .3 1 2.6 1 0 1 2.4 1-.9 1-2.4 1 .1 1-1.2 1-.2 1-.2 1 3.3 1-3.4 1 .3 1 1.3 1-1.6 1 .7 1-4.8 1 6.2 1-1.6 1 1.2 1 .4 1-5.4 1 9.9 1-4.9 1 0 1-4.8 1 6 1-.5 1-1.9 1 1.5 1 2.6 1-4 1-1.3 1 5.5 1-2.6 1-1.1 1 5.5 1-4.7 1-.8 1 1.1 1-1.7 1 1.6 1-.2 1-2 1 1 1 1.4 1 .2 1 .4 1 .5 1-1.3 1 .7 1-2.2 1 .3 1 3.1 1-7.4 1 5.8 1 4.2 1-9.7 1 8.2 1-8 1 5.2 1 3.1 1-.3 1-6 1-.9 1-.4 1 5.3 1-2.7 1 .9 1 .7 1 .3 1 .3 1-1 1-4.3 1 7.6 1-9.1 1 8.5 1-4.5 1 1 1-.8 1 .4 1 .8 1-.6 1-2 1 4.8 1-3.6 1 4.8 1-3.7 1-1.4 1 2.8 1 1.2 1-4.5 1 1.6 1 4.2 1-6 1 .4 1 2.5 1-3.4 1-2.6 1 1.5 1 5 1 .7 1-.2 1-.5 1-4 1 4.7 1 1.2 1-4.6 1 4.1 1-3.2 1 1.3 1 .5 1-4.6 1 7.3 1-5.7 1 1.8 1-1 1 2.4 1-.1 1-1 1 3.5 1-2.8 1-1.7 1-4.6 1 4.9 1 0 1-1.5 1 0 1 3.6 1 1.1 1 2.1 1-1.8 1-4.6 1 2.4 1-4 1 5.2 1-1 1-2.3 1 1.2 1-.3 1-1 1 4.8 1 2.1 1-3.3 1 .6 1-2.2 1-1.3 1 6.2 1-6.2 1 1.8 1-1.2 1 1.7 1-1.6 1 1.6 1-4.6 1 2.9 1 3.7 1-6 1 .9 1 5.1 1-2.4 1 1.6 1-8.2 1 5.9 1-3.5 1-.3 1 4.5 1 1.9 1-6.6 1 .9 1 1.3 1 1.1 1-2.9 1 8.6 1-3.9 1-2.3 1-.4 1 6.6 1 0 1-6.6 1 2.1 1 2.3 1-6.1 1 1.5 1 4.8 1-5.1 1 .7 1-2.3 1 1.4 1 3.6 1-3.7 1-1.2 1 1.7 1 5.9 1-3.9 1-1.9 1 1.8 1 .7 1-.8 1-4.8 1 5.2 1-1.2 1 2.6 1-5.5 1 6 1-3.8 1-3.1 1 7.6 1-4.6 1 2.2 1-1.3 1 3.1 1 0 1 0 1-1 1-5.7 1-.2 1 4.7 1-2.9 1 3.5 1-.7 1-4 1 1 1-.3 1 .6 1 1.7 1 2.3 1 1.6 1-5.8 1 1.1 1 5.2 1-1.6 1-1.7 1-6 1 2.9 1 2.9 1-1.8 1 6.4 1-4.7 1 .5 1-3.5 1 .1 1 1 1 .1 1 1 1 1.5 1-.4 1 1.9 1-5.8 1 3.9 1 0 1 3.4 1-4.5 1 1.4 1-2.9 1 3.1 1-.1 1-2.5 1 .5 1 1 1 1.5 1-4.3 1 5.1 1-3.1 1 5.6 1-1.1 1-4.7 1-.5 1 7 1-3.9 1-.1 1-2.5 1 .7 1 2.4 1-.5 1-3.6 1 5.2 1-2.4 1-3.1 1 4.8 1-2.9 1 2.4 1-3.3 1 2.3 1-5 1 5 1-4.7 1 4.2 1-5.9 1 5.3 1 2 1-.6 1 1.7 1-5.6 1 6.6 1 .1 1-7 1 1 1 .5 1 1.4 1 .5 1-5.9 1 6.9 1-2.1 1-1.9 1 4.9 1-3.2 1 3.7 1-1.5 1-2.2 1 3.8 1-.9 1-3.3 1-2.8 1 2.7 1 2.9 1-2.2 1 5 1-3.7 1-.2 1 .5 1-3.2 1 1.9 1-1.3 1-3.8 1 1 1 6.3 1-3 1 .8 1-3.3 1 2.2 1 3.4 1-1.7 1-1.6 1 5.2 1-4 1-.7 1 3.7 1-7.2 1 5.7 1-4.1 1 .8 1 .2 1 2.1 1-.1 1 .5 1-.2 1 2.9 1 .8 1-2.5 1 .1 1-2.8 1-1.8 1 4.2 1-1.4 1 2.1 1-6.7 1 10 1-8.6 1 3.2 1 2.4 1-5.9 1 2.1 1-3.7 1 1.5 1-1.3 1 5.1 1 .5 1-1.6 1 4 1 .3 1-3.5 1-.5 1-.1 1-.5 1 4.4 1-2.7 1-1.4 1 .3 1 1.9 1-2.3 1 1.7 1-.8 1 3.4 1-.5 1-6.4 1 3.1 1 2.2 1-2.9 1 3.2 1-1.2 1 .6 1-1.6 1 .9 1 .6 1-5 1 1.4 1-.3 1 6.7 1-3.4 1 .2 1-.5 1-1.7 1-.6 1 4 1-3.1 1 4.9 1-3.5 1-.2 1-.8 1 .4 1 .2 1 3.7 1 1.7 1-8.3 1 3.5 1 1.1 1-4 1 .7 1 .4 1-4.3 1 7.1 1-1.8 1-.1 1 .5 1 .4 1 4.8 1-5 1 1.6 1-3.3 1 2.1 1-1.6 1 .4 1-1.9 1 .2 1 3.2 1 .7 1-.7 1-2.8 1 2.5 1-6.3 1 7.8 1-2.4 1 .8 1 2.2 1-4 1 3.5 1-3.5 1 2.4 1-2.3 1 1.7 1 2.9 1-5.2 1 .1 1 .7 1 1.5 1 4.7 1-6.8 1-3.7 1 3.5 1-2.3 1 2.5 1 1.5 1-2.5 1 .7 1-2.9 1 5.1 1-2.3 1 4.5 1-.1 1-4.7 1 1.2 1 1.1 1 1.7 1-6 1 3.9 1 4.9 1-4.9 1 .8 1-.6 1-2.9 1 5.3 1-1.7 1-.3 1 1.4 1 .2 1-6.7 1 5.9 1-2.6 1 1.8 1-2.1 1-.4 1 4.5 1-2.4 1-.6 1-.1 1 1 1-.3 1-5.5 1 3.4 1 1.6 1 2.4 1 1.6 1-5.7 1 7.1 1-4.6 1 1 1-2.5 1-.2 1 5.1 1-4.1 1 .3 1 3.1 1 1.4 1-8 1 3.3 1 .4 1 4.5 1 .8 1-5.4 1 1.1 1 1.2 1 .7 1-3.6 1 2.9 1-3.9 1-3.9 1 2.2 1 4 1 1.4 1-7.5 1 1.1 1 4.4 1-5.6 1 7.1 1 1.2 1-8.3 1 7.6 1-2.4 1 4.1 1-2.9 1-1.3 1 .9 1 2.1 1-1.9 1-.3 1-3.7 1 4.8 1-1.2 1 4.5 1-4.6 1-.1 1-1.4 1 3.4 1-2.3 1-1.3 1 5.8 1 .4 1-5.5 1-1.5 1 5.4 1-4.9 1 7.2 1-5.4 1 2.7 1-5.6 1 3.1 1 2.8 1-1.6 1-2.4 1 6.4 1-3.2 1-2.5 1-.9 1 .8 1 4.1 1-5.3 1 2 1-2.1 1 5.1 1-3.5 1 2.6 1-.8 1-2.8 1 3.2 1 .6 1-5.2 1 4.6 1 3.3 1-5.8 1 2.3 1-4.9 1 4.5 1-2.7 1 3.4 1-2 1-2.8 1 5.7 1-3.3 1-2 1 2.7 1-2.6 1 3.4 1-1.1 1-.8 1 2.6 1-4.9 1 5.7 1-7.5 1 9 1-3.5 1-1.1 1-1.2 1 3.2 1-1.8 1 0 1 3 1-3.7 1 .5 1 1.7 1 1.6 1-3.1 1 .8 1-.3 1 1.8 1 1.9 1-6.1 1 2 1 .2 1 1.6 1 2.3 1-3.8 1 .6 1 2.3 1-6 1 1.2 1 .8 1 1.1 1 .6 1-1.9 1 5.7 1-6.2 1 1.3 1 3.2 1-.7 1-2 1 1 1 1.1 1-2.1 1 1.6 1-3.9 1 2.5 1-4.3 1 1.8 1-.6 1 6 1-4.3 1 1.9 1-3.1 1 1.9 1-.2 1-1.5 1 4.3 1-6.3 1 5.7 1 3.6 1-7.2 1 2.1 1-4 1 3.9 1-4.4 1 6 1-2.8 1-3.5 1 1.4 1-.7 1 3.3 1 2.8 1-3.1 1-2 1 .8 1 2.4 1-6 1 7.2 1-.5 1-6.7 1 8.7 1-7.2 1 3.6 1 3.6 1-7.2 1-.5 1 1.8 1 .1 1 2.4 1-1 1 .1 1 0 1 .8 1-1.8 1 3.1 1-.9 1-2.6 1 7.3 1-7.9 1 5.1 1-3.8 1 2.8 1 .5 1 .8 1 1.5 1-5.8 1 7.5 1-4.3 1-3.1 1-1.4 1 8.8 1-1.1 1-4.3 1 2 1 1.4 1-3.1 1-1.3 1 1 1 2.2 1-2 1-3.2 1 5 1-6.3 1 2.5 1 5.1 1-2.6 1 0 1-.3 1 2.3 1-2.7 1-4.9 1 5.6 1-6.3 1 .5 1 9.2 1-1.3 1-3.9 1 1 1 .4 1 2.4 1-4.6 1-.2 1 .6 1 2 1 .3 1-1.7 1 2.9 1-4.5 1 2.4 1-1.6 1-.8 1 5.7 1-3.9 1-1.8 1 2.7 1-2.7 1 4.1 1 .7 1 .4 1-5.3 1 2.3 1 5.1 1-5.2 1 3.7 1 .7 1-7.4 1 6.6 1-1.2 1 .3 1 2.1 1-3.1 1-1 1 1.4 1-2.5 1 2.2 1-6.4 1 9.5 1-5.8 1 2.8 1-.6 1-.5 1 0 1-.1 1-4.4 1 2.8 1 4.4 1-5.6 1-.1 1 8 1-2.2 1 .9 1-4 1 .7 1 1.2 1-.5 1-1.6 1-3.5 1 1.8 1-2 1 7.9 1-5 1 .5 1 1.2 1-.7 1 1.3 1-2.9 1-2.3 1 8.3 1-6.3 1 .6 1-.8 1 .6 1 1.5 1 1.8 1-4.6 1 3.5 1-2.5 1 4.8 1-6.2 1 3.4 1 1.5 1-5.2 1 3.7 1 .1 1-2.4 1 1.4 1 3.1 1-1.9 1-1.7 1 .6 1 1.6 1 2.1 1-1.2 1-.2 1 2.1 1-7.8 1 .2 1-1.9 1 7.7 1-7.7 1 5.4 1 2.1 1-5.5 1 1.9 1 1 1 2.5 1-5.7 1 4.6 1 1 1-1.4 1 0 1 2.8 1-2.6 1-.6 1-.8 1 2.5 1-2.4 1 2.4 1-1.4 1 2.6 1-4.9 1 2.2 1 .7 1 .2 1 1.8 1-1.9 1 1.3 1 2.6 1-2.8 1-4.7 1-1 1 5.3 1-2.6 1 1.6 1-1.1 1 3.7 1-.3 1-5.8 1 3.5 1-1.4 1-2.6 1 4.9 1-1.9 1 1.4 1 4.4 1-2.2 1-.5 1-3.8 1-1.9 1 6 1-3.8 1 .8 1-1 1 1.2 1 5.2 1-6.3 1 .1 1 1.2 1 .2 1-3.7 1-1.4 1 2.9 1 1 1-1.5 1-.5 1 .1 1 1.4 1 .7 1-3.8 1 2.7 1 2.2 1-1.2 1-3 1 2.5 1 .8 1 2 1-6 1 5.8 1-2.9 1 1.6 1 1.2 1-3.8 1 .1 1 1.7 1 2.1 1-3.1 1-2.2 1 1.8 1 2.7 1 1.9 1-4.2 1 .5 1 .4 1 .1 1-2.1 1 1.3 1 1.6 1-.2 1-.2 1-2.6 1 1.1 1-.4 1 4.4 1 1 1-2.8 1 3.2 1-4.7 1 0 1-2.5 1 3.8 1-1.7 1 1.3 1 1 1-1.8 1-2.2 1 2.7 1-.1 1 .3 1 1.6 1-2.2 1-.2 1 5 1-1.6 1-2.9 1-2.1 1 1.2 1 2.1 1 1.1 1 3.5 1-6.2 1 1 1-1.2 1 1.1 1-1.2 1-1.7 1 5.2 1-2.2 1 2.9 1-4.5 1 1.9 1 1 1-6.3 1 1.4 1 5.2 1-1.7 1-4.7 1 2.7 1-.8 1 1.4 1 5 1-5.2 1 6.4 1-5.6 1-1.2 1 5.7 1-1.5 1 1 1 1.4 1-2.1 1 .4 1-7.3 1 2.2 1 3.2 1-.6 1 1.3 1-3 1 3.9 1 2.3 1-3.6 1 .7 1-.8 1 1 1-1.8 1-1.7 1 1.7 1-.2 1-4.1 1 4.4 1-.5 1 .4 1-1.8 1 2.5 1 .4 1-3.3 1 2.5 1 1.1 1 0 1-4.2 1-.2 1 2.6 1-2.7 1 8 1-7.4 1 0 1 3.6 1-2.8 1-4.4 1 5.2 1-2.1 1 1.1 1-2.7 1 1.7 1 1.9 1 .2 1-2.6 1 1 1-.4 1 2.5 1-.8 1-2.7 1 4.7 1-3.3 1 2.6 1-3.2 1 3 1-1 1 .4 1 1.1 1-.2 1-.6 1 0 1-3.6 1 3 1-5.2 1 0 1 4.6 1 .2 1 4.2 1-2 1 1.1 1-3.5 1 1.9 1 1.7 1-1.5 1-.5 1-.6 1-2.5 1 .1 1-1.4 1 4.6 1-1.7 1-1 1 2.6 1-2.3 1 4 1 2.1 1-3.6 1-2.8 1-2 1 8.7 1-3.9 1-4 1 5.6 1-6.8 1 3 1 .5 1-.3 1-1.9 1 8.4 1-6.6 1 2 1-.9 1-4 1 2.6 1 1.9 1 1.8 1-3.2 1 1.8 1-1.8 1 2.3 1-6.9 1 6.9 1-3 1 .1 1-4 1 2.8 1 4.2 1 4 1-7.3 1 .1 1 2.9 1-.5 1-2.2 1 1 1-.5 1 2.5 1 .4 1 2.4 1-2 1-.7 1-1.2 1 1.9 1-4.8 1 7.9 1-4.7 1 2.8 1-5.5 1 4.6 1-1.6 1-1.5 1-1.2 1-.5 1 6.7 1-1.5 1-2.7 1 .2 1-2.3 1-2.8 1 .1 1 3 1 1.1 1-2.5 1 4.9 1-.7 1-.9 1-4.8 1 3.8 1 .5 1-3.1 1-2.3 1 10.3 1-3.3 1-2.5 1 5 1-1.2 1-1.7 1-.6 1 1.4 1 1.8 1-3.5 1-.8 1 2 1-6.9 1 5.7 1-1.2 1 .9 1-.4 1 1.3 1-.6 1 0 1-.6 1 1.5 1-2.4 1 3.7 1-6.6 1 4.7 1 .6 1-4.3 1 2.1 1 4.4 1-3.6 1-1.9 1-3.3 1 6.3 1-.6 1 1.3 1 3.6 1-5.1 1 .3 1-2 1 1.5 1 .1 1 2 1-.5 1-3.3 1 .7 1 4.6 1-5.8 1 4.3 1 2.2 1-2.5 1-1 1 2.8 1-2.5 1-.9 1-.5 1 3.4 1-1.2 1 2.2 1-4.8 1 .1 1-.3 1 1.8 1-2.5 1 4.1 1-1.5 1-3.3 1-3.1 1 1 1 8.2 1-3.8 1 .5 1-1.4 1 2.1 1-5.9 1-.2 1 1 1 4.2 1 1.6 1-.5 1-1.5 1-2.9 1 5.2 1-2.7 1 .6 1-.1 1-1 1-.7 1 .4 1-1.8 1 3.9 1-1.1 1 3 1-7.1 1 7.5 1-3.1 1-.2 1-1.7 1 0 1-1.7 1 6 1-2.8 1 2.4 1 .2 1-3.3 1 .7 1-.3 1 3.4 1-2.2 1 .1 1 1.4 1-2 1 5.3 1-7.5 1 5.5 1 .4 1-6.4 1 5 1-1.4 1 1.5 1-5.2 1 3.6 1-3.1 1 1.6 1 4.4 1-3.9 1-5.2 1 2.1 1 .6 1 5.4 1-4.3 1-2.1 1 6.7 1-2.2 1 .2 1-2.8 1 5.6 1-3.9 1-4.7 1 2.1 1 .8 1 1.7 1 2.3 1-3.8 1 .4 1 7 1-5.3 1-1.6 1 1.5 1-3.3 1 4.5 1 1.1 1-3.9 1 4 1-3.3 1 1.5 1-2.6 1-.1 1-1.8 1 4.3 1-1.2 1 0 1-2.2 1-.1 1 1.4 1 2.8 1-.5 1-2.4 1 2.4 1 3.7 1-4.2 1 4.9 1-4 1 2.2 1-4.7 1 4.3 1-5.9 1 3.6 1-1.5 1-4.2 1 1.6 1 6.3 1-1.6 1 2 1-2.7 1-6.1 1 6.2 1-2.1 1 .2 1 .1 1-.8 1-.5 1 5.6 1-2 1-2.8 1 .6 1 3.5 1-1.5 1-.4 1-3.6 1 2 1-1.8 1-2 1 7.1 1-3.1 1-.2 1-1.4 1 4.4 1 3.3 1-3.8 1 .9 1-5.5 1 3.6 1 .1 1 3.2 1-3.7 1-2.4 1 2.2 1-.9 1 4.7 1-2 1-.8 1-.4 1 1.7 1-3.4 1-1.1 1-2.4 1 7.7 1-1.7 1 .4 1-1.6 1 4.1 1-6.6 1 5.5 1-5.2 1 1 1-1.9 1 3.3 1-1 1 1.8 1-2.6 1-2 1 5 1 1.8 1-1.4 1-2 1 1.1 1-5.3 1 3.5 1 3.7 1-1.7 1-3.3 1 4.3 1-2.5 1 2.1 1-5.3 1 2.2 1 2.1 1 0 1 .6 1-1.4 1-.5 1 1.7 1 1 1-6 1 3 1 .3 1 .9 1 2.2 1-5.9 1 4.6 1-5.7 1 2.5 1 .6 1 .6 1-.8 1 .2 1 .4 1 .2 1-3.9 1 1.1 1 2.4 1 2.4 1 1.2 1 3.1 1-5.3 1-2.3 1 2.5 1 1.2 1-1.3 1-3.1 1 2.5 1 .1 1-3.4 1 .5 1 6 1-8.5 1 5.9 1-1 1 4.1 1-2 1-3.7 1 5.4 1-4.6 1 6.4 1-.8 1-4.4 1 2.2 1-1.5 1-2.8 1 5 1-1.6 1 1.1 1 .5 1 .9 1-1 1-2.8 1 .5 1 .8 1-1.4 1-.3 1 5.3 1-3.4 1 3.5 1-6.7 1 1.8 1-.9 1 .1 1 .2 1 .4 1-.7 1 5.6 1-2.9 1-3.5 1 .5 1 3.2 1-.5 1-2.9 1 3.9 1-5.9 1 2.4 1 5.5 1-9.9 1 5 1 3 1-2.8 1-1.6 1-.3 1-3 1 1.9 1 3.5 1-1.6 1 1.4 1-.3 1 1.1 1-4.9 1 3.4 1-.1 1 .1 1-1.5 1-3.2 1 7 1 .5 1 3.5 1-3.7 1 2.3 1-2.7 1-2.4 1 2.2 1-4.2 1 3.6 1-.9 1-2.4 1 5.7 1-.2 1-1.7 1 .9 1 2.1 1-4.5 1-3 1 1 1 4.1 1-1.2 1-4.3 1 7.1 1-2.8 1 3.5 1-1.2 1-3.9 1 1.3 1-2.1 1-.2 1 1.3 1 2 1 2.2 1-5.7 1 4 1-1.6 1-.7 1 3.4 1-3.7 1 4.4 1-4.3 1-1.5 1 4.2 1-5.5 1 .6 1 2.5 1 .5 1-.7 1-4.2 1 1.6 1 4.6 1 .1 1-3.9 1 3.2 1-.2 1 2.1 1-4.4 1 5.5 1-4.4 1 4.4 1-1.3 1-4.9 1 1.8 1 1.5 1 1.8 1-6 1 2.2 1 2.8 1-.4 1-3.8 1 .4 1 3.3 1-3.6 1 3.1 1 1.7 1-2.2 1-5.7 1 8.6 1-.1 1 .7 1-1.4 1-6.4 1 7.8 1-2.7 1 1.5 1-2.8 1-.2 1 0 1 4.7 1-3.4 1-1.2 1-2.7 1 4.4 1-1.1 1 .3 1 2.1 1-.6 1-1.9 1 .6 1-.3 1 1.5 1 0 1-1.4 1-2.5 1 4.3 1 .1 1-5 1 3.7 1-1.9 1-4.6 1 5.4 1 2.5 1-4.2 1 0 1 4.4 1-5.4 1 .4 1 1.6 1 2.4 1 0 1-2.9 1 .5 1 1 1-1.2 1-1.2 1-.6 1 4.6 1-2.3 1 6 1-3.9 1-3.5 1 1.9 1 .9 1 .1 1 .1 1 0 1-1.4 1 1.9 1 3.9 1-6.6 1 .1 1 2.8 1 1.3 1-1 1 1 1-3.2 1-.5 1 2.3 1 0 1 2.5 1-.3 1-8.5 1 6.6 1-3.7 1-3.6 1 6.3 1-1.4 1-.5 1-2.4 1 .7 1 2 1-3.2 1 3.5 1 .6 1-.7 1 1.1 1-.9 1-2.8 1 .4 1 2.9 1 2.1 1-2.1 1-1.6 1 1.7 1-5 1 2 1 1.6 1 .8 1-.7 1 .2 1-2.3 1 1.5 1 2.1 1-5.3 1 1.6 1 2.2 1 4.6 1-2 1 2.2 1-.6 1-4.5 1 1 1-2.8 1 5.9 1-1.1 1-.4 1 .2 1-.5 1-.6 1 .1 1 2.4 1-5 1-.7 1 2.7 1 2.9 1-2.3 1-1.2 1 2.7 1-1.9 1-5.1 1 2.3 1-2.7 1 4.7 1-.6 1 2.3 1 4.2 1-6.9 1 1.6 1-1 1-4.6 1 3.6 1 .1 1 2.5 1-2.8 1-1.1 1 4.7 1-1.6 1-2.1 1 .3 1 1.2 1 2.8 1 1.5 1-6.8 1 6.2 1-2.8 1 .8 1 1.5 1-4.9 1 4.6 1-5.4 1 2.1 1-1 1 6.4 1-.1 1-2.2 1-.6 1-2.7 1 5.8 1-.9 1-1.3 1-2.5 1-.6 1 .7 1 3.5 1-5.7 1 2.7 1 3.8 1-1.9 1 2.2 1-3.4 1 .1 1 2.4 1-1.8 1-.8 1-2.2 1-2.4 1 7.5 1-4.8 1-.9 1 4.1 1-4.4 1-1.2 1 2 1 1.3 1 .8 1 .6 1 1.2 1-2.7 1 1.2 1-1.2 1-1.4 1 2.7 1-.2 1 3.8 1-3.1 1-3.3 1 3.3 1-2.2 1 4.6 1-8.2 1 2.6 1 0 1 2 1-.7 1-3.6 1-.7 1 5.1 1 3.2 1 0 1-4.6 1 2.1 1-3.3 1-1.5 1 6.7 1-1.3 1-2.6 1-.1 1 3.3 1-1.5 1-1.7 1 1.6 1-.8 1-1 1-.7 1 4.1 1-3.5 1-1.8 1 7.5 1-1.4 1-1.8 1-1.5 1 .7 1-4.2 1 3.6 1 .8 1-1.2 1 1.6 1-3.1 1 2.4 1-4.4 1 3.9 1-1.5 1-1.8 1 2.4 1 1 1-1.5 1 3.8 1-4.1 1 4.1 1-.5 1-3.4 1 5.1 1-7 1 4.8 1-1.2 1 1.7 1-5.8 1 .9 1 .9 1 2.2 1 .1 1-.2 1-.7 1-1.1 1-1.6 1 2.3 1 2.4 1 1.2 1-3.8 1 3.9 1-6 1 5.3 1-4.6 1 3.3 1-3 1-.1 1 1.1 1 4.9 1-5.2 1 3.2 1-1.2 1 .4 1 0 1 .8 1-4.5 1 3.1 1 .7 1-2.3 1 2.3 1-3.4 1 4.4 1-3.6 1 1.1 1 2.6 1 .7 1-4.1 1-.1 1 4 1-8.1 1 9 1-.1 1-5.9 1 5.6 1-2 1 .2 1-6.8 1 4.4 1 .8 1-.6 1 .1 1 .2 1-4.9 1 5.2 1-1.3 1 1.5 1-1 1 1.2 1 .7 1 3.8 1-6.5 1 6.2 1-4.8 1-1.6 1-1.4 1 5.8 1-5.9 1 6 1-1.4 1-2.3 1-.2 1 2.8 1-.8 1 1.5 1-1.9 1-1.2 1 2.6 1-4.4 1 5.1 1-1.9 1-3 1 .3 1 1.7 1-3.7 1 8 1-1.1 1-5.1 1 2.4 1 4.6 1-3.3 1-3.5 1-2.9 1 1.3 1 7.1 1-2.2 1-4.1 1 5.1 1-2.7 1-.8 1 .4 1 .2 1 5.3 1-6.6 1 1.4 1 4.4 1 .4 1-6.2 1 7.6 1-2.4 1-6.5 1 8.3 1-8.3 1 5.4 1-4.6 1-1.6 1 6.7 1-1.1 1-1.3 1 .7 1-.7 1-.4 1-2.1 1 4.2 1-1.4 1-.7 1-.8 1 .7 1-3.1 1 3 1-1.7 1 5.8 1-5.7 1 1.3 1 1.2 1 1.9 1-.8 1-1.1 1 5.4 1-5.5 1 .8 1 4.8 1-7.8 1 4.7 1-1.4 1-4.4 1 1.7 1 3.7 1-5.7 1 3.2 1 2.8 1-3 1 1.3 1-2.4 1 .1 1 .1 1 .6 1 2.5 1-1.4 1 4.8 1-3.6 1-.7 1 4.9 1-5.9 1-1.7 1 2.4 1-3.1 1 4 1 2.2 1-1.9 1-2.6 1 .7 1 1.5 1 1.8 1-4 1 0 1 3.8 1-2.2 1 .3 1 .3 1-3.1 1 1.5 1 3.1 1-3.1 1-.1 1 1.3 1 .2 1 4.6 1-7.6 1 2.4 1 4.7 1-5 1 .9 1-4.7 1 6.2 1-.3 1-.1 1-2.5 1 1.4 1-1.1 1 2.3 1-2.2 1 2 1-5.4 1 2.6 1-4.8 1 5.3 1 2.3 1-2.6 1 6.2 1-8.1 1 1.7 1-1.5 1 1.1 1 0 1-2.5 1 1.2 1 7.7 1-5.8 1 2.9 1-5.5 1 2.9 1 1.7 1-1.8 1-.9 1 .8 1 .6 1 2 1 1 1-6.4 1-1.9 1 4.7 1 .5 1 1.8 1 .9 1-4.4 1 6.9 1-4.5 1-5.2 1 7 1-1.8 1 0 1-4.7 1 3.2 1 1.2 1-.8 1 2.2 1 1.4 1 .7 1-.7 1-3.6 1 4.8 1-3.7 1 1.5 1-2.8 1-2.9 1-2.1 1 6.1 1-2.2 1 1.7 1 2.3 1-6.2 1-.6 1 5.2 1 .2 1-1.6 1-.6 1-2.7 1 3.8 1-1.7 1 3 1 1.3 1-3.8 1 2.5 1-.6 1 1.3 1 2.1 1-2.2 1 .1 1 .2 1-3.1 1 1.1 1 .9 1 2.3 1 .1 1 2.3 1-8.4 1 2.7 1-4.3 1 3 1-2.8 1 7.2 1-1.1 1-4.6 1 3.6 1 1 1 2.5 1-2.3 1-1.8 1-.5 1 1.8 1-.8 1-2 1-1.9 1 5.8 1-4.5 1 1.1 1 2.7 1-2.1 1 3 1-5.7 1 4.7 1-5.3 1-.4 1 1.2 1 2.9 1-2 1-1.8 1 6.6 1-5.5 1 2.1 1 1 1-1.9 1 2.1 1 .7 1-1.8 1 2.9 1-4.2 1-1.2 1 3.2 1-3 1 3.5 1-1.2 1-1 1 2.7 1-.1 1-7 1 4.8 1 1.2 1 .9 1-2.7 1-1.5 1 3.2 1 1.4 1-6.9 1 1.4 1 2.3 1-4.1 1 4.1 1 3.6 1-4.8 1 3.1 1-2.7 1 3.4 1 .6 1 1.6 1-3.1 1 2.5 1-1.7 1-2.2 1 5 1-5.3 1 1.9 1 5.2 1-3.4 1-4.3 1 2.8 1-2.1 1 1 1-3.4 1 4.4 1-4.6 1 4.9 1 0 1 1.3 1 3.4 1-9.8 1 1.1 1 .5 1 1.1 1 3.7 1-3.1 1-.6 1-1.4 1 1.3 1 .5 1 .8 1-3.4 1 3.5 1 1.6 1-.5 1-4.1 1 5.3 1-.1 1-1.2 1-3.9 1-.7 1 3.9 1-2.7 1-.8 1 5.7 1 0 1-.7 1 1.7 1-1 1-5.3 1 5.9 1-2.6 1 .8 1 2.9 1-2.9 1 2.9 1-3.9 1-1.1 1-.8 1 1.4 1-3.9 1 4.1 1-.1 1-1.1 1-4.2 1 .1 1 7.3 1-4.3 1 6 1-5.3 1 2.7 1-4.6 1 2.1 1 1 1 2.1 1 2.8 1-1.8 1-6.2 1 3.7 1-.4 1-1.2 1 3.1 1 2.5 1-5.2 1 4.1 1 .7 1-6.3 1 7.2 1-.2 1-3.5 1 3.6 1-3.8 1 2.3 1-1.2 1-3.9 1 2.9 1-1.1 1-.9 1-1.7 1 1 1-1.2 1 6.1 1-7.9 1 5.2 1-1.8 1-1.6 1 5.1 1-4 1 5.2 1-3.6 1 1.3 1-1.1 1 2 1 .7 1-3.6 1 1.2 1 4.5 1-6 1 6.1 1-5.6 1-.4 1-2.9 1 2.1 1-2.3 1 3 1 3.3 1-2 1-1.4 1-1 1 .8 1-1.9 1 .4 1 8.3 1-4.4 1-3 1 4.1 1 2.1 1-5.4 1 1.3 1-2.9 1-.9 1 7.6 1 2.1 1-7.5 1-2.3 1 7.8 1-.9 1-1.5 1 2.6 1-4.7 1 1.6 1 1.3 1-2.8 1 2 1-1.8 1 1.8 1-.8 1-5.5 1 5.3 1-3.9 1 1.5 1-2.1 1 6.4 1-3 1-.1 1 4.2 1-1.4 1-2.4 1-4.8 1 7.1 1-2.4 1-.3 1 2.9 1-3.5 1 1.4 1 2.5 1-.9 1-3 1 5.3 1-.8 1 1.9 1-5 1 .7 1 2.2 1-1.6 1-.8 1-.6 1-.5 1-.9 1 0 1 2.7 1-1.8 1-2.8 1 3.7 1 4.1 1-.7 1-8.7 1 3 1 4.2 1-1.8 1 0 1-.5 1 .4 1-2.7 1 5.6 1-5.7 1 2.3 1 4.3 1-1.1 1-2.8 1 0 1-1.5 1 .2 1 .7 1 4 1-4.5 1 2.6 1-.4 1-.1 1-1.7 1 2.6 1-1.5 1-.1 1-1.5 1-4.3 1 7.4 1 .1 1-3.3 1 .9 1 1.2 1-3.3 1 4.3 1 .1 1 .3 1 .2 1-7.2 1 6.2 1-2.5 1 4 1-.1 1-.7 1-2.3 1 5.8 1-5.7 1-2.5 1 5.1 1-6.1 1 8.6 1-2.3 1 .8 1-.8 1-1.6 1-4.4 1 1.9 1 2.9 1-1.9 1 1.4 1-2.7 1-.2 1 2.7 1 1.2 1-1.9 1-2.5 1-1.7 1 9.3 1-8 1 .7 1 .3 1 4.2 1-4.3 1 3.4 1-.7 1-3.6 1 3.3 1-3.6 1 2.7 1 2.3 1-2.5 1-1.7 1 1.3 1 .6 1 1.3 1-6.6 1 1 1 6 1-1.6 1 .3 1 .5 1-.9 1-.8 1 1.5 1 1.4 1-.9 1-.8 1-2.7 1 3.3 1-3.6 1 1.3 1 2 1 0 1 2.4 1-.5 1-1 1-2.1 1 .8 1-.6 1 5.1 1-3.3 1-2.8 1-.5 1 5.3 1-5.3 1 3.1 1-.5 1 2.3 1-5 1 3.4 1-.6 1 1.5 1 1.4 1-3.2 1-.8 1 2.8 1-5.8 1 4.1 1-3 1-.6 1-.9 1-.2 1 6.3 1 .1 1-1.9 1 2.3 1-2.5 1-1.4 1-1.5 1 4.7 1 .2 1 1.1 1-5.2 1 1.3 1-2.7 1 6.3 1-1.1 1-.5 1-1.3 1-.4 1-.5 1 3.7 1-4.4 1 3.9 1-1.6 1-3.2 1-1.2 1 1.7 1 1.9 1-3.2 1 4.9 1 1.3 1-1.5 1-5.7 1-1.4 1 7.9 1 1.6 1-4.8 1 2.4 1-2.1 1-.9 1 4.1 1-3.9 1 3.6 1 2.2 1-4.7 1 5.1 1-8.1 1 5.7 1-2.4 1 5.6 1-5.5 1-2.1 1 6.2 1-8.1 1 5.1 1-3.1 1 5.5 1-3.8 1 2.4 1-2.3 1-2.7 1-2.7 1 10.1 1-4 1-3.5 1 2.1 1 3.3 1-6.3 1 9.4 1-6.2 1-.3 1 4.2 1-2.8 1-3.1 1 5 1-1.2 1 1.7 1-5.3 1-.5 1 4.5 1-2.7 1-4.4 1 4 1 3.1 1-3.5 1 5.2 1-4.6 1 1 1-3.9 1 2.1 1 1.6 1 2 1-1 1 2.2 1-8.3 1 5.6 1-.4 1-2.3 1 2.6 1-1.8 1 3 1-2 1 2.2 1-3.7 1 5.6 1-2.2 1 3.6 1-5 1-.9 1 1.6 1-1.5 1-1.5 1 2.7 1-.2 1-1.5 1 .7 1-1.5 1 2.8 1-3.8 1 7.8 1-4.3 1 2.4 1-5.5 1 4 1-1.3 1 2.9 1-.3 1-6.5 1 7.2 1-6.8 1 7.3 1-3.6 1-2.9 1 4.9 1-1.7 1-2.7 1 .7 1 3.1 1-4.8 1 1.3 1 7.1 1-6.8 1 2.9 1 .2 1 1.3 1-.2 1-7.9 1 4.4 1 4.3 1-5.1 1 6.8 1-4.1 1-3.8 1 4.6 1 3.6 1-6.8 1 3.2 1-3.7 1 .8 1 1.8 1 1 1-.4 1-.4 1 5.1 1-8.4 1-2.1 1 6.3 1-.9 1-4.3 1 8.2 1-6.2 1-1.9 1 4.8 1 .5 1 4 1-9.6 1 .7 1 2.6 1-.5 1 1 1-1.7 1-2.2 1 2.9 1 3 1 .2 1-3.7 1 3.1 1-.3 1-2.4 1 .4 1 1 1 5.5 1-5.2 1-2.7 1 1.9 1-1.1 1 4.4 1-8.5 1 2.7 1 5 1-1 1-1 1 1.8 1-5.4 1 4.4 1-3.9 1-.4 1 4.7 1-3.4 1 1.2 1 2.5 1-4.3 1 4.3 1 4 1-6.1 1 3 1-.5 1-5.3 1-.3 1 3.6 1-5.6 1 5.7 1 .6 1 .5 1 0 1 2.3 1-4.4 1 4.4 1-2.1 1 0 1-1.8 1 2.9 1-4.5 1 3.9 1 1 1-4.6 1-.8 1 .5 1 1.9 1 1.1 1 1.3 1 2.7 1-.7 1-3.6 1-1.7 1-2.1 1 5.3 1-.8 1-2.1 1 .3 1 .1 1-5.4 1 5.6 1 1 1-1.2 1-2.5 1 2.9 1 1.2 1 3.4 1-1.9 1-1.2 1-1.7 1-3.4 1 2.3 1-2.4 1 3.3 1 3.1 1 0 1-.4 1-2.3 1 2.5 1-3.3 1-4.4 1 5.5 1-.3 1-4.6 1 3.1 1-4.3 1 4.5 1 4.4 1-4.9 1 5.2 1-2.9 1-2.5 1-2.7 1 6.6 1-.2 1-5.7 1 2.8 1 4 1-4.8 1 2.9 1-6.1 1 2.7 1 4.3 1-5 1-.7 1 .2 1 2.6 1-3.1 1 3.8 1 1.8 1 2.5 1-5 1 5.2 1-2.7 1-2.1 1 2 1 2.6 1-.1 1-1.9 1-2.2 1 2.4 1-1.6 1-.2 1 .3"/>
<path transform="translate(77.30 0) scale(0.121364 1)" vector-effect="non-scaling-stroke" stroke="#00ff00" stroke-width="1.0" d="M0 497.3l1 8.1 1-1.7 1-2 1 6 1-13.4 1 1.2 1-.3 1 7.6 1 2.8 1-5.2 1 1.4 1-14.1 1 10.1 1-4.6 1 13.1 1-4.2 1 .5 1-5.8 1 2.3 1-.1 1-3.5 1 .8 1 3.2 1-1.1 1-.6 1 0 1-5.1 1 9.8 1-11.9 1 12.3 1-8 1 .9 1-5.1 1 5.9 1-.1 1 0 1-6.7 1 3.9 1 8.1 1-7.2 1-3.4 1 8.7 1-4.2 1 4.1 1 3 1-7.2 1-6.8 1 6.9 1 3.8 1-4.5 1 4.6 1 2.5 1-9.4 1 5.8 1 1.5 1-7.4 1 4.7 1 4.8 1 3.4 1-5 1-4.3 1 2.6 1-8.4 1-4.9 1 1.7 1 6.7 1 1.2 1-8.6 1-.3 1 9.2 1-1.9 1-2.1 1 3.9 1 3.7 1-6.7 1 1.5 1-8.6 1 2.2 1 10.6 1 .2 1-1.4 1-1.5 1 1.9 1-1.1 1-14.1 1 4.4 1 6.8 1 .2 1-11.1 1 15.1 1-11.3 1 1.9 1 2.1 1 2.4 1-9.9 1 14.5 1-5.3 1-4.6 1 3.4 1-11.1 1 4.6 1 5.3 1-4.3 1 .1 1 1.1 1 3.3 1 7.9 1-4.8 1-2.1 1 3.4 1 6.5 1-12.4 1 4.7 1-14.2 1 19.2 1-3 1 5.2 1-10 1-5.7 1 11.4 1 .2 1-8.1 1-4.3 1 11.5 1-4.3 1 12.9 1-13.1 1 1.8 1 3.1 1-9.8 1 4.8 1 15.5 1-9.3 1-3.3 1-3.1 1 10.5 1-2.3 1-6.1 1-4.5 1 2.6 1 1.9 1-4.8 1 6.3 1-11.3 1 2.9 1 7.8 1 1.9 1-9.5 1 8.1 1 4.5 1-4.2 1-1.4 1-.1 1-3.5 1-12.2 1 4.4 1 11.3 1-20.6 1 6.5 1-1.8 1-1.6 1-.1 1 10 1 4.1 1 2 1-15.7 1 7.5 1 2.1 1 6.7 1-1.9 1 3.3 1 4.1 1-.7 1-12.9 1 6.5 1-5.4 1-8.1 1 .1 1 28 1-23.4 1-9 1 11.3 1 19.4 1-13 1 3.7 1-7.6 1 3.4 1 5.1 1-3.1 1-12.6 1 6.6 1 2.3 1-13.8 1 3.6 1-.7 1-7.9 1 16.1 1-11.3 1-3.5 1-8.3 1 1 1 19.9 1-18.7 1 16.2 1-8 1 6.7 1 5 1-11.2 1-1 1 4.2 1 3.4 1-4.3 1-3.1 1 6.4 1 8.1 1-4.4 1-12.9 1 7.4 1 1.9 1 3.1 1-14.7 1-3.5 1-10 1-1.4 1 6.9 1 6.9 1 4.2 1 19.1 1-7.8 1 21.3 1-27.4 1 24.2 1 1.5 1-4.6 1-10.9 1 3.1 1-3.1 1 11 1-22.2 1 8.2 1 9.8 1-3.6 1-9.2 1 12.5 1-4.1 1 11.1 1 7 1-10.6 1-14 1 12.2 1-6.8 1 13.4 1 6.9 1-12 1 13.3 1-2.1 1-7.3 1-11.5 1 5.7 1-11.5 1 20.1 1-3.3 1 9.7 1-12.1 1-16.2 1 16.4 1 .7 1 4.5 1-15.9 1 .5 1 4.4 1-7.8 1-2.2 1 2 1 17.8 1-16.8 1-5 1 7.7 1 7 1 9.8 1-2.9 1 1.4 1-4.7 1 2.2 1-6.8 1-6.7 1 19.9 1-13.8 1 8 1-10.6 1 2 1-2.3 1-8.6 1 7.9 1 3.2 1-1 1-3.2 1 4.6 1-4.4 1 1.5 1-14.9 1 10.9 1 16 1-12.2 1 4.2 1-6.7 1-5.9 1 14.8 1-10.5 1 7.3 1-9.1 1-7.1 1-7.8 1 13.7 1-11.2 1-4.9 1 22.8 1-2.8 1 .4 1-3 1 .1 1 6.6 1-6.5 1-1.3 1 7.2 1-20.8 1 16.5 1-22 1 9.3 1 1.8 1-15.5 1 19.5 1 2.3 1-10.8 1 4.4 1 5 1-15.3 1 8.8 1 4 1-4.5 1-13.3 1 10.7 1 15.4 1-4.3 1-14.8 1-8.4 1 11.5 1-.9 1-6 1 .2 1 9.9 1 2.8 1-26 1 23.5 1-2.2 1 3.8 1-3.8 1 4 1 15.5 1-31.2 1 30.4 1-10.7 1-16.5 1 1.7 1 15.6 1-11.9 1 17.4 1-8.6 1-1.9 1 5 1-5.1 1 9.7 1-.7 1-6 1 10.8 1 2.4 1-17.6 1 9.5 1 5.8 1-4.1 1-10.1 1 8.4 1 3.9 1 1.2 1 11.1 1-19.7 1 .1 1 1.3 1 3.9 1-.9 1-7.1 1 21 1 4.8 1 2.3 1-18.8 1 8 1 13.9 1-15.8 1 6.7 1-7.8 1 8.2 1-5.1 1 3.9 1-10 1 1.8 1-11.3 1 3.6 1-.2 1 2 1-6.3 1 16.9 1-15.3 1 11.2 1-8 1 10.1 1 8.9 1-14.3 1 6.9 1-.3 1 3.5 1 .7 1-9 1 .6 1-2.6 1-1 1-.1 1 11.7 1-10.1 1 4.6 1 1 1-7.9 1 12.6 1-8.4 1 9.5 1 4.6 1-8.6 1 0 1-2.7 1 15 1-13 1-3.3 1 10.7 1-5.1 1 2.6 1-4.7 1-3.1 1 4.1 1-3.4 1-4 1 4.1 1 3.8 1 10.1 1 .4 1-1 1-5.6 1-3.9 1 8.2 1 .9 1 2.4 1-5 1-.6 1 1.9 1-7.5 1 1.2 1 6.3 1-12.3 1 7.2 1 3.4 1-4.5 1 1.5 1-7.4 1 2.9 1-3 1 8.2 1-.4 1-2.1 1 9.6 1-6.6 1-4.5 1-1.7 1 2.4 1-2.9 1 11.4 1-5.6 1-3.6 1-.6 1-3.5 1 1.2 1 9.6 1-2.2 1-3.9 1 .1 1-9 1 13.9 1-2.8 1 5.5 1-8.7 1-1.9 1 4.7 1-5.9 1 9.2 1-6.1 1 .5 1-3.2 1-1.8 1 1.8 1-.4 1 7.3 1-9.3 1-2.2 1-4.2 1-3.5 1-.8 1 7 1-7.2 1 3.4 1-7.3 1 .4 1-4.9 1 11.6 1 2.1 1-11.6 1 8 1-4.5 1-9.5 1 6.8 1-7.9 1 4.1 1 5.6 1-4.2 1-4.3 1 14.1 1-11.5 1 5.6 1 1.1 1 .5 1-5.4 1-3.3 1 17.2 1-14.4 1-.4 1-5.6 1 11.2 1 4.6 1 2.4 1 .4 1 .5 1-6.1 1-2.1 1 7.9 1-8.2 1 1.3 1-6.5 1 5.9 1 8.4 1-9.3 1 2.6 1-12.4 1 17.7 1-26.4 1-8.8 1-5 1-5.4 1 2.7 1 12 1 5.7 1 12 1 5.1 1-7.3 1 5.3 1-7.1 1-3.8 1 5.9 1-3.4 1 10.7 1-11.2 1-5.8 1 5.3 1-2.4 1 4.3 1-1.2 1-6.9 1 5.4 1-1.3 1-3.4 1 5.9 1 4.1 1-11.1 1 1.3 1 5.3 1 3.9 1-.8 1-10.7 1 8.5 1 1.5 1 6.5 1-9.2 1-.9 1-3.6 1 12.5 1 .1 1-7.2 1 6.9 1 .5 1 .5 1-7.5 1 5.6 1-6.3 1-3.2 1 7.8 1 1.2 1-7.2 1 5.2 1 9.1 1-20.1 1 11.3 1 .2 1-5.2 1 1.5 1-3.5 1 11.4 1-10.3 1 2.6 1-9.1 1 12 1-.8 1-10.4 1 3.8 1 5.9 1-2.3 1-2.7 1-1.2 1 12.9 1 8.9 1-11.1 1 5.5 1 .9 1-2.9 1 .2 1 1 1-5.5 1 13.8 1-2.8 1-7.4 1 6.4 1-13.5 1 6.2 1 7.9 1-15 1-1.2 1 5.9 1-9.3 1 20.4 1-2.4 1-2.7 1 2.4 1-11.2 1-.4 1 9.9 1-18.4 1-7.8 1-9.8 1-1.3 1 2.4 1 12.3 1 4.6 1 10.7 1-7.2 1 2.3 1 1.4 1 10.8 1 2.9 1-8.9 1-13 1 6 1 4.5 1-.3 1-1.2 1 2 1-10.7 1 2.7 1 4.8 1 1.8 1-2.7 1-.2 1-.2 1-4 1 2.6 1-.6 1-2.5 1 12.3 1 .1 1-9.5 1 6.6 1 2.5 1-4.4 1-.3 1 .4 1-15.5 1 1.8 1 11.6 1-1.7 1 8.2 1-8.3 1 10.4 1-.7 1 3.7 1-15.6 1 3.5 1 2.7 1-.1 1-7.5 1 2 1-.6 1 19.3 1-11.2 1 1.6 1-4.7 1 4.8 1 3.6 1-7.5 1 1.9 1 9.8 1-5.6 1-4.6 1-5.7 1-1.9 1-1.9 1 4.4 1-4.1 1-2.7 1 3.8 1-2.6 1 7.7 1 12.5 1-12.7 1-2.6 1 11.5 1-17.9 1-6.7 1-5.6 1-2.8 1 6.5 1 5.5 1 4.7 1 5.5 1-8.1 1-3.3 1 3.4 1 .9 1-.6 1 1.6 1 10 1-7.2 1-1.6 1-5.4 1 12.1 1-13.9 1 20.5 1-8.7 1-5.9 1 12.1 1-3.5 1 5.6 1-10.1 1 9.9 1-1.3 1 2.2 1-12.1 1 3.7 1 9.4 1-9.9 1-9.3 1 8.9 1-6.7 1 2.9 1-5.4 1 9.9 1-6.1 1 2.5 1-1.6 1-7.4 1-3.3 1-3.4 1 2 1 9.8 1 1.7 1 5.2 1-1.8 1 2.3 1-2.2 1 .3 1-4 1 3.6 1 9.9 1-7.1 1 8.8 1 1.8 1-9 1 7.8 1-7.6 1 4.2 1-5.8 1 9.3 1-6.3 1-8.1 1 16.9 1-3.8 1-12 1 11.7 1-1.2 1 11.5 1-12.7 1 1.1 1-6.1 1 2 1-10.7 1-3.5 1-.1 1-3.1 1 6.2 1-7.1 1-8.9 1-.6 1-9.5 1 5.7 1-20.8 1 10.2 1 10.1 1-9.7 1-5 1 6 1-10.9 1 .9 1 6.9 1-14.1 1 13.1 1-7.3 1-1.9 1-3.1 1 1.2 1-9 1 10.7 1 3.4 1-1.7 1-4.6 1 6.7 1-1.2 1-6.5 1 3.1 1 4.4 1-3.7 1-5.3 1 2.5 1 1.9 1-10.1 1 11.6 1-1.8 1-12.3 1 3.1 1 21.6 1-11.1 1 7 1-12.3 1 12.3 1-6.2 1-7 1 7.9 1 10.1 1-1.7 1-5.6 1-5.5 1-2.7 1 8.4 1 3.8 1-6.3 1 .6 1 8 1 2.7 1-.4 1-14 1 9.4 1 14.6 1-11.7 1 9.8 1-10 1-6.1 1 4.6 1 3.9 1-5.9 1 5.3 1-7.1 1 9.7 1-12.8 1 3.5 1-10.8 1-3 1 7.3 1-8.5 1 5.5 1 4.9 1 3.3 1-13.5 1 11.3 1 5.5 1-8.7 1-5.9 1 4.1 1 16.7 1-11.3 1 9.9 1-14 1 11 1-18.5 1 6.5 1 3.9 1 10.4 1-9.7 1 4.7 1-11.7 1 3 1 10.9 1 1.4 1 3.5 1 2.8 1-8.6 1 21.4 1-10.1 1 8.8 1-3.8 1-13.7 1 1.1 1 4.5 1 14.4 1 13.1 1-12.1 1 13.9 1-20.6 1 2.9 1-2.6 1 8.8 1-5.3 1 4.7 1 10.5 1-8.9 1-3.5 1 4 1-6.9 1-.1 1 16.5 1-2.3 1-20.6 1 7.4 1 3.3 1 2.7 1-2.2 1 2.9 1-7.9 1 4 1 3.3 1 11.4 1-2.2 1 8.2 1-3.1 1-17.5 1-6 1 .8 1 3.2 1 14.6 1-23.6 1-4.7 1 8.6 1 8.3 1-3 1 9.6 1-22.4 1-1.6 1 3.3 1-6.3 1 5.6 1 13.1 1 4 1-.2 1-7.2 1 .3 1 3.1 1-22 1 15.6 1 .6 1-9.1 1 2.8 1-13.7 1 20.2 1 1.4 1-19.9 1 11.2 1 10.5 1 10.3 1-22 1 6.2 1 14.5 1-7.8 1-9.5 1-6.1 1 7.4 1-3.9 1 20.1 1-19.1 1 14.1 1 1.1 1 4.9 1-10 1 2.7 1 4.4 1-2.2 1 9.8 1-12.3 1 13.3 1-.6 1-21.5 1 13.4 1-16.5 1 15 1-4.3 1-2.5 1-11.9 1 8.3 1 10.9 1 .4 1-5.2 1-13.7 1 6.5 1-3.9 1-2 1 1.3 1 12.4 1-.2 1-.9 1-13.4 1-1.2 1 24.9 1-16.3 1 12.9 1-15.3 1 13.9 1-4.6 1-10.7 1-1.1 1 19.3 1-4.3 1-11.3 1 7.3 1-17.4 1 34.8 1 3.5 1-16.6 1 3.6 1-21.3 1 23.8 1-5.4 1-2.4 1 10.3 1 .2 1-11.9 1 2.6 1 4.7 1 10.1 1-9.4 1-11 1 4.5 1-17.1 1 27.9 1-15.3 1-12.7 1 9.6 1 6.9 1-7.5 1 12.4 1-32 1 32.8 1-17.7 1 8.9 1 5.1 1-28.7 1-2.6 1 11 1-10.4 1-3.1 1 12.7 1 11.3 1-16.6 1 9.2 1 11.2 1-12.7 1-2.6 1 1.7 1 7.9 1-4.2 1 11.8 1-5.8 1 10.4 1-6.2 1-1.4 1-5.6 1-6 1 4.1 1-3.7 1 9.8 1-2.2 1 1.7 1 18.2 1-12.8 1 5.2 1-22.3 1 24.6 1 2.2 1-10.8 1-10.9 1 22.5 1-19.9 1-9.3 1 .5 1 18 1-3.7 1 10.7 1-3.8 1 3.9 1-6.6 1-2.5 1-2.1 1-5.5 1 3.9 1 4.5 1 8.8 1-13.4 1 3 1 12.6 1-29.3 1 7.6 1-.1 1 11.5 1-14.9 1 7.8 1 16.9 1-30.3 1 15.2 1 0 1-3.4 1-7.4 1 17.5 1-26.7 1 6.4 1 3.2 1-4.1 1 13.2 1-14.3 1 19.6 1-16.6 1 12.7 1-9.1 1-8.7 1 1.4 1 14.6 1-12.5 1 4 1-4.6 1-6.3 1 14.4 1-.3 1-11.4 1 10 1-4.3 1-13.7 1 3.4 1 10.5 1 3.7 1-3.8 1 8.4 1-9.8 1-8.9 1-4.1 1 18.4 1-19.2 1-2 1-4.3 1-.6 1-.4 1 7.8 1 .9 1 2.3 1 5.2 1-7.5 1-5.4 1 5 1-13.7 1 22.5 1-5.2 1 0 1-14.7 1 9.6 1 5.8 1-5.4 1-5.6 1 9.5 1 4.5 1-10 1 15.3 1 5.1 1-11.7 1-7.4 1-.8 1 16.5 1-13.1 1 8 1-4.3 1-9.6 1 18 1-11.3 1 2.9 1-14.2 1 28.8 1-10.2 1-8.3 1-7.5 1-5.9 1-16.6 1-8.5 1-6.2 1 9.8 1 13.3 1 6.8 1 7.5 1 1.8 1 1 1-3.1 1 5.9 1 3.7 1 11.9 1-2.9 1-10.5 1 13.8 1-14.3 1-9 1 28.5 1-16.6 1-3.8 1-6.3 1 6.2 1 17.4 1-11.1 1 15.8 1-18.2 1 9.6 1-10.5 1-4.8 1-1.5 1-.6 1-10.2 1 2.9 1 18.9 1 6.6 1-15 1-1.6 1-8.3 1 18.2 1 0 1-21.4 1 14.6 1-8.2 1-6.5 1 28.1 1-4.5 1-7.8 1 9.7 1-18.8 1 7.4 1 11.2 1-19.2 1 7.6 1-11.4 1 11.4 1 2.6 1-18.3 1 6.6 1 6.5 1 9.1 1-19 1-2.7 1 6.8 1 11.9 1-24.1 1 13.3 1 10.2 1-17.1 1 .5 1 10.9 1-20.6 1 29.2 1-9.5 1-11.6 1 .9 1 5.3 1-4.5 1-10.5 1 8.9 1-18 1 33.7 1-27.2 1 5.9 1 .2 1 19.7 1-3.6 1 16.5 1-15 1 6.5 1-5.2 1-2.2 1 16.7 1 2.1 1 1.4 1-30.1 1 22 1-11.7 1 .7 1-12.9 1 6.3 1 13.4 1 7.7 1 7.8 1-31.3 1 8.2 1 10.8 1-4.5 1 1.8 1-19.4 1 15.5 1 10.7 1-1.4 1-11.7 1-2.8 1 12.2 1 11.2 1-14.6 1 2.9 1 9.7 1-28.8 1 22.7 1-6.4 1 2.3 1-12.8 1 3.3 1-5.9 1 4.5 1-9.5 1 .5 1 2.9 1-16 1-6.2 1 5.4 1-1.4 1 10.1 1 9.3 1-13.4 1-12.9 1 21.1 1-9 1-9 1 7.1 1 20.4 1-33 1 3.4 1 11.7 1-8.2 1 9.1 1 13.8 1-.2 1-.3 1-6.8 1 1.8 1 22.5 1-18 1 6.7 1-25.4 1 15.4 1-4.6 1 .8 1-16.8 1 15.4 1 22.4 1-8.5 1-12.5 1 15.9 1-18.8 1 21.8 1-6.3 1-10.6 1-6.6 1-3.8 1 17.1 1 17.7 1-10.5 1-4.6 1 1.6 1-15.5 1 13.2 1-19.8 1 9.4 1 4 1-1.4 1-1 1 7.2 1-6.7 1 11.3 1-14.7 1 11.6 1-4.9 1 3.8 1 .3 1-13.7 1 5.6 1-12.4 1 9 1 8.3 1-8.3 1 .3 1 17 1 3.4 1-1.3 1-12.5 1 2.6 1 8.7 1-2.5 1-29.7 1 29.8 1-2.1 1-26.4 1 27.1 1-11.2 1-3.5 1-6.2 1 3.6 1 5.9 1 .7 1-11.5 1 10.6 1-6.4 1 1.5 1-3.2 1 5.9 1 22.9 1-24.5 1-1 1 9.3 1-4.6 1-5.8 1 19.1 1-9.7 1 10.7 1 13.1 1-7.5 1-4.6 1-3.1 1-1.9 1 1.7 1-18.8 1 19.4 1-9.1 1 13.7 1-10.6 1 6.5 1-26.2 1 15.3 1 20.2 1-17.4 1-5.6 1 9.9 1-9.4 1 5.2 1-9.2 1 13.8 1 9.6 1-14.3 1 4.2 1-11 1 12.5 1-4.8 1-4.3 1 5.6 1-5.6 1 9 1 4.3 1-10.1 1-3.5 1 10.6 1-16.3 1 6.6 1-3.6 1 1.6 1-4.4 1 30.2 1-4.3 1-8.9 1-9.9 1 13.9 1 13.1 1-20.2 1 30.8 1-22.6 1 7.5 1 1.9 1-23 1 18.5 1 .8 1 8.4 1-19.7 1 18.7 1 2 1-9.5 1-8.7 1-3.2 1-12.6 1 10.2 1 12.6 1 12.3 1-8.3 1-.5 1-24.4 1-1 1-8.5 1 5.7 1-2.1 1 6.8 1 16.1 1-9.4 1-2.8 1 14.8 1 6.2 1-9 1-23.4 1 39.7 1-23.6 1-12.9 1 10.2 1 9.8 1-28.7 1 26.7 1-14.1 1 2.4 1-13.9 1 8.2 1-6.4 1 26 1-18.9 1 17.6 1-6.5 1-13.2 1 25.9 1 .8 1 3.4 1-23.2 1 6.7 1 10.7 1-4.3 1-6.2 1 15.9 1-22.6 1 19.6 1-18.3 1 23 1-20.8 1-4.4 1 18.7 1-8.6 1-8.9 1 8.1 1-7.1 1 10.9 1-1.8 1 17.5 1-27.4 1 21 1-5.7 1-15.5 1 32.5 1-32.2 1 16.2 1-26.6 1 23.6 1-4.9 1 .3 1-9.4 1 11.1 1 18 1-4.4 1-4.8 1-3 1-3.9 1 19.9 1-15.6 1 8.7 1-26.9 1 1.6 1 31.8 1-20.8 1 9.1 1 3.5 1 2.6 1-3.2 1 3.7 1 14.4 1-12.7 1 4.6 1-13.7 1-2.2 1 9.7 1-19.4 1-10.9 1 17.3 1-1 1 17.9 1-25.6 1-9.9 1 12.3 1 15.1 1-24.9 1 16.5 1-7.3 1 3.1 1-12.4 1 5.2 1-7.2 1 8.2 1-3.6 1 20.3 1-17.5 1 2.6 1-15.8 1 9.6 1 25.6 1-29.3 1-10.4 1 19.6 1-8 1-5.8 1 3.6 1-1.2 1 12.7 1-22.3 1 17 1 10.6 1-14.8 1 27.6 1-17.9 1-.5 1-4.3 1 12.5 1-20.9 1 22.2 1 11.8 1-12.1 1 5.5 1-17.3 1 16.1 1-10.2 1 .4 1 1.2 1 14.2 1-19.3 1-9.4 1 17.7 1 11.2 1-3.8 1-5.4 1 9.4 1-6.3 1-1.5 1-13.9 1-1.8 1 28.7 1-24.3 1 21.9 1-.2 1-27 1 3.7 1 9.8 1 7.8 1-20.3 1 3.5 1-8.4 1 1.6 1 14.1 1-2.7 1-12.3 1 15.4 1-5.1 1 .1 1-12.4 1 17.8 1-3.7 1-2.5 1-1.3 1 7.6 1 7.4 1-13.2 1 2.7 1-7.6 1 12.3 1-11 1-3.4 1 13.9 1-14.1 1-4.3 1 8.8 1 .2 1-5.3 1 27.8 1-8.6 1-16.6 1 26.8 1-19.7 1 5.8 1-2.7 1 9.5 1 4.3 1 4.3 1 1.2 1-25.7 1 9.9 1 3 1-3.7 1-13.4 1 9.8 1 1.7 1-10.6 1 8.8 1 17.5 1-22.7 1 4 1-1.8 1-.1 1-.6 1 4.4 1-13.9 1-2.9 1-1.8 1 6.3 1-3.2 1 10.2 1 1.2 1-16.9 1-5.4 1 16.5 1-3 1-10.2 1 27 1 2.6 1-27.1 1-1 1 6.6 1-7.2 1 2.7 1-10 1 12.2 1-5.3 1 13.9 1-11 1 9.4 1 5.9 1-9.4 1 1.3 1-10.9 1 4.7 1 16.7 1-3.7 1-12.7 1-4.1 1 2.3 1 11.8 1-25.8 1 17.8 1-14.9 1 26 1-27.1 1 22.3 1-11.4 1 2.9 1 15.5 1-15.7 1 6.5 1-2.8 1-14.6 1 10.6 1 9.6 1-2 1-2.1 1-10.7 1 20.3 1-17.7 1 23.6 1-14.7 1 5.8 1-22.9 1 12.9 1-10.3 1 10.8 1 13.3 1-6 1-5.6 1 10 1-18.3 1 11 1-6.4 1 17.8 1-12.3 1 23.6 1 3.1 1-29.8 1 15.2 1-15.7 1 27.8 1-22.2 1 15.3 1-.4 1-7.2 1-5.1 1 22.7 1-15.6 1 9.4 1 12.7 1-14 1-3 1-7.8 1 12.4 1-16.2 1-4.4 1 12.5 1-4.8 1-9.9 1 9.9 1 11.5 1-4.8 1 8.4 1-6.2 1-7.5 1-20.8 1 18.6 1 10.3 1-8 1 14.2 1-21.8 1 10.4 1 1.5 1 6 1-13.6 1 18.2 1-24.1 1-10.8 1 17.4 1 17.6 1-10.1 1 22.5 1-17.2 1 14.8 1-33.9 1 30.8 1-33.3 1 16.4 1-13.5 1 9.4 1-6.8 1-4.7 1 3 1 4.5 1-13 1 13.5 1-28.8 1 7.8 1-2.3 1 16.9 1 2.3 1-10.9 1-.9 1-1.6 1 15.3 1 7.1 1-16.1 1 4.1 1-3.1 1 7.7 1 6 1-22.4 1 10 1 11.8 1-22.8 1 21.9 1 2.8 1-22.8 1 4.9 1 21.7 1-28.4 1 5.2 1-1 1 12.1 1 9 1 1.5 1 1.8 1-19.5 1 22.8 1-13.3 1-6 1 25.4 1-12.7 1 2.1 1 4.6 1 12.1 1-11.4 1 6.5 1-21.7 1 4.7 1 25.1 1 .6 1-17 1-13.8 1-7.9 1 .4 1 6.1 1-13 1 16.2 1-4.2 1-3.7 1 .6 1 3.9 1 4.9 1 2.4 1 2.3 1-23.2 1 11.9 1 2.7 1 2 1 5.7 1-9.8 1 11.7 1 6.3 1-7 1 6.4 1-10.6 1-3 1-8.4 1 5.4 1 12.9 1-14.4 1-7.6 1 5.6 1 10.9 1-9.9 1 13.3 1-3.4 1 .7 1 11.5 1-26.8 1 6 1 1.6 1 3.4 1-13.7 1 6.9 1 21.7 1-13.3 1 11.4 1-13.9 1-7 1 11.3 1 7.1 1-13.1 1-13 1 8.5 1 1.2 1-1.4 1-4 1 16.7 1-18.6 1 19.3 1-16.2 1-3.3 1 17.4 1-5.1 1-8.8 1-2.9 1 4.9 1 1.5 1-2.5 1 6.9 1-17.9 1 12.5 1 4.8 1-10.1 1 19.1 1 4.7 1-15.5 1-13.4 1 8.2 1 14.1 1-21.4 1-.8 1 12.2 1 9.3 1 4.6 1 9.4 1-24.2 1 11.4 1-7 1 3.3 1 14.7 1-7.8 1-6.4 1 5.7 1 3.4 1 8.2 1-20.5 1 9.4 1-7.1 1 11.4 1-4.6 1 3.1 1-1.3 1 14.7 1-19.1 1-2 1 3.4 1 9.1 1-1.5 1-7.6 1-7.9 1 2.1 1-1.1 1 9.6 1-4.5 1 3.7 1-1.7 1-.6 1 10.2 1-17.9 1 10.4 1-3.9 1-10.4 1 19.3 1-14.6 1-11.9 1 20.6 1-2.6 1 2 1-8.6 1 3.5 1 3.7 1-12.7 1 13.1 1 3.1 1 9.8 1-10.3 1 7.8 1-17.4 1 5.7 1 13.2 1 5.3 1-6.6 1-26.8 1 .6 1 3.2 1 18.7 1-11.5 1 5.2 1 5.2 1 1.5 1-12 1 6 1 .8 1-9.2 1-.2 1 5.2 1 3.8 1 11 1-26.3 1 7.9 1-.7 1-10.3 1 8.8 1 1.9 1-9.5 1-1.3 1 15 1-11.2 1 4 1 2.2 1-4.7 1 4.2 1-.7 1 5.9 1 14.8 1-25 1 17.6 1-16.9 1-4.3 1 16.1 1 .2 1 3.8 1-7.7 1 8.4 1-8.8 1 8.7 1 8.9 1-8.7 1-9.5 1 24.2 1-17.8 1-4.9 1 13.4 1 3.8 1-7.1 1-12.6 1 10.3 1 1 1-3 1-20.4 1-2.6 1 11.9 1 1.1 1 6.8 1 7.2 1-25.2 1 3 1 8.5 1 14.1 1-15.4 1 12.4 1-26.4 1 22.4 1 4.3 1 5.1 1-18.8 1 19.2 1-19.7 1 17.7 1-.1 1-14.1 1-12.6 1 27.6 1-8 1-18.7 1 11.4 1-8.9 1 3 1-9.8 1-8.5 1 21.2 1-11.8 1 4.4 1 3.5 1-3.3 1-4.2 1 12.5 1 9 1 1.2 1-1.1 1 1.7 1 8 1-2.1 1-8.4 1 5.3 1-3.2 1-1 1-4.5 1-.8 1-7.5 1 7 1-4.1 1-1.8 1-5.5 1-1.2 1-7.2 1-2 1 6.9 1-3.9 1 4 1-8 1 1.1 1-1.7 1 7 1-2.3 1 8.8 1-5.5 1 4.7 1-8.7 1-5 1 10.1 1-3 1-2.5 1-5.3 1-2.2 1 1.6 1 1.1 1 3.6 1 1.7 1 2.7 1-3.5 1 5.5 1-2.2 1 0 1 5.7 1-1.5 1-2 1 1.1 1-4.4 1 8.8 1 4.8 1-5.8 1 3.1 1 2.7 1-9.2 1 1.2 1-1.3 1 2.1 1 5.4 1-5.6 1 6.4 1-7.9 1 7.9 1-7.8 1 1.6 1 1.2 1-.5 1-1.4 1 1.4 1-4 1 4.3 1-7.8 1 .9 1-2.5 1 9.5 1-8.6 1 6.6 1-3.4 1-1.8 1 .9 1 3.8 1-1.6 1 5.7 1-9.4 1 1.7 1-3.9 1 9.9 1-9.7 1 4.7 1 1.4 1-8.9 1 4.2 1 7 1-.8 1-4 1 6.8 1 5.8 1-5.6 1 1.5 1 2 1 1.6 1-6.5 1-2.9 1 3 1-1.7 1-3.8 1 5.1 1-3.4 1 6.7 1-6.9 1-7 1 2.8 1 6.5 1-4.4 1-1.1 1 1.3 1 3.4 1 11.4 1-2.4 1 4.4 1 12.3 1-6.9 1 13 1-2.1 1 6.9 1 6.2 1 .5 1 7.7 1 13.7 1-12.6 1 19.4 1-7.1 1 2.4 1-10.9 1 4.4 1-5 1 6.5 1-10.9 1 10.7 1-7.7 1 9.3 1-9.2 1-4.6 1 .7 1 4.1 1 11.7 1-11.9 1 1 1 2 1-1.3 1 4.4 1 7.1 1-5.8 1-6 1 11.7 1-3.1 1 3.1 1 .7 1 5.6 1-.1 1-4.6 1-2 1 4 1-6.8 1-7 1 2.2 1 6 1-6.9 1 .8 1 10.5 1 .5 1-2.2 1-9.7 1 4.7 1 5.4 1-1.9 1-7.4 1 .7 1-1.6 1 1.7 1 2.9 1 2.8 1-8.1 1 4 1-1.6 1 2.3 1-8.6 1 7.9 1-8.4 1 15.3 1-2.8 1 .4 1-4.6 1-1.2 1-1.2 1 4.6 1-9.7 1 7.1 1 3.4 1-2.3 1-2.8 1 .3 1 1.2 1 7.2 1-10 1-5 1 14.8 1-6.6 1 2.6 1-3.6 1-.3 1-8.2 1 9 1-6.4 1 9.8 1-10.4 1 16.5 1-4.5 1-5.2 1 8.5 1 .1 1 .1 1-6 1 13.4 1-10.4 1 7.3 1-13 1 10.4 1-.3 1-2.4 1 5.7 1-9.8 1 5.7 1-3 1 3.2 1-9.1 1 7.2 1 .3 1-3.7 1-1.2 1 1.1 1-1.2 1 .3 1 1.7 1-7.7 1 1.3 1 10.3 1-6.8 1-6.8 1 10.7 1-11.3 1 7.2 1 3.1 1-2.4 1 1.5 1-6.6 1-3.1 1 10.6 1 3.2 1 5.8 1-8.4 1-4.6 1 .6 1-4.3 1 8.1 1 2.1 1-1.9 1 8.4 1-.8 1-13 1-2.2 1 8.4 1-3.1 1-12.2 1 .1 1 2 1-2.3 1 4 1-4.3 1 10.8 1-.9 1-8.5 1 6.8 1-2 1 12.8 1-8.1 1 4.9 1 3.3 1-9.2 1 5.9 1 .9 1 .7 1-12.1 1 5 1-6.7 1 12.5 1-11.4 1 5.5 1-8.4 1 4.2 1 .9 1 6.2 1 3.5 1 1.1 1 .1 1-8.4 1-2.1 1 14.1 1-11 1 4.5 1-1.7 1 1.1 1 4.4 1-8.3 1 5.9 1 1 1 5.3 1-.1 1-1.5 1-2.8 1 7 1-2.8 1-10.7 1 7.8 1-.6 1-7.8 1 4.8 1-2.1 1-2.8 1 5.1 1-3.3 1-5.1 1 5.8 1-8.9 1 13 1-8 1 2.3 1 2.6 1 1 1-2.5 1 2.5 1 2.2 1 3.4 1-11.6 1 5 1-9 1 1.5 1 1.5 1 1.8 1-2.4 1 1.8 1 6.1 1-7.8 1 9 1-7.3 1 10.1 1-8 1 1.6 1-8.3 1 9.4 1-2.8 1-1.6 1-1.8 1 4.1 1-1.6 1 .4 1-3.7 1 0 1 1.9 1-.5 1-.2 1-3.8 1 .7 1 6.3 1-3.5 1 .5 1-5.4 1 9 1-7.7 1 3.6 1-3.4 1 4.5 1-14.4 1-.5 1 6.5 1-6.5 1 4.3 1 .3 1 2.2 1 4.5 1-8 1 10.9 1 4.1 1 3.6 1-12.1 1 5 1 12.5 1-13.6 1 8.9 1-1.4 1 .5 1-10 1-1.2 1 2.4 1 5.7 1 0 1-10 1 4.9 1 .1 1-2.9 1-1.7 1-1.7 1 3.1 1 1.9 1 8.3 1-1 1-4.8 1 1.8 1-8 1-2.2 1 10.6 1 .6 1-7.7 1 6.6 1-.2 1 .5 1-10.1 1 8 1 2.7 1-9.1 1 .2 1 4.6 1 6.1 1-6.2 1-2.5 1-1 1-3.7 1 .5 1 6.1 1-4.5 1 7 1-10.6 1 2.5 1 5.6 1-.1 1-.7 1-5.8 1 2.2 1 11.8 1-6 1-.7 1 6 1-.4 1-2.9 1 7.5 1-16.3 1 10.1 1-8.3 1 7.8 1-9.4 1 9.5 1-7.1 1 8.5 1-7.4 1 7.2 1-9.1 1 .2 1 6.6 1-10.2 1 4.5 1 14.2 1-1.9 1-8.6 1 7.2 1-5 1-.6 1-5.9 1 7.3 1-8 1 9.3 1-13.1 1 12.4 1-10.8 1 .6 1 .9 1 6.8 1-1 1-5.1 1 5.9 1 6.9 1-7.9 1 2 1 1.1 1-1.4 1-11.7 1 13.9 1-10.1 1 1 1 7.3 1-17.6 1 10.2 1-2.9 1 6.2 1-4.8 1 3.7 1-2.6 1-11.6 1 5.2 1-3.7 1 3.4 1-3.7 1-3.5 1 6.3 1-.5 1 4 1 3.3 1-8.9 1-.8 1 11.5 1-1.6 1-15.2 1 9.9 1-8.5 1 1.8 1 2.4 1 .6 1 1.2 1 3.5 1 3.9 1 5.3 1-5.5 1-12.5 1 10.8 1-8.9 1-10.6 1 2.9 1 7.9 1 1.1 1 0 1-12.9 1 7.1 1 12 1-20.8 1 1.4 1 5.5 1 .1 1-5.6 1 4 1-1.9 1-4.9 1 4.6 1-2.1 1 3.8 1 1.8 1-10.2 1 4.6 1-6.4 1 4 1 2.8 1 3.3 1-9.9 1 8.8 1-5.1 1-1.5 1-.3 1-2.9 1 5.8 1-11.2 1 11 1-7.2 1 13.3 1-14.1 1 5.3 1 2.4 1 .5 1 4.7 1 2.5 1-13.3 1 1.6 1 16.7 1-7.8 1-2.8 1-3.6 1 6 1 .1 1-16.6 1 6 1 6.2 1-5.2 1 18.9 1 3.6 1-12.3 1 15.5 1-13.5 1 15.1 1-7.6 1-7.9 1 6.3 1-6.9 1 13.5 1-12.9 1 7.8 1-12.1 1 0 1 5 1-3.2 1 9.4 1-13.5 1 1.8 1-1.7 1 15 1-11.7 1-10.9 1 .8 1 9.2 1 4.4 1-11.4 1-.1 1 1.8 1 8.3 1 5.6 1-12 1-1 1 18.9 1 4.4 1-10.9 1-10.6 1 .5 1 10.8 1-21.1 1 .2 1 22.5 1-19.9 1 4.3 1 22.3 1-24.7 1 19.8 1-14.3 1-6.7 1 12.7 1-9.4 1-12.6 1-5 1-7.6 1-5.9 1 8.9 1 3.6 1 7.6 1 21.8 1 1.6 1 3.6 1-1.8 1-3.1 1-12.1 1-8.2 1 .4 1 11.4 1-14.2 1 7.7 1 12.2 1-15 1 20 1-25.4 1 19.5 1-22.7 1 17.4 1 10.7 1-15.6 1-8.8 1 1.2 1 14.5 1 4.1 1-5.8 1-10 1-5.3 1 3.7 1-5.9 1-7.8 1 22.9 1 5.8 1 3.4 1 2.9 1-24.5 1-2.4 1 11.6 1-3.1 1-10.6 1 11.8 1-5.5 1 8 1-2.8 1-11.2 1 7 1 1.7 1 6.4 1-5.9 1-3.8 1 6.5 1-3.8 1 4.9 1 5.4 1 16.2 1-14.7 1-3 1-6.7 1-10 1 19.4 1 4 1-.6 1 7.5 1-3.1 1 2.7 1-10 1 17.9 1-8.9 1-11.3 1 8.7 1 11.8 1-16 1 10.7 1-15.7 1-8 1 20.6 1-10.3 1 2.8 1-3.1 1 6.4 1-6.9 1 7.9 1-15.5 1 12.7 1-5.1 1 4.5 1 9.3 1-17.7 1 .6 1-4.7 1 6.7 1-11.6 1-3.4 1-6.9 1 21.8 1-11.5 1 3 1-8.3 1 21.5 1-.9 1-15 1 5.6 1-6.2 1 7.6 1-16.9 1 13.8 1 .6 1 5.3 1-11 1 2.6 1-1.9 1 12.3 1-4.5 1 4.4 1-2.7 1-1.3 1-11.1 1 6 1 9.1 1-2.8 1-8 1 .8 1 2.5 1 1.3 1 1.6 1-1.9 1 2.4 1 2.4 1-1.2 1-9.6 1 16.4 1-9.8 1-2.4 1 10.8 1 1.1 1-4.7 1 5 1-8.9 1 .2 1-7.2 1 9.8 1-8 1 9.4 1-11.6 1 6.4 1-5.7 1 9.6 1-11.1 1 10 1-13 1 4.2 1 2.3 1 9.5 1-17.4 1 2.6 1 8.8 1-.6 1 .1 1 2.7 1-5.6 1 6.7 1 3 1-13 1 8.9 1-11.9 1-4.8 1 6.3 1-1.1 1 .3 1-11.2 1 8.4 1-2 1 9.3 1-5 1-3.9 1-3.8 1 6.7 1 12.9 1-18 1 6.1 1 15.3 1-3.5 1-4.9 1 4.3 1 1.4 1-.5 1-.1 1 4.8 1-2 1-9.6 1 11.1 1-1.1 1 10.8 1-19 1 7.1 1 .7 1 15.1 1-2.8 1-10.2 1 6.9 1-14.5 1 9.6 1 15.2 1-8.5 1-6.2 1-1.3 1 4.3 1 3.9 1 5.1 1-3.8 1-5.8 1 10.2 1 2 1-6.3 1 15 1-4 1 12.1 1-9 1-7.4 1-3.6 1 17 1-3.1 1-5 1-.9 1-13.2 1 16.9 1-10 1 3 1 8.6 1-.2 1-14.6 1 8.7 1-8 1 7 1-6.7 1 .8 1-13.3 1 3.4 1-2.2 1 10.5 1-4.8 1 5.1 1 13.9 1-5.7 1 5.6 1-14.9 1-2.3 1 4.5 1 6.1 1-8.8 1 14.9 1-16.1 1 16 1-16.8 1 2.8 1 8.5 1-3.2 1-4.7 1-1.4 1 3.6 1-7.4 1 12.6 1-4.4 1 4.2 1-8.9 1 21.8 1-32.3 1-6.9 1-10.6 1-5.2 1 3.8 1 12.7 1 8.5 1 24.6 1-18.1 1-4.6 1 20.5 1-13.1 1 18 1-18 1 10.3 1-7.8 1-2.2 1 5.8 1 11.3 1-18.2 1-13.6 1-7.9 1 27.7 1-16.6 1-2.3 1 14.9 1 2.5 1 3.6 1-8.5 1-7.9 1 15.6 1-5.3 1 1.4 1-12.3 1 18.6 1-7.5 1 2.6 1 2.6 1-9.3 1-.1 1 4.6 1-10.1 1 14.8 1 13.9 1-1.8 1-11.9 1-9.1 1 17.6 1-6.9 1 1.4 1 12.1 1-12.1 1 10.4 1-7.9 1 4.7 1-11.3 1 5.4 1 3.3 1-3.9 1 1.9 1-3 1 17 1-28.7 1 20.9 1-5.9 1-10.4 1 4.3 1-7.2 1 17.5 1 1.2 1-2.6 1 10.2 1-27.6 1 2.5 1 4.9 1 11.8 1-4.5 1-10.6 1 7.1 1 6.5 1-15.8 1 16 1 1.9 1 2.8 1-.2 1-11.1 1-10.8 1-.4 1 2.4 1 6.4 1 9.9 1-7.2 1 3.5 1 9.8 1-23.7 1 9.3 1 6.3 1 5.7 1 1.6 1-7.9 1-16 1 12.3 1-8.5 1 4.3 1-8.2 1 1.1 1 5.4 1-11.8 1 5.3 1-2 1 3.8 1-6.5 1-3.4 1-2.8 1 14.8 1 2.5 1-8.9 1-1.4 1 20.6 1-8.6 1 3.8 1-5.6 1 4.9 1-3.3 1-7.5 1 10.2 1-12.5 1 8.1 1-5.7 1 .8 1 4 1-5.1 1-7.8 1 23.3 1-11.3 1-3.6 1-5.6 1 13.8 1-3 1-5.1 1 20.3 1-3.6 1-13.9 1 18.7 1-12 1 9.6 1-5.8 1 5.4 1 .4 1 7.1 1-12.1 1-3.7 1-.7 1-2 1 16.1 1-5.1 1 5 1-4.2 1-2 1 6.6 1-10 1 8.4 1 3.9 1-8.8 1-1.3 1-3.6 1 7.4 1 4.2 1-.9 1-8.4 1 2.4 1-6.3 1 5 1 1 1-4 1 .3 1 1.8 1 2.2 1 1 1-5.5 1-2.5 1 1.2 1-5.6 1 5.8 1 7.2 1-9.8 1-10.6 1 2.7 1-2.7 1 9.1 1 1.1 1 5.5 1-12.2 1-1.7 1 6.4 1-9.2 1 6.6 1 7.5 1-1.6 1 2.8 1-10.8 1-5.8 1 8.7 1 9.1 1-10.3 1-1.9 1-2.7 1 18.5 1-20.5 1 5.1 1-3.3 1 9 1-10.9 1 2.7 1 5.8 1-11.3 1 16.2 1 5.4 1-8.2 1-12.6 1 9.4 1 6.6 1 8 1 .2 1-2.7 1-6.9 1-1.2 1-1 1-4.3 1 1 1-.6 1 7 1 9 1-17.1 1 23.3 1-12.1 1 2.1 1-10.6 1-.8 1 10.5 1-9 1-1.5 1 7.8 1-2.2 1 11.1 1-6.6 1 1.9 1-4.9 1-3.4 1 8.3 1-7.6 1 5.5 1-20.2 1 13.8 1 4.8 1-6.7 1-12.1 1 13.2 1-1.4 1 9.4 1 5.5 1-2.1 1-5.1 1-3.9 1 .4 1 3.8 1-5.8 1 1.3 1-.3 1-4.9 1 2.8 1-5 1-4.3 1 4.2 1-2 1-3.1 1 12.6 1 6.4 1-.3 1 3.9 1-15.3 1 11.6 1-12.3 1 5.8 1 9.2 1-17.3 1 12 1 2.6 1 6 1-11.9 1 9.2 1-17.4 1 14.2 1-11.6 1 .6 1 11.5 1-9.3 1-1.9 1 16.4 1-7.1 1-4.5 1-4.8 1 3.1 1-6.8 1 4.2 1-.5 1 1 1-3.1 1-1.4 1 6.3 1-8.4 1 9.8 1-.1 1-2.2 1-14.9 1 16.5 1-3.8 1-.6 1-9.2 1-8.8 1-3.1 1-4.4 1 5 1 5.2 1 5.4 1 12.6 1 2.5 1-15.3 1-8.9 1 15.6 1 6.5 1-4 1-4.5 1-5 1 9.1 1 9.3 1-5.6 1-9.1 1-3.5 1 13 1-10.8 1 6.2 1 1.1 1 2.5 1 4.3 1-.9 1-9.7 1-5.5 1 17.3 1-18.3 1 1.8 1 18.3 1-18.5 1 18.9 1-15.4 1 10.1 1 3.3 1 3.2 1-10.2 1-9.5 1 3.8 1-14.9 1 2.1 1 22.6 1-15.4 1 14 1 .1 1-15.2 1 1.8 1-.5 1 16.4 1-4 1 9.3 1-4.4 1 11 1-10.4 1 12.4 1-5.7 1 8 1-5.5 1-24.6 1 23.1 1-10.9 1-14.2 1 9.8 1-4.3 1 15.8 1-6.2 1-3.5 1 11.7 1-18.8 1-1.5 1 13.7 1-15.3 1 19.4 1-14.5 1-3.4 1 11.8 1 8.7 1-9.8 1 4.2 1-9.8 1 9.5 1-2.2 1-5.8 1 2.9 1 9.9 1-5.1 1-11.4 1 26.7 1-6.2 1-19.9 1 19 1-18.5 1 10.2 1-5.2 1-4.8 1 8.8 1-3.4 1 .3 1-12.1 1 19.2 1-4.4 1 12.4 1-3.1 1 .7 1-15.1 1 21.1 1-12.7 1-1.5 1-4.3 1 1.2 1 7.9 1-23 1 15.1 1-11.4 1 3.5 1 9.4 1 1.6 1-14.1 1 5.7 1 9.9 1-10.1 1-11.3 1 7.7 1-1 1 15.4 1-16.7 1-8.3 1 4.8 1 14.5 1-4.3 1-12.8 1-1.3 1 15.2 1-12.8 1 8.5 1 10.2 1-2.8 1-16.5 1 10.2 1-13.8 1 13.2 1-7.3 1-6.7 1 23.2 1-10.7 1 5.1 1-8.7 1 16.4 1-3.6 1-14.2 1 15.2 1-5.4 1 7.3 1-27.3 1 12.6 1-11.4 1 7.2 1-1.7 1 4.9 1-15.2 1 10.2 1-8.4 1 19.3 1-6 1 2.8 1 2.9 1-1.9 1-10.8 1 5.5 1-13.6 1 9.4 1 .6 1 1 1 4.5 1-2.6 1 13.4 1-5.8 1-6.9 1 .5 1-2.6 1 11.7 1-15.3 1 14.5 1-13.4 1 10 1-10.7 1 15.4 1-.8 1-7.3 1-6.7 1 1.2 1 6 1 12.4 1-15.9 1 2.2 1-8.2 1 11.2 1-12 1 17 1-16.9 1 4.8 1 15.5 1-10.9 1-1.4 1-1.8 1 4.3 1-10.8 1 1.1 1 20.5 1-11.3 1 2.4 1-.4 1-.9 1 11.3 1-8.6 1-5.2 1 1.2 1 10.5 1 4.8 1-13.8 1 1.2 1 16.6 1-2.2 1 6.6 1-14.9 1 4.5 1-1.4 1 8.2 1-15.5 1 14.1 1-3.9 1 5.2 1 .4 1 .8 1-22.6 1 18.3 1 7.7 1-13.5 1 10.4 1-3.5 1-1.7 1-11.4 1 18.9 1-20.1 1 12.2 1 1.5 1-4.4 1-3.9 1 11.3 1-5 1-2.6 1 5.5 1-15.5 1 5.9 1-4.9 1 2.1 1 21.8 1-4.1 1 8.7 1-5.4 1-19.2 1 11.5 1-1.2 1-3.7 1 19.7 1-17.8 1 9.8 1-11.3 1-1.6 1-4.8 1 21.1 1-14.7 1-10.5 1 10.5 1-12.3 1 19.7 1-23.5 1 .8 1 7.4 1-7.4 1 22.5 1-16.5 1-.8 1-1 1 0 1-.3 1 14 1-11.6 1-3.5 1 15.2 1 1.5 1-14.9 1-2.6 1 18.3 1-10.2 1-2.7 1-1 1-5.6 1 15.9 1-16.5 1 4 1-3.4 1 7.8 1-1.2 1 11 1-10.9 1 7.5 1 2.1 1-3.3 1-5.2 1 1.5 1-3.6 1 4.7 1 0 1 7.9 1-6.4 1-.8 1-4.3 1 5 1-5.4 1-5 1 19.9 1-2.3 1-20.2 1 19.1 1-22.2 1 2.8 1 10.7 1-6.1 1 4.8 1-7.7 1 18.4 1-9 1 .6 1 17.7 1-12.8 1 1.9 1 .5 1-3.4 1-8.6 1 15.4 1-11.1 1 10.2 1 2.2 1-21.4 1 23.1 1-26.5 1 8 1 .7 1-.2 1 1.3 1 11 1-9 1-2.8 1 1.7 1 1.3 1-2.3 1 2.4 1 1.4 1 8.9 1-10.5 1-3.1 1 16.2 1-17 1 12.2 1-8.5 1-2.1 1 11.9 1 4.2 1-14.5 1 2.2 1-9.1 1 14.1 1-3.5 1 12.8 1-29.3 1 19.2 1 0 1-.5 1-10.6 1 5 1-6.1 1 2.3 1 15.7 1-22.4 1 19.7 1-18.8 1 7.2 1 5.3 1 .5 1-4.5 1-5.2 1-8.5 1 13.2 1 .7 1 1.9 1-6 1 4.3 1 7.1 1-9.2 1-9.9 1 16.1 1-10.2 1 1.8 1 4.2 1 3.6 1-5.1 1 .8 1 5.7 1-12.1 1 10 1 5.5 1 5.9 1-17.1 1-.1 1 1.1 1 2.7 1 4.7 1-3.5 1-11 1-1.6 1 15.3 1 5.1 1 6.8 1-9.1 1-2.6 1-12.4 1-2.8 1 10.8 1 16.6 1-8.8 1-11 1 3.1 1 .6 1-4.6 1 15.4 1-24 1 14.2 1-11.2 1 3.5 1 1.8 1-7.5 1 .5 1-7.7 1 5 1 17.9 1-10.4 1 2.4 1-8.1 1 13.3 1-9.8 1 9.1 1-5.7 1-3.3 1 10.5 1 3.3 1-14.9 1 14.6 1-7.6 1 5.9 1 2.4 1-10.2 1 7.7 1-.2 1 7.9 1-24.7 1 24.9 1-13.8 1-12.3 1 12.5 1-6.7 1 19.2 1-18.5 1-5.3 1 1.1 1-1.3 1 10.2 1-1.6 1-2.1 1-10 1 17.1 1-12.1 1-2.7 1 12.5 1-5.2 1-14.6 1 21.7 1-16.5 1 3.5 1 8.5 1 8 1 4.8 1-8.2 1 12 1-2 1-5.4 1-13.2 1 21.2 1-16.9 1 2.5 1 5.3 1 2.6 1-13.6 1 15.5 1-5.7 1 1.2 1 13.1 1 5 1-14.1 1-8.8 1 1.6 1 15.6 1-8.9 1-7.5 1 24.3 1-5.5 1-11.7 1-.1 1-7.7 1-.3 1 14.4 1-8.2 1 17.8 1-16 1 4.2 1 6.3 1-16.9 1 15.7 1-17.3 1 28 1-25.8 1 3.9 1 21.9 1-18.5 1 9.8 1-6.5 1-14.2 1 15.6 1-8.7 1 22.5 1-23.6 1 23.3 1-17.4 1 5.3 1 10.3 1-22.4 1-1.7 1 8.8 1-16 1 14.6 1 3.6 1-7.4 1-13.5 1 2.1 1 4 1 4.2 1-10.6 1 9.7 1 .4 1-4.7 1 11.1 1-13.3 1 4.7 1-12 1 11.8 1-4.1 1 .4 1 .8 1-17.8 1 25.1 1-12.7 1 2.7 1-.9 1 16.4 1-16.9 1-5.7 1 9.5 1-3.7 1 1.4 1 5.3 1 8.3 1-12.7 1 17.2 1-2.2 1 3.5 1 7.5 1-8.8 1-11.1 1 19.8 1-3.6 1-3.9 1-7.4 1 21.8 1-15.6 1-5.3 1 24.5 1-26.2 1 16.5 1 .1 1-4.4 1-3.5 1 20.3 1-2.1 1 4.2 1-16 1-3.1 1-2.4 1-9.3 1 26.3 1-.8 1-1.8 1-16.6 1 6.6 1 7.5 1 4.1 1-10.9 1 12.9 1 8.5 1-7.7 1 8.9 1 2.7 1-5.9 1-11.1 1-5 1-.3 1-5.5 1 5.3 1-3.9 1-9.1 1 7.1 1-6.9 1 4.3 1-9.4 1 17.1 1-16.7 1 18.3 1-24.7 1 11.6 1-12 1-16 1 15.3 1 27.6 1 12.1 1 15.2 1 3.6 1-8.9 1-18.1 1-5.1 1-10.5 1-12.4 1-2.9 1 20.8 1-3.5 1-21.5 1-11.7 1 26.3 1-8.1 1-7.9 1 12.8 1 3.2 1-13.9 1 15.5 1-2.6 1 6.1 1-14.3 1 18.6 1-11.9 1 1.7 1 3 1-1.6 1-11.7 1 23.8 1-9.9 1 4.1 1-3.5 1 1.6 1-7.7 1-15.4 1 3.3 1 13.2 1 12.8 1-31.1 1 18.2 1 6.1 1-15.9 1 7.2 1-2.8 1 13.8 1-7.6 1-21.5 1 16.8 1-12.1 1 12.6 1-5.8 1-3.1 1 24.1 1-5.3 1 .9 1 1.1 1 7.7 1-9 1-21 1 22.5 1-9.7 1-18.3 1 12.6 1-8.1 1 .4 1 17.4 1-13.9 1 7.2 1-9.7 1 17.9 1-20.3 1 13.1 1 11.7 1-8.5 1-5.3 1-8.1 1 20.9 1-8.2 1-6.1 1-1.2 1 7.7 1-4.9 1-21.5 1 12.3 1 7.7 1 2.8 1-30.8 1 17.5 1 9.1 1-11.5 1 8.8 1-15.8 1 5.2 1-3.2 1-1.2 1 8 1-7.6 1 9.9 1-2.9 1-14.8 1 17.4 1-22.8 1 13.2 1-.1 1 .9 1 9 1 6.4 1-2.3 1-4.9 1-12.5 1 16.3 1-12.3 1 .6 1 6.8 1-6.1 1 1.3 1 9 1-7.7 1 11.9 1-15.3 1 15.8 1 1.2 1-5 1-11.9 1 11 1-13 1 20.5 1 2 1-10.4 1 14.8 1-1.7 1-1.8 1-2.6 1-.3 1 12.6 1-13.2 1 1.4 1-5.9 1-15.8 1 15.8 1-3.7 1 .2 1-.9 1-7.4 1 3.9 1-1.8 1 10 1-6.3 1 3.8 1-3.2 1 16.4 1-16.4 1 1.9 1 1.5 1-7.4 1 9.5 1 9.2 1 7.4 1-11 1-4.1 1 .8 1-8.2 1-8.9 1 5.3 1 6.2 1 6.8 1-21.6 1 17.3 1 .4 1 .7 1-9.9 1 5.2 1-10.6 1 7.2 1-6 1 19.2 1 1.2 1-9.2 1-12.3 1 15.5 1 3.9 1-12.6 1 6.6 1-.5 1 12.2 1-2.8 1-8.6 1-6.5 1 13 1-.5 1 5.8 1-9.7 1 0 1 7.4 1-13.3 1 10.5 1-.9 1-16.9 1 26.5 1-29 1 1.3 1 4.1 1 5.9 1 10.1 1 10.1 1-8.3 1-7.7 1 15.9 1-19.7 1 27.6 1-13.1 1-14.3 1 15.9 1 3 1-17.1 1 8.2 1-3.7 1 2.8 1-8.6 1 11.5 1-12 1-10.6 1 3.4 1 20.3 1 4.6 1-11.1 1 .2 1-10 1-11 1 1 1 21.4 1-25.6 1 15.4 1 13.4 1-13.4 1-17.5 1 8.7 1 8.2 1-14.4 1 6.9 1 13.7 1-16.8 1 8.9 1 4 1 1 1-1.6 1 8.8 1 1.9 1 3.3 1 2.9 1-6.2 1-7.6 1 1.5 1 14.9 1-13 1-9 1 7.1 1-6.3 1 1.3 1-12.4 1 10.3 1 18.1 1-9.5 1-14 1 8.3 1 12.6 1-4 1 3.1 1-14.3 1 16.3 1-.9 1 1.9 1 17.5 1-19.6 1-1.5 1 4.4 1-10.8 1 5.6 1-4.9 1 10.4 1-4.1 1-8.2 1 8.1 1-4.7 1-3.4 1 10.6 1 14.7 1-28.1 1 11.2 1 11.8 1-4.4 1 3 1-.3 1-9.7 1 9.7 1-2.1 1-15.2 1-7.2 1 23 1-.1 1-8 1-4.1 1-5.9 1 15.9 1-7.5 1-5.3 1 4.2 1 5.7 1-7.7 1 6.3 1-14.6 1 21.7 1-4.1 1-3.6 1-.6 1-8.3 1 10.6 1-8.3 1 7 1 11 1-7.2 1-11.5 1-6.4 1 10.5 1-5.7 1 3.6 1-1.8 1-8.9 1 16.2 1-.7 1-4.4 1 5.7 1-4.6 1-5.1 1-10.2 1 21.1 1 8.1 1-4.2 1 2.1 1-1.7 1-4.6 1-8.9 1 24.3 1-11.4 1-3.6 1 .7 1 8.4 1-29.8 1 20.5 1-19 1 6.2 1 7.9 1-3.7 1 8.6 1-3.9 1 17.8 1-20.8 1-6.8 1 15.4 1-2.3 1-14.6 1 19.2 1-8.7 1 9.3 1-2.9 1 8.8 1-15 1-8.6 1 2.8 1 6.7 1-6.2 1 3.9 1 8 1-3.3 1-5.8 1-10.6 1-.5 1 13.9 1 8.2 1-2.6 1-19.7 1 10.1 1 2.3 1 7.3 1-7.8 1-10 1 .9 1 8 1 2.3 1-2.2 1 18.4 1 1.9 1-11.6 1-.2 1-10.9 1 25.7 1-2.5 1 1.6 1-10.1 1 .4 1-2.3 1 4 1 5.7 1 2.6 1-11 1-5.8 1 16.7 1-31 1 20.1 1-10.5 1 4.6 1-9.8 1 2.4 1 6.9 1-4.2 1 9 1-21.7 1 11.6 1 6 1 3.9 1 2.5 1 4.1 1 5.5 1-2.5 1-12.1 1 17.1 1-.4 1-17.3 1 10.7 1-1.1 1-14.8 1 10.6 1-9.8 1-4.5 1 17.8 1 2.2 1 4.9 1-17.5 1 2.7 1-.6 1 3.3 1-12.7 1-3.3 1 25.6 1-10 1-7.5 1 2.9 1 9 1-11.1 1 6.5 1 0 1 5 1 2 1-14.5 1 7.8 1-1 1-2.2 1-4.9 1-11.3 1 15.5 1-3.4 1 7.4 1-.3 1 1.8 1-1 1-3.1 1-3 1 11.9 1-6.6 1-2.5 1 6.8 1 .5 1-9.3 1 10.1 1-7.4 1 6.5 1-10.9 1 1.4 1 22.8 1-5.7 1-4.6 1 .8 1 15.5 1-21.2 1 9.3 1-5.2 1-9.3 1 19.5 1-14.3 1 9.3 1-7.5 1 8.5 1 2.5 1-16.6 1 3.8 1 16.9 1-9.4 1-10.9 1 14.7 1-4.9 1 1.5 1-13.6 1 13.8 1-5.7 1 3 1-1.7 1-4.4 1-.2 1 13.1 1-2.5 1-15.6 1 7.9 1 16.1 1-14.1 1 10.7 1 3.7 1-13.6 1-.7 1 3.1 1 5.6 1 4.6 1-2.7 1 0 1-15.8 1 6.5 1 21.7 1-18.1 1 .3 1 8.5 1 6.7 1-.4 1-23.5 1 2.7 1 3.6 1 6.2 1-3 1-8.9 1 12.1 1 9.7 1-5.4 1 4.5 1-9.5 1-3.1 1 .1 1 14 1-16.3 1-3.8 1 14.3 1-5.8 1-7.8 1 12.2 1-6.7 1-12.3 1 8.4 1 8.5 1-.4 1-5 1-11.1 1-2 1-2.6 1 8.5 1 2.4 1-9.3 1 7.4 1 12.2 1-11.2 1 3.6 1-5.3 1 1.4 1 13.4 1-17.1 1-6.6 1 7.1 1-.7 1 18.2 1-7.7 1 6.4 1-5.4 1-6.2 1-.1 1 8.7 1-9 1-1.3 1 3 1-7.6 1 8.9 1-5.1 1 12.7 1-6.8 1 1.1 1-8.4 1-.2 1 4.6 1-.1 1-3.9 1-.4 1 8.4 1-2 1-7.4 1 9.5 1 .3 1 .7 1-3.1 1 1.7 1 3.8 1-1.9 1-7.9 1 11.7 1-6.8 1-4.4 1 11.7 1-11 1 1.3 1-8.5 1 10.2 1-15.9 1-2.8 1 3.8 1 4.7 1-2.8 1 8.8 1-2.1 1 .1 1 .7 1 5.8 1-.7 1-12.1 1 7.5 1-3.7 1 .3 1 .7 1 2.8 1-10.2 1 12.9 1 2.3 1-4.1 1-5.5 1 14.9 1-.8 1-.2 1-13 1 20.1 1-13.7 1-4.8 1 3.5 1 8.1 1-16.7 1 3.3 1 7.5 1-5.1 1-6.6 1 4.7 1 10.1 1 7.3 1-7.9 1-19.8 1 7.2 1-10.4 1 7.5 1 2.3 1-7 1 3.7 1-6.9 1-1.9 1 .1 1-4.1 1-2.8 1 15.3 1-2.3 1-4.3 1-2.7 1 6.3 1 10.6 1-7.4 1 7.8 1-21.2 1 8.1 1-5.4 1-3.8 1 16.3 1-3.4 1 3 1 .7 1-16.8 1 4 1 1.3 1-14.5 1 6.8 1 9.4 1 4.2 1-2.8 1-2.6 1-10.2 1 1.4 1 9.6 1-1.7 1 4.5 1 5.1 1 4.8 1-12.4 1 4.1 1-1.9 1-.5 1 .6 1-13.2 1 1.8 1-.7 1-2.4 1 2.6 1-7 1 1.9 1 5.2 1 3.9 1-3.2 1 3.5 1-8.1 1-2.1 1 10.1 1 5.6 1-4 1-12.9 1-4.2 1 20.2 1-8.1 1-.7 1-3.5 1-14.8 1 22.3 1-8.7 1 6.9 1 4 1-10.1 1-5.1 1 15.9 1 .4 1-13.3 1 4.9 1-6.9 1 19.9 1 4.2 1-6.2 1 4.7 1-14.1 1-3.1 1 9.6 1-5.6 1 10.2 1 1.2 1-7.4 1 5.5 1 5.2 1-15.5 1 0 1 3 1 3.4 1-3.6 1 3.9 1-7.4 1 10.4 1-7.1 1 10.3 1-18.9 1-5.3 1 8.8 1-2.8 1 7.6 1-3.9 1 20.4 1-18.1 1 6.5 1 6.7 1-9.6 1 17.9 1 6.9 1-21.1 1 1.1 1 11.3 1 0 1-1 1-7.4 1-2.3 1 2.4 1-.4 1 4.7 1-6 1 8.4 1-4.9 1-4.3 1 6 1 2.8 1-2.1 1-7 1 .8 1-.9 1 5.2 1-3.3 1 1.2 1-3.9 1 3.7 1-8.4 1-4 1-5.2 1 9.9 1 2.9 1 2.7 1 2.8 1 3 1-14.7 1-4.4 1 4 1 9.9 1 1 1 .8 1-3.8 1-8.1 1 29.8 1-18.5 1 2 1 15 1-8.6 1 5.7 1-9 1 4.4 1 1.8 1-13.6 1 15.7 1-15.4 1-2.3 1 13.4 1 .1 1-12.3 1 9.2 1-25.2 1-1.4 1 27.4 1-20.6 1 7.2 1 6.5 1-2.5 1-1.6 1 6.5 1-14.8 1 2.7 1 7.6 1 4.3 1-6.5 1-12.8 1 9.8 1-5.8 1 17.7 1-8.1 1-.4 1-2.9 1-1.1 1-13.8 1 8.7 1 .5 1 5.9 1-3.9 1-6.7 1 12.6 1-8.5 1 10.5 1 3.7 1 1.5 1-6.9 1 8.9 1 3.6 1-18.5 1 5.7 1 .9 1 5 1-2.3 1-2.5 1 12.3 1-9 1 1 1-9.9 1-2.9 1-5.3 1-5.1 1 23.5 1-.8 1 2.5 1 1.9 1-13.5 1-.2 1-11.2 1 11.7 1-20.4 1-5.7 1-4.9 1-3.9 1 4.8 1 5.5 1 5.2 1 14.2 1-5.9 1-8.8 1 2 1 13.4 1-15.1 1 9.8 1 13.6 1-2.6 1-10.2 1 5 1 5.7 1 3.2 1-5.7 1-8.1 1 2.6 1 7.6 1-4.5 1-15.9 1 1 1 5.6 1 10.4 1-1.5 1-2.5 1 4.4 1-10.6 1-3 1 5.8 1 1.5 1-17.9 1 22.1 1-5.1 1-14.8 1 3.7 1 2.7 1-9.7 1 3.4 1 3.1 1-7.1 1-2.2 1 3.7 1 8.4 1-7.3 1 3.3 1-6.4 1 .3 1 12.2 1-7.2 1-6.5 1 17 1-18.9 1 13.9 1 4.7 1 3.4 1-11.8 1 2.7 1-8.9 1 5.7 1 6.5 1 3.3 1-3.5 1-2.2 1 4.8"/>
</g>
<rect x="69.2" y="28.1" width="607.10" height="214.90" fill="none" stroke="#555555" stroke-width="1.5"/>
<path d="M129.88 243.0v-6.8M129.88 28.1v6.8M190.55 243.0v-12.7M190.55 28.1v12.7M251.23 243.0v-6.8M251.23 28.1v6.8M311.90 243.0v-12.7M311.90 28.1v12.7M372.57 243.0v-6.8M372.57 28.1v6.8M433.25 243.0v-12.7M433.25 28.1v12.7M493.93 243.0v-6.8M493.93 28.1v6.8M554.60 243.0v-12.7M554.60 28.1v12.7M615.28 243.0v-6.8M615.28 28.1v6.8M69.2 225.30h6.8M676.3 225.30h-6.8M69.2 207.60h12.7M676.3 207.60h-12.7M69.2 189.90h6.8M676.3 189.90h-6.8M69.2 172.20h12.7M676.3 172.20h-12.7M69.2 154.50h6.8M676.3 154.50h-6.8M69.2 136.80h12.7M676.3 136.80h-12.7M69.2 119.10h6.8M676.3 119.10h-6.8M69.2 101.40h12.7M676.3 101.40h-12.7M69.2 83.70h6.8M676.3 83.70h-6.8M69.2 66.00h12.7M676.3 66.00h-12.7M69.2 48.30h6.8M676.3 48.30h-6.8" stroke="#555555" stroke-width="1.5" fill="none"/>
<rect x="76.6" y="317.6" width="607.80" height="216.00" fill="none" stroke="#555555" stroke-width="1.5"/>
<path d="M137.27 533.6v-6.8M137.27 317.6v6.8M197.95 533.6v-12.7M197.95 317.6v12.7M258.62 533.6v-6.8M258.62 317.6v6.8M319.30 533.6v-12.7M319.30 317.6v12.7M379.98 533.6v-6.8M379.98 317.6v6.8M440.65 533.6v-12.7M440.65 317.6v12.7M501.33 533.6v-6.8M501.33 317.6v6.8M562.00 533.6v-12.7M562.00 317.6v12.7M622.68 533.6v-6.8M622.68 317.6v6.8M76.6 507.10h6.8M684.4 507.10h-6.8M76.6 480.60h12.7M684.4 480.60h-12.7M76.6 454.10h6.8M684.4 454.10h-6.8M76.6 427.60h12.7M684.4 427.60h-12.7M76.6 401.10h6.8M684.4 401.10h-6.8M76.6 374.60h12.7M684.4 374.60h-12.7M76.6 348.10h6.8M684.4 348.10h-6.8" stroke="#555555" stroke-width="1.5" fill="none"/>
<text x="69.20" y="261" text-anchor="middle" font-size="17">0</text>
<text x="190.55" y="261" text-anchor="middle" font-size="17">10000</text>
<text x="311.90" y="261" text-anchor="middle" font-size="17">20000</text>
<text x="433.25" y="261" text-anchor="middle" font-size="17">30000</text>
<text x="554.60" y="261" text-anchor="middle" font-size="17">40000</text>
<text x="676.60" y="261" text-anchor="middle" font-size="17">50000</text>
<text x="63.5" y="248.30" text-anchor="end" font-size="17">0</text>
<text x="63.5" y="212.90" text-anchor="end" font-size="17">0.1</text>
<text x="63.5" y="177.50" text-anchor="end" font-size="17">0.2</text>
<text x="63.5" y="142.10" text-anchor="end" font-size="17">0.3</text>
<text x="63.5" y="106.70" text-anchor="end" font-size="17">0.4</text>
<text x="63.5" y="71.30" text-anchor="end" font-size="17">0.5</text>
<text x="63.5" y="35.90" text-anchor="end" font-size="17">0.6</text>
<text x="76.60" y="552" text-anchor="middle" font-size="17">0</text>
<text x="197.95" y="552" text-anchor="middle" font-size="17">10000</text>
<text x="319.30" y="552" text-anchor="middle" font-size="17">20000</text>
<text x="440.65" y="552" text-anchor="middle" font-size="17">30000</text>
<text x="562.00" y="552" text-anchor="middle" font-size="17">40000</text>
<text x="684.70" y="552" text-anchor="middle" font-size="17">50000</text>
<text x="70.5" y="538.90" text-anchor="end" font-size="17">0</text>
<text x="70.5" y="485.90" text-anchor="end" font-size="17">0.1</text>
<text x="70.5" y="432.90" text-anchor="end" font-size="17">0.2</text>
<text x="70.5" y="379.90" text-anchor="end" font-size="17">0.3</text>
<text x="70.5" y="326.90" text-anchor="end" font-size="17">0.4</text>
<text x="373.5" y="278.5" text-anchor="middle" font-size="17">Time (ps)</text>
<text x="381.2" y="569.5" text-anchor="middle" font-size="17">Time (ps)</text>
<text transform="translate(33,135.4) rotate(-90)" text-anchor="middle" font-size="16.8">RMSD (nm)</text>
<text transform="translate(40,423.2) rotate(-90)" text-anchor="middle" font-size="16.8">RMSD (nm)</text>
<text x="1.4" y="20.6" font-size="26.5">(a)</text>
<text x="3" y="310" font-size="26.5">(b)</text>
</svg></body></html>
